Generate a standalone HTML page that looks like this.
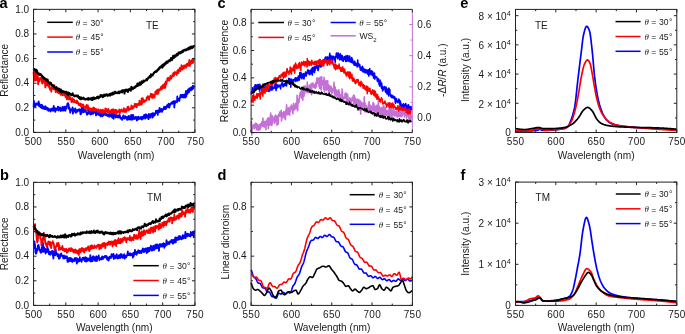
<!DOCTYPE html>
<html><head><meta charset="utf-8"><style>
html,body{margin:0;padding:0;background:#fff;width:685px;height:334px;overflow:hidden}
svg{display:block;will-change:transform}
svg{font-family:"Liberation Sans",sans-serif;font-size:10px;fill:#1a1a1a}
</style></head><body>
<svg width="685" height="334" viewBox="0 0 685 334">
<rect width="685" height="334" fill="#fff"/>
<path d="M33.6,107.4L33.9,100.8L34.2,105.9L34.5,104.6L34.8,106.1L35.1,104.8L35.4,106.6L35.7,104.1L36.0,103.4L36.3,104.7L36.6,104.5L36.9,103.4L37.2,103.5L37.5,104.8L37.8,104.7L38.1,103.2L38.4,103.3L38.7,101.5L39.0,106.0L39.3,103.5L39.6,105.6L39.9,104.6L40.2,107.0L40.5,106.8L40.8,105.7L41.1,107.6L41.4,104.9L41.7,108.1L42.0,104.8L42.3,107.3L42.6,108.4L42.9,107.5L43.2,106.9L43.5,106.4L43.8,107.2L44.1,109.1L44.4,109.0L44.7,107.6L45.0,106.4L45.3,109.0L45.6,106.4L45.9,107.6L46.2,107.5L46.5,109.5L46.8,108.9L47.1,109.3L47.4,109.1L47.7,107.9L48.0,109.6L48.3,110.8L48.6,109.0L48.9,110.0L49.2,109.0L49.5,110.6L49.8,110.2L50.1,110.5L50.4,109.8L50.7,111.5L51.0,108.9L51.3,109.0L51.6,108.6L51.9,110.2L52.2,108.6L52.5,108.6L52.8,110.3L53.1,110.9L53.4,110.1L53.7,105.9L54.0,108.2L54.3,108.0L54.6,107.8L54.9,108.9L55.2,111.8L55.5,109.0L55.8,108.4L56.1,110.3L56.4,109.4L56.7,109.5L57.0,108.4L57.3,109.3L57.6,109.8L57.9,106.7L58.2,107.0L58.5,110.5L58.8,110.1L59.1,108.3L59.4,107.6L59.7,108.7L60.0,107.3L60.3,108.4L60.6,111.0L60.9,109.0L61.2,110.3L61.5,108.5L61.8,109.2L62.1,110.5L62.4,107.0L62.7,108.2L63.0,108.5L63.3,109.0L63.6,110.6L63.9,109.5L64.2,106.6L64.5,108.1L64.8,107.3L65.1,107.1L65.4,110.9L65.7,106.7L66.0,108.2L66.3,106.7L66.6,108.5L66.9,106.6L67.2,104.8L67.5,103.5L67.8,105.2L68.1,103.2L68.4,104.5L68.7,104.8L69.0,109.0L69.3,108.0L69.6,107.8L69.9,108.9L70.2,112.8L70.5,109.6L70.8,111.0L71.1,110.6L71.4,110.0L71.7,109.2L72.0,109.7L72.3,109.8L72.6,107.4L72.9,113.7L73.2,111.5L73.5,110.5L73.8,110.0L74.1,109.3L74.4,111.5L74.7,110.1L75.0,110.9L75.3,108.5L75.6,110.8L75.9,112.9L76.2,109.9L76.5,111.3L76.8,110.3L77.1,111.7L77.4,111.7L77.7,110.4L78.0,109.6L78.3,110.7L78.6,110.4L78.9,109.5L79.2,110.9L79.5,110.9L79.8,109.2L80.1,110.3L80.4,114.3L80.7,111.6L81.0,110.7L81.3,113.8L81.6,110.0L81.9,107.4L82.2,108.2L82.5,108.7L82.8,111.1L83.1,112.1L83.4,108.0L83.7,112.3L84.0,109.3L84.3,111.3L84.6,111.7L84.9,111.7L85.2,111.2L85.5,111.4L85.8,109.8L86.1,111.7L86.4,112.6L86.7,112.6L87.0,114.9L87.3,112.9L87.6,112.5L87.9,113.8L88.2,112.0L88.5,110.0L88.8,108.8L89.1,113.5L89.4,112.6L89.7,113.0L90.0,111.5L90.3,112.5L90.6,114.5L90.9,112.5L91.2,110.7L91.5,111.6L91.8,114.1L92.1,110.9L92.4,109.0L92.7,109.5L93.0,110.8L93.3,113.6L93.6,112.7L93.9,111.7L94.2,111.1L94.5,112.7L94.8,112.7L95.1,112.2L95.4,112.7L95.7,112.1L96.0,115.5L96.3,110.1L96.6,113.4L96.9,112.0L97.2,114.3L97.5,113.1L97.8,113.9L98.1,114.2L98.4,113.8L98.7,114.9L99.0,111.8L99.3,114.9L99.6,113.4L99.9,114.3L100.2,115.8L100.5,115.3L100.8,116.5L101.1,111.0L101.4,112.7L101.7,115.2L102.0,112.6L102.3,113.8L102.6,116.3L102.9,115.3L103.2,112.9L103.5,114.8L103.8,115.1L104.1,114.4L104.4,114.2L104.7,114.6L105.0,112.5L105.3,114.7L105.6,113.3L105.9,115.2L106.2,115.3L106.5,113.6L106.8,115.6L107.1,115.4L107.4,114.9L107.7,116.0L108.0,114.7L108.3,114.8L108.6,115.3L108.9,115.2L109.2,116.8L109.5,112.3L109.8,115.1L110.1,112.9L110.4,114.9L110.7,115.9L111.0,115.6L111.3,116.9L111.6,116.1L111.9,112.2L112.2,114.3L112.5,117.8L112.8,117.9L113.1,116.0L113.4,113.9L113.7,118.8L114.0,113.3L114.3,116.4L114.6,116.0L114.9,116.4L115.2,114.6L115.5,115.7L115.8,117.7L116.1,115.7L116.4,114.6L116.7,116.4L117.0,116.6L117.3,116.4L117.6,115.7L117.9,117.5L118.2,116.7L118.5,115.4L118.8,117.3L119.1,117.1L119.4,117.4L119.7,115.0L120.0,116.3L120.3,117.9L120.6,118.6L120.9,117.9L121.2,117.7L121.5,118.5L121.8,118.9L122.1,119.9L122.4,118.3L122.7,117.0L123.0,118.4L123.3,115.3L123.6,118.0L123.9,117.3L124.2,117.9L124.5,118.6L124.8,118.1L125.1,116.2L125.4,117.6L125.7,117.1L126.0,118.1L126.3,118.6L126.6,116.9L126.9,119.1L127.2,119.9L127.5,117.8L127.8,119.1L128.1,116.3L128.4,117.5L128.7,119.4L129.0,115.9L129.3,117.5L129.6,117.0L129.9,119.7L130.2,119.7L130.5,117.4L130.8,118.4L131.1,114.8L131.4,119.3L131.7,118.6L132.0,119.9L132.3,115.1L132.6,118.6L132.9,117.7L133.2,114.8L133.5,117.3L133.8,118.1L134.1,119.2L134.4,118.4L134.7,117.5L135.0,118.8L135.3,118.0L135.6,117.3L135.9,116.8L136.2,118.3L136.5,118.3L136.8,120.5L137.1,117.5L137.4,120.1L137.7,118.5L138.0,119.5L138.3,116.7L138.6,116.7L138.9,117.4L139.2,118.9L139.5,118.0L139.8,118.6L140.1,118.0L140.4,118.9L140.7,117.8L141.0,116.8L141.3,118.1L141.6,117.5L141.9,119.6L142.2,117.0L142.5,117.3L142.8,116.8L143.1,118.6L143.4,118.2L143.7,117.9L144.0,115.3L144.3,114.9L144.6,117.2L144.9,117.7L145.2,118.7L145.5,114.4L145.8,116.4L146.1,114.4L146.4,115.3L146.7,116.2L147.0,117.7L147.3,115.7L147.6,115.4L147.9,115.8L148.2,117.8L148.5,119.2L148.8,114.0L149.1,115.6L149.4,115.3L149.7,117.3L150.0,116.3L150.3,117.6L150.6,114.2L150.9,115.4L151.2,114.7L151.5,113.8L151.8,114.9L152.1,113.4L152.4,117.6L152.7,115.2L153.0,113.2L153.3,113.6L153.6,116.5L153.9,113.5L154.2,114.9L154.5,114.6L154.8,115.1L155.1,114.3L155.4,113.1L155.7,112.4L156.0,110.7L156.3,112.8L156.6,112.9L156.9,112.1L157.2,112.2L157.5,110.7L157.8,114.9L158.1,111.2L158.4,110.4L158.7,110.8L159.0,111.1L159.3,112.1L159.6,107.8L159.9,111.5L160.2,109.8L160.5,110.2L160.8,111.5L161.1,111.0L161.4,108.9L161.7,109.5L162.0,111.9L162.3,111.0L162.6,110.2L162.9,108.9L163.2,109.9L163.5,109.0L163.8,107.6L164.1,106.8L164.4,108.6L164.7,108.2L165.0,109.1L165.3,106.8L165.6,109.0L165.9,106.6L166.2,108.5L166.5,107.4L166.8,105.8L167.1,105.1L167.4,106.1L167.7,105.7L168.0,107.1L168.3,104.8L168.6,103.6L168.9,105.4L169.2,107.7L169.5,107.2L169.8,104.1L170.1,104.4L170.4,105.0L170.7,103.5L171.0,103.9L171.3,103.7L171.6,102.5L171.9,102.9L172.2,102.9L172.5,103.7L172.8,101.6L173.1,103.1L173.4,101.5L173.7,101.6L174.0,101.0L174.3,107.5L174.6,103.7L174.9,103.6L175.2,102.7L175.5,101.1L175.8,101.3L176.1,101.4L176.4,101.4L176.7,101.3L177.0,102.3L177.3,96.3L177.6,99.2L177.9,100.5L178.2,99.0L178.5,99.0L178.8,100.9L179.1,99.0L179.4,100.8L179.7,98.2L180.0,98.3L180.3,96.4L180.6,95.0L180.9,96.8L181.2,97.2L181.5,96.4L181.8,94.8L182.1,97.2L182.4,96.2L182.7,95.9L183.0,94.6L183.3,97.6L183.6,97.1L183.9,95.3L184.2,94.6L184.5,94.8L184.8,96.5L185.1,97.7L185.4,93.8L185.7,93.0L186.0,90.9L186.3,96.7L186.6,91.4L186.9,93.7L187.2,93.0L187.5,93.9L187.8,90.8L188.1,89.5L188.4,91.6L188.7,91.7L189.0,92.4L189.3,88.5L189.6,89.9L189.9,89.9L190.2,88.2L190.5,89.5L190.8,90.5L191.1,89.2L191.4,87.1L191.7,89.2L192.0,89.6L192.3,89.0L192.6,89.1L192.9,85.7L193.2,88.2L193.5,88.1L193.8,86.6L194.1,86.8L194.4,85.6" stroke="#0000ff" stroke-width="1.8" fill="none" stroke-linejoin="round"/>
<path d="M33.6,72.0L33.9,77.0L34.2,76.4L34.5,76.8L34.8,80.7L35.1,70.3L35.4,72.9L35.7,70.7L36.0,75.6L36.3,80.1L36.6,76.6L36.9,78.8L37.2,70.4L37.5,78.1L37.8,74.6L38.1,84.3L38.4,81.4L38.7,81.8L39.0,78.6L39.3,81.1L39.6,81.4L39.9,78.3L40.2,78.0L40.5,79.5L40.8,78.1L41.1,78.3L41.4,79.5L41.7,78.3L42.0,83.1L42.3,76.0L42.6,83.5L42.9,79.3L43.2,79.7L43.5,77.6L43.8,81.3L44.1,81.2L44.4,82.6L44.7,80.7L45.0,82.7L45.3,87.5L45.6,83.9L45.9,81.5L46.2,85.7L46.5,83.1L46.8,85.1L47.1,85.4L47.4,83.1L47.7,79.5L48.0,83.6L48.3,86.0L48.6,84.0L48.9,86.2L49.2,87.6L49.5,84.3L49.8,88.6L50.1,89.7L50.4,88.6L50.7,89.0L51.0,89.0L51.3,91.8L51.6,87.4L51.9,87.2L52.2,88.7L52.5,85.7L52.8,84.6L53.1,86.2L53.4,89.0L53.7,89.4L54.0,85.6L54.3,85.2L54.6,88.5L54.9,88.9L55.2,89.4L55.5,91.0L55.8,92.2L56.1,90.5L56.4,91.4L56.7,88.5L57.0,88.6L57.3,91.3L57.6,92.3L57.9,92.5L58.2,92.5L58.5,93.0L58.8,93.2L59.1,89.0L59.4,90.9L59.7,93.1L60.0,93.5L60.3,90.3L60.6,94.8L60.9,92.4L61.2,92.9L61.5,93.8L61.8,94.7L62.1,91.6L62.4,95.4L62.7,94.2L63.0,93.2L63.3,94.1L63.6,91.5L63.9,93.9L64.2,95.3L64.5,94.2L64.8,94.9L65.1,95.4L65.4,95.8L65.7,97.3L66.0,96.1L66.3,95.9L66.6,97.2L66.9,99.3L67.2,96.4L67.5,97.6L67.8,95.3L68.1,99.0L68.4,98.3L68.7,99.3L69.0,97.8L69.3,96.9L69.6,99.3L69.9,99.3L70.2,97.7L70.5,97.2L70.8,99.5L71.1,99.0L71.4,102.2L71.7,98.8L72.0,99.1L72.3,99.8L72.6,98.2L72.9,99.3L73.2,102.2L73.5,100.5L73.8,100.1L74.1,99.6L74.4,101.8L74.7,102.1L75.0,101.8L75.3,101.3L75.6,102.2L75.9,102.5L76.2,101.5L76.5,103.2L76.8,100.3L77.1,101.4L77.4,102.7L77.7,103.1L78.0,102.1L78.3,103.9L78.6,104.9L78.9,104.4L79.2,104.3L79.5,105.1L79.8,104.8L80.1,103.3L80.4,104.5L80.7,106.3L81.0,103.8L81.3,105.2L81.6,104.9L81.9,104.5L82.2,104.5L82.5,105.8L82.8,106.2L83.1,106.3L83.4,104.6L83.7,106.0L84.0,106.8L84.3,107.6L84.6,107.4L84.9,107.7L85.2,108.1L85.5,107.9L85.8,106.2L86.1,107.3L86.4,106.6L86.7,104.8L87.0,105.7L87.3,110.0L87.6,106.5L87.9,105.4L88.2,107.3L88.5,109.7L88.8,108.1L89.1,108.7L89.4,108.0L89.7,108.3L90.0,109.9L90.3,109.4L90.6,108.6L90.9,109.7L91.2,110.0L91.5,108.6L91.8,109.3L92.1,109.3L92.4,108.4L92.7,110.4L93.0,109.0L93.3,108.6L93.6,107.5L93.9,108.0L94.2,111.1L94.5,108.2L94.8,110.0L95.1,109.2L95.4,110.2L95.7,110.4L96.0,108.9L96.3,109.5L96.6,110.0L96.9,110.0L97.2,109.9L97.5,109.7L97.8,110.8L98.1,111.6L98.4,110.8L98.7,109.4L99.0,110.7L99.3,110.4L99.6,110.9L99.9,112.5L100.2,110.3L100.5,110.6L100.8,109.7L101.1,110.4L101.4,110.2L101.7,112.6L102.0,111.3L102.3,110.3L102.6,113.1L102.9,109.6L103.2,112.0L103.5,112.2L103.8,111.7L104.1,110.8L104.4,111.0L104.7,110.7L105.0,112.0L105.3,108.5L105.6,110.5L105.9,111.3L106.2,110.5L106.5,109.1L106.8,110.8L107.1,110.3L107.4,112.0L107.7,112.6L108.0,111.2L108.3,109.0L108.6,110.9L108.9,110.1L109.2,111.9L109.5,113.0L109.8,111.4L110.1,113.3L110.4,112.8L110.7,111.9L111.0,110.2L111.3,111.3L111.6,109.6L111.9,112.4L112.2,111.4L112.5,112.7L112.8,111.6L113.1,109.1L113.4,112.0L113.7,112.3L114.0,113.1L114.3,110.2L114.6,110.2L114.9,111.3L115.2,110.1L115.5,109.7L115.8,110.1L116.1,114.1L116.4,110.5L116.7,110.1L117.0,110.7L117.3,111.2L117.6,112.6L117.9,112.2L118.2,112.0L118.5,111.2L118.8,111.3L119.1,110.4L119.4,109.4L119.7,113.3L120.0,110.5L120.3,112.1L120.6,110.6L120.9,110.8L121.2,110.7L121.5,109.3L121.8,110.7L122.1,111.2L122.4,111.6L122.7,111.2L123.0,111.7L123.3,110.8L123.6,110.4L123.9,108.2L124.2,109.7L124.5,111.9L124.8,110.3L125.1,110.9L125.4,109.7L125.7,109.1L126.0,112.1L126.3,110.1L126.6,111.3L126.9,110.1L127.2,109.2L127.5,106.9L127.8,109.4L128.1,107.5L128.4,106.7L128.7,110.4L129.0,109.7L129.3,109.5L129.6,108.8L129.9,108.6L130.2,109.0L130.5,108.6L130.8,108.3L131.1,109.0L131.4,105.3L131.7,108.9L132.0,107.0L132.3,108.6L132.6,108.8L132.9,106.4L133.2,108.1L133.5,108.0L133.8,106.1L134.1,106.2L134.4,106.8L134.7,103.8L135.0,105.8L135.3,106.4L135.6,105.5L135.9,103.9L136.2,105.2L136.5,107.4L136.8,107.0L137.1,105.0L137.4,104.0L137.7,104.8L138.0,104.7L138.3,103.6L138.6,103.9L138.9,104.9L139.2,105.1L139.5,100.6L139.8,104.8L140.1,103.5L140.4,104.6L140.7,102.9L141.0,103.3L141.3,104.7L141.6,98.5L141.9,104.2L142.2,102.2L142.5,99.4L142.8,98.1L143.1,101.8L143.4,99.9L143.7,102.4L144.0,101.2L144.3,100.5L144.6,101.8L144.9,100.6L145.2,101.1L145.5,101.0L145.8,100.2L146.1,100.6L146.4,100.4L146.7,97.3L147.0,98.6L147.3,98.6L147.6,98.0L147.9,96.1L148.2,97.4L148.5,98.5L148.8,98.1L149.1,99.8L149.4,96.5L149.7,96.6L150.0,96.2L150.3,96.4L150.6,95.7L150.9,93.7L151.2,96.7L151.5,97.5L151.8,97.5L152.1,94.1L152.4,95.2L152.7,98.0L153.0,94.9L153.3,95.4L153.6,94.5L153.9,96.0L154.2,95.8L154.5,97.6L154.8,94.6L155.1,94.4L155.4,91.6L155.7,92.6L156.0,91.9L156.3,92.3L156.6,90.5L156.9,94.2L157.2,90.4L157.5,92.2L157.8,89.6L158.1,91.8L158.4,93.6L158.7,89.5L159.0,91.1L159.3,90.1L159.6,90.4L159.9,90.4L160.2,88.4L160.5,88.8L160.8,87.9L161.1,87.2L161.4,86.3L161.7,89.5L162.0,86.5L162.3,88.4L162.6,88.0L162.9,85.2L163.2,88.1L163.5,84.8L163.8,86.8L164.1,87.9L164.4,84.1L164.7,83.4L165.0,83.1L165.3,87.9L165.6,83.3L165.9,81.5L166.2,84.4L166.5,82.5L166.8,82.3L167.1,80.4L167.4,78.1L167.7,80.1L168.0,79.2L168.3,77.9L168.6,78.4L168.9,78.2L169.2,80.7L169.5,80.2L169.8,79.5L170.1,77.5L170.4,76.0L170.7,78.2L171.0,78.2L171.3,78.7L171.6,76.7L171.9,76.3L172.2,76.7L172.5,74.4L172.8,74.3L173.1,76.3L173.4,73.0L173.7,74.6L174.0,75.7L174.3,74.5L174.6,74.5L174.9,71.8L175.2,73.1L175.5,72.6L175.8,73.7L176.1,73.2L176.4,72.3L176.7,75.0L177.0,72.6L177.3,71.0L177.6,70.2L177.9,70.9L178.2,69.8L178.5,73.1L178.8,71.1L179.1,69.5L179.4,68.7L179.7,67.8L180.0,68.8L180.3,71.1L180.6,70.2L180.9,68.5L181.2,68.6L181.5,65.2L181.8,69.1L182.1,67.3L182.4,69.7L182.7,67.0L183.0,66.3L183.3,67.2L183.6,65.6L183.9,68.6L184.2,66.7L184.5,66.6L184.8,66.3L185.1,65.1L185.4,66.2L185.7,65.5L186.0,67.9L186.3,65.0L186.6,65.3L186.9,63.8L187.2,63.7L187.5,63.6L187.8,66.0L188.1,63.9L188.4,65.1L188.7,63.0L189.0,62.6L189.3,60.0L189.6,64.2L189.9,66.0L190.2,62.1L190.5,64.6L190.8,63.4L191.1,60.8L191.4,62.9L191.7,60.1L192.0,60.8L192.3,63.1L192.6,61.2L192.9,58.8L193.2,62.8L193.5,58.6L193.8,59.9L194.1,59.4L194.4,59.5" stroke="#ff0000" stroke-width="1.8" fill="none" stroke-linejoin="round"/>
<path d="M33.6,69.0L33.9,70.0L34.2,70.1L34.5,69.0L34.8,69.3L35.1,69.4L35.4,70.4L35.7,70.3L36.0,71.2L36.3,69.7L36.6,72.4L36.9,71.6L37.2,72.5L37.5,72.3L37.8,72.5L38.1,73.4L38.4,74.0L38.7,73.6L39.0,73.9L39.3,74.7L39.6,73.9L39.9,73.7L40.2,75.3L40.5,74.8L40.8,74.2L41.1,75.2L41.4,75.6L41.7,75.4L42.0,75.4L42.3,76.7L42.6,77.5L42.9,77.0L43.2,76.8L43.5,77.9L43.8,78.3L44.1,77.9L44.4,78.7L44.7,79.3L45.0,78.7L45.3,78.5L45.6,79.6L45.9,79.8L46.2,80.6L46.5,79.2L46.8,79.9L47.1,80.1L47.4,79.8L47.7,81.3L48.0,81.9L48.3,81.3L48.6,83.1L48.9,82.9L49.2,83.1L49.5,83.2L49.8,83.8L50.1,82.5L50.4,84.1L50.7,84.4L51.0,83.0L51.3,84.7L51.6,84.5L51.9,85.5L52.2,84.9L52.5,85.4L52.8,85.9L53.1,85.3L53.4,86.5L53.7,86.3L54.0,86.9L54.3,86.4L54.6,87.8L54.9,87.6L55.2,87.3L55.5,88.1L55.8,88.7L56.1,89.3L56.4,87.1L56.7,89.0L57.0,88.9L57.3,88.7L57.6,88.3L57.9,90.0L58.2,88.4L58.5,89.9L58.8,90.6L59.1,88.7L59.4,89.8L59.7,89.2L60.0,90.5L60.3,91.5L60.6,92.0L60.9,89.5L61.2,90.5L61.5,91.5L61.8,92.3L62.1,91.6L62.4,90.9L62.7,91.8L63.0,91.7L63.3,91.7L63.6,91.4L63.9,92.3L64.2,92.4L64.5,92.2L64.8,92.2L65.1,91.6L65.4,92.2L65.7,93.5L66.0,92.6L66.3,91.9L66.6,93.9L66.9,93.4L67.2,94.6L67.5,93.3L67.8,93.0L68.1,92.4L68.4,94.4L68.7,95.4L69.0,93.1L69.3,93.3L69.6,94.3L69.9,93.4L70.2,93.9L70.5,93.9L70.8,94.4L71.1,95.1L71.4,94.4L71.7,95.1L72.0,94.3L72.3,94.9L72.6,93.3L72.9,93.9L73.2,95.5L73.5,94.7L73.8,95.6L74.1,95.7L74.4,96.3L74.7,96.1L75.0,96.4L75.3,95.7L75.6,95.4L75.9,95.5L76.2,95.8L76.5,95.5L76.8,96.0L77.1,96.5L77.4,96.8L77.7,96.5L78.0,95.5L78.3,97.0L78.6,97.3L78.9,98.0L79.2,97.7L79.5,97.0L79.8,97.0L80.1,99.0L80.4,98.3L80.7,99.1L81.0,99.4L81.3,97.4L81.6,98.4L81.9,98.5L82.2,98.7L82.5,98.8L82.8,98.7L83.1,98.7L83.4,97.6L83.7,98.7L84.0,98.3L84.3,99.0L84.6,98.6L84.9,99.4L85.2,99.6L85.5,99.3L85.8,99.3L86.1,99.2L86.4,98.8L86.7,99.0L87.0,98.7L87.3,99.4L87.6,99.1L87.9,99.5L88.2,98.1L88.5,99.7L88.8,98.5L89.1,98.5L89.4,98.9L89.7,98.6L90.0,99.2L90.3,98.5L90.6,98.2L90.9,98.3L91.2,99.8L91.5,98.9L91.8,98.0L92.1,98.8L92.4,97.7L92.7,100.0L93.0,97.6L93.3,98.9L93.6,98.9L93.9,97.5L94.2,98.6L94.5,99.0L94.8,98.6L95.1,98.3L95.4,98.7L95.7,98.1L96.0,98.1L96.3,97.7L96.6,98.1L96.9,96.9L97.2,98.1L97.5,97.1L97.8,96.6L98.1,97.5L98.4,98.4L98.7,97.8L99.0,96.7L99.3,97.5L99.6,96.6L99.9,96.7L100.2,96.8L100.5,95.1L100.8,96.7L101.1,95.8L101.4,96.0L101.7,95.3L102.0,95.2L102.3,95.6L102.6,96.7L102.9,97.2L103.2,96.0L103.5,96.7L103.8,95.7L104.1,94.4L104.4,95.8L104.7,95.9L105.0,95.2L105.3,95.7L105.6,95.8L105.9,94.7L106.2,94.2L106.5,95.0L106.8,94.9L107.1,94.7L107.4,95.6L107.7,96.0L108.0,94.4L108.3,95.1L108.6,95.2L108.9,95.0L109.2,95.1L109.5,94.1L109.8,94.8L110.1,95.6L110.4,94.7L110.7,93.6L111.0,94.4L111.3,94.8L111.6,94.1L111.9,93.3L112.2,94.7L112.5,92.7L112.8,93.9L113.1,93.4L113.4,92.5L113.7,94.2L114.0,93.5L114.3,92.4L114.6,93.5L114.9,92.7L115.2,91.6L115.5,92.4L115.8,93.0L116.1,93.2L116.4,92.8L116.7,92.7L117.0,92.9L117.3,92.4L117.6,93.3L117.9,92.5L118.2,92.6L118.5,92.7L118.8,91.5L119.1,91.7L119.4,93.2L119.7,92.3L120.0,91.8L120.3,92.2L120.6,91.5L120.9,92.0L121.2,91.3L121.5,91.9L121.8,90.5L122.1,92.5L122.4,91.1L122.7,90.3L123.0,91.2L123.3,91.0L123.6,91.3L123.9,90.4L124.2,91.4L124.5,93.6L124.8,90.0L125.1,91.1L125.4,90.6L125.7,90.9L126.0,89.4L126.3,89.7L126.6,90.8L126.9,90.4L127.2,91.4L127.5,89.7L127.8,90.2L128.1,92.0L128.4,89.4L128.7,89.2L129.0,89.6L129.3,89.5L129.6,90.0L129.9,89.4L130.2,88.6L130.5,89.2L130.8,90.7L131.1,89.7L131.4,86.7L131.7,88.4L132.0,87.7L132.3,88.6L132.6,87.9L132.9,89.2L133.2,88.4L133.5,88.2L133.8,87.6L134.1,87.2L134.4,87.3L134.7,87.9L135.0,87.2L135.3,86.4L135.6,87.4L135.9,86.5L136.2,86.1L136.5,85.4L136.8,85.4L137.1,85.2L137.4,83.5L137.7,86.0L138.0,85.5L138.3,84.8L138.6,85.5L138.9,84.9L139.2,84.7L139.5,82.5L139.8,83.9L140.1,84.2L140.4,84.8L140.7,84.8L141.0,84.3L141.3,82.3L141.6,81.4L141.9,83.1L142.2,82.5L142.5,83.0L142.8,82.0L143.1,82.1L143.4,80.6L143.7,81.8L144.0,81.0L144.3,81.3L144.6,81.2L144.9,80.6L145.2,80.6L145.5,80.2L145.8,80.5L146.1,80.1L146.4,79.2L146.7,78.9L147.0,80.3L147.3,78.8L147.6,79.3L147.9,78.7L148.2,77.8L148.5,77.4L148.8,77.8L149.1,77.6L149.4,77.6L149.7,76.1L150.0,76.3L150.3,76.4L150.6,77.3L150.9,74.3L151.2,76.0L151.5,75.0L151.8,75.4L152.1,74.5L152.4,74.8L152.7,75.4L153.0,74.2L153.3,74.0L153.6,73.7L153.9,72.6L154.2,73.2L154.5,72.4L154.8,71.7L155.1,72.0L155.4,71.6L155.7,72.0L156.0,71.2L156.3,70.6L156.6,71.7L156.9,71.1L157.2,71.1L157.5,70.4L157.8,69.6L158.1,69.1L158.4,69.0L158.7,69.6L159.0,68.8L159.3,67.4L159.6,68.2L159.9,67.0L160.2,67.9L160.5,66.7L160.8,66.4L161.1,67.1L161.4,66.8L161.7,65.4L162.0,66.9L162.3,67.6L162.6,64.8L162.9,66.9L163.2,64.9L163.5,64.8L163.8,64.8L164.1,63.7L164.4,65.4L164.7,64.6L165.0,63.5L165.3,63.5L165.6,62.4L165.9,63.0L166.2,63.7L166.5,61.6L166.8,62.2L167.1,62.4L167.4,62.8L167.7,62.8L168.0,61.2L168.3,60.8L168.6,61.4L168.9,60.6L169.2,60.4L169.5,61.1L169.8,61.3L170.1,60.1L170.4,59.5L170.7,59.8L171.0,57.9L171.3,58.9L171.6,58.0L171.9,60.2L172.2,58.8L172.5,58.1L172.8,57.7L173.1,55.8L173.4,57.9L173.7,58.3L174.0,56.4L174.3,57.2L174.6,57.0L174.9,55.2L175.2,56.8L175.5,56.8L175.8,55.8L176.1,55.4L176.4,55.8L176.7,54.0L177.0,54.9L177.3,55.4L177.6,53.6L177.9,54.9L178.2,53.8L178.5,52.4L178.8,53.6L179.1,52.8L179.4,53.5L179.7,52.3L180.0,53.6L180.3,52.2L180.6,52.8L180.9,51.9L181.2,51.9L181.5,52.8L181.8,52.0L182.1,51.4L182.4,50.6L182.7,52.1L183.0,51.7L183.3,50.8L183.6,51.0L183.9,50.0L184.2,49.8L184.5,49.8L184.8,50.5L185.1,50.3L185.4,49.5L185.7,50.4L186.0,50.3L186.3,49.7L186.6,50.2L186.9,49.1L187.2,49.1L187.5,49.4L187.8,48.9L188.1,49.3L188.4,47.8L188.7,49.5L189.0,47.9L189.3,48.2L189.6,47.2L189.9,48.5L190.2,48.8L190.5,48.6L190.8,48.3L191.1,46.5L191.4,46.9L191.7,47.1L192.0,46.6L192.3,48.0L192.6,47.2L192.9,47.0L193.2,47.2L193.5,46.1L193.8,46.1L194.1,46.0L194.4,46.9" stroke="#000000" stroke-width="2.0" fill="none" stroke-linejoin="round"/>
<rect x="33.55" y="9.35" width="161.35" height="123.05" fill="none" stroke="#222" stroke-width="1"/>
<path d="M33.55,132.4v-3.0M33.55,9.35v3.0M65.82,132.4v-3.0M65.82,9.35v3.0M98.09,132.4v-3.0M98.09,9.35v3.0M130.36,132.4v-3.0M130.36,9.35v3.0M162.63,132.4v-3.0M162.63,9.35v3.0M194.9,132.4v-3.0M194.9,9.35v3.0M49.69,132.4v-1.8M49.69,9.35v1.8M81.96,132.4v-1.8M81.96,9.35v1.8M114.23,132.4v-1.8M114.23,9.35v1.8M146.5,132.4v-1.8M146.5,9.35v1.8M178.77,132.4v-1.8M178.77,9.35v1.8" stroke="#222" stroke-width="1" fill="none"/>
<text x="33.45" y="144.8" text-anchor="middle" letter-spacing="0.3">500</text>
<text x="66.25" y="144.8" text-anchor="middle" letter-spacing="0.3">550</text>
<text x="99.95" y="144.8" text-anchor="middle" letter-spacing="0.3">600</text>
<text x="133.05" y="144.8" text-anchor="middle" letter-spacing="0.3">650</text>
<text x="166.15" y="144.8" text-anchor="middle" letter-spacing="0.3">700</text>
<text x="195.55" y="144.8" text-anchor="middle" letter-spacing="0.3">750</text>
<path d="M33.55,132.4h3.0M194.9,132.4h-3.0M33.55,107.79h3.0M194.9,107.79h-3.0M33.55,83.18h3.0M194.9,83.18h-3.0M33.55,58.57h3.0M194.9,58.57h-3.0M33.55,33.96h3.0M194.9,33.96h-3.0M33.55,9.35h3.0M194.9,9.35h-3.0M33.55,120.09h1.8M194.9,120.09h-1.8M33.55,95.49h1.8M194.9,95.49h-1.8M33.55,70.88h1.8M194.9,70.88h-1.8M33.55,46.27h1.8M194.9,46.27h-1.8M33.55,21.65h1.8M194.9,21.65h-1.8" stroke="#222" stroke-width="1" fill="none"/>
<text x="29.05" y="135.6" text-anchor="end">0.0</text>
<text x="29.05" y="110.99" text-anchor="end">0.2</text>
<text x="29.05" y="86.38" text-anchor="end">0.4</text>
<text x="29.05" y="61.77" text-anchor="end">0.6</text>
<text x="29.05" y="37.16" text-anchor="end">0.8</text>
<text x="29.05" y="12.55" text-anchor="end">1.0</text>
<text transform="translate(8.3,70.3) rotate(-90)" text-anchor="middle" font-size="10">Reflectance</text>
<text x="116.1" y="159.2" text-anchor="middle" font-size="10.15">Wavelength (nm)</text>
<text x="-0.6" y="7.6" font-weight="bold" font-size="14.6" fill="#000">a</text>
<text x="146" y="29.0">TE</text>
<path d="M47.2,22.3H72.8" stroke="#000000" stroke-width="1.5"/>
<text x="75.8" y="25.6" font-family="Liberation Serif" font-style="italic" font-size="8.9">θ</text>
<text x="82.6" y="26.1" font-size="8.6">=</text>
<text x="90.4" y="25.6" font-size="8.6">30</text>
<text x="100.2" y="25.6" font-size="8.6">°</text>
<path d="M47.2,37.1H72.8" stroke="#ff0000" stroke-width="1.5"/>
<text x="75.8" y="40.4" font-family="Liberation Serif" font-style="italic" font-size="8.9">θ</text>
<text x="82.6" y="40.9" font-size="8.6">=</text>
<text x="90.4" y="40.4" font-size="8.6">45</text>
<text x="100.2" y="40.4" font-size="8.6">°</text>
<path d="M47.2,52H72.8" stroke="#0000ff" stroke-width="1.5"/>
<text x="75.8" y="55.3" font-family="Liberation Serif" font-style="italic" font-size="8.9">θ</text>
<text x="82.6" y="55.8" font-size="8.6">=</text>
<text x="90.4" y="55.3" font-size="8.6">55</text>
<text x="100.2" y="55.3" font-size="8.6">°</text>
<path d="M33.6,244.7L33.9,244.3L34.2,244.6L34.5,241.4L34.8,248.3L35.1,244.9L35.4,252.2L35.7,252.7L36.0,253.6L36.3,253.5L36.6,251.9L36.9,249.2L37.2,248.4L37.5,250.7L37.8,245.7L38.1,245.8L38.4,244.8L38.7,245.7L39.0,247.1L39.3,249.3L39.6,249.6L39.9,250.6L40.2,250.9L40.5,252.5L40.8,249.6L41.1,251.4L41.4,252.5L41.7,247.5L42.0,247.5L42.3,251.6L42.6,244.2L42.9,242.9L43.2,245.5L43.5,250.3L43.8,251.8L44.1,247.4L44.4,251.7L44.7,251.6L45.0,251.1L45.3,248.8L45.6,253.5L45.9,249.6L46.2,250.7L46.5,249.6L46.8,252.0L47.1,250.6L47.4,246.9L47.7,249.0L48.0,252.0L48.3,249.2L48.6,251.9L48.9,254.0L49.2,251.7L49.5,252.7L49.8,251.9L50.1,254.8L50.4,252.7L50.7,254.4L51.0,252.3L51.3,252.5L51.6,251.2L51.9,252.6L52.2,251.6L52.5,251.0L52.8,255.3L53.1,255.9L53.4,258.7L53.7,255.5L54.0,255.1L54.3,253.8L54.6,249.8L54.9,253.2L55.2,255.3L55.5,252.6L55.8,249.7L56.1,254.3L56.4,252.5L56.7,253.2L57.0,253.7L57.3,254.8L57.6,256.4L57.9,253.8L58.2,256.4L58.5,256.2L58.8,258.6L59.1,255.3L59.4,258.7L59.7,256.8L60.0,257.8L60.3,254.2L60.6,256.2L60.9,255.7L61.2,253.3L61.5,255.5L61.8,255.7L62.1,255.5L62.4,256.3L62.7,255.7L63.0,257.3L63.3,258.4L63.6,256.7L63.9,255.4L64.2,258.7L64.5,256.5L64.8,256.8L65.1,256.4L65.4,256.1L65.7,258.0L66.0,256.7L66.3,257.9L66.6,256.3L66.9,256.4L67.2,258.5L67.5,261.9L67.8,259.5L68.1,261.9L68.4,259.7L68.7,259.5L69.0,257.8L69.3,258.5L69.6,261.0L69.9,260.2L70.2,257.8L70.5,258.2L70.8,261.0L71.1,258.7L71.4,261.0L71.7,258.5L72.0,260.8L72.3,262.0L72.6,261.0L72.9,260.0L73.2,259.8L73.5,259.3L73.8,259.3L74.1,261.0L74.4,261.0L74.7,260.0L75.0,257.8L75.3,259.0L75.6,260.3L75.9,260.1L76.2,258.1L76.5,261.0L76.8,263.7L77.1,258.3L77.4,260.0L77.7,262.2L78.0,259.3L78.3,259.2L78.6,260.1L78.9,260.6L79.2,259.3L79.5,261.3L79.8,257.2L80.1,260.8L80.4,260.4L80.7,259.7L81.0,260.4L81.3,260.0L81.6,261.8L81.9,259.2L82.2,259.8L82.5,257.9L82.8,258.3L83.1,259.6L83.4,257.7L83.7,258.7L84.0,258.0L84.3,259.2L84.6,260.0L84.9,261.2L85.2,257.1L85.5,259.5L85.8,261.0L86.1,261.7L86.4,261.7L86.7,257.6L87.0,258.9L87.3,260.4L87.6,260.9L87.9,259.9L88.2,259.9L88.5,259.8L88.8,258.3L89.1,259.6L89.4,260.5L89.7,258.8L90.0,260.9L90.3,255.2L90.6,258.7L90.9,261.6L91.2,260.4L91.5,261.1L91.8,259.3L92.1,257.3L92.4,258.2L92.7,261.1L93.0,256.3L93.3,257.5L93.6,256.4L93.9,258.0L94.2,258.1L94.5,259.5L94.8,257.5L95.1,261.0L95.4,259.5L95.7,257.8L96.0,257.0L96.3,256.3L96.6,258.6L96.9,261.2L97.2,258.1L97.5,256.8L97.8,258.1L98.1,257.5L98.4,256.9L98.7,255.4L99.0,258.0L99.3,260.2L99.6,259.8L99.9,259.4L100.2,258.3L100.5,258.6L100.8,259.3L101.1,257.8L101.4,258.2L101.7,257.2L102.0,259.4L102.3,256.4L102.6,258.7L102.9,258.9L103.2,258.8L103.5,258.6L103.8,256.9L104.1,256.7L104.4,256.9L104.7,257.0L105.0,255.8L105.3,256.8L105.6,256.5L105.9,256.0L106.2,257.9L106.5,256.2L106.8,257.7L107.1,259.4L107.4,259.7L107.7,257.3L108.0,258.7L108.3,257.6L108.6,260.6L108.9,259.5L109.2,258.7L109.5,256.9L109.8,256.7L110.1,257.9L110.4,257.0L110.7,256.7L111.0,258.0L111.3,255.2L111.6,254.1L111.9,255.5L112.2,255.2L112.5,256.7L112.8,255.6L113.1,256.5L113.4,253.9L113.7,258.9L114.0,257.3L114.3,255.4L114.6,257.1L114.9,258.4L115.2,257.8L115.5,256.4L115.8,257.4L116.1,257.8L116.4,254.7L116.7,254.3L117.0,255.5L117.3,257.8L117.6,258.5L117.9,256.5L118.2,258.4L118.5,257.7L118.8,256.1L119.1,255.1L119.4,255.2L119.7,256.2L120.0,258.1L120.3,257.2L120.6,254.1L120.9,254.2L121.2,257.1L121.5,256.2L121.8,254.5L122.1,256.8L122.4,257.8L122.7,257.0L123.0,255.9L123.3,257.7L123.6,255.2L123.9,254.8L124.2,254.3L124.5,258.4L124.8,258.7L125.1,255.5L125.4,256.4L125.7,256.2L126.0,256.8L126.3,257.2L126.6,256.4L126.9,255.2L127.2,254.6L127.5,253.8L127.8,251.4L128.1,255.1L128.4,253.9L128.7,255.1L129.0,254.9L129.3,253.5L129.6,254.2L129.9,255.4L130.2,255.0L130.5,253.4L130.8,253.5L131.1,255.3L131.4,254.7L131.7,254.8L132.0,254.0L132.3,255.2L132.6,254.2L132.9,257.6L133.2,253.2L133.5,252.7L133.8,256.1L134.1,253.5L134.4,252.4L134.7,254.0L135.0,249.9L135.3,253.9L135.6,253.2L135.9,253.5L136.2,251.8L136.5,254.8L136.8,253.3L137.1,252.7L137.4,253.2L137.7,251.4L138.0,252.3L138.3,250.2L138.6,250.7L138.9,252.7L139.2,252.3L139.5,253.2L139.8,251.0L140.1,251.7L140.4,250.8L140.7,252.1L141.0,252.8L141.3,253.1L141.6,252.3L141.9,250.3L142.2,251.6L142.5,249.7L142.8,248.4L143.1,251.4L143.4,251.1L143.7,252.0L144.0,252.1L144.3,249.0L144.6,249.4L144.9,250.6L145.2,250.7L145.5,251.1L145.8,248.5L146.1,250.0L146.4,251.2L146.7,253.0L147.0,248.3L147.3,252.5L147.6,249.6L147.9,247.8L148.2,251.8L148.5,248.2L148.8,248.0L149.1,250.7L149.4,251.1L149.7,249.6L150.0,248.3L150.3,247.1L150.6,249.3L150.9,245.7L151.2,246.9L151.5,250.5L151.8,249.7L152.1,250.5L152.4,249.2L152.7,246.8L153.0,249.1L153.3,245.6L153.6,249.2L153.9,250.1L154.2,246.5L154.5,249.3L154.8,247.8L155.1,247.4L155.4,244.6L155.7,247.1L156.0,248.5L156.3,244.6L156.6,246.3L156.9,245.9L157.2,244.4L157.5,248.2L157.8,246.6L158.1,246.5L158.4,247.8L158.7,245.1L159.0,250.9L159.3,245.3L159.6,244.2L159.9,246.7L160.2,246.2L160.5,244.1L160.8,244.1L161.1,246.6L161.4,245.7L161.7,245.7L162.0,246.3L162.3,244.0L162.6,246.7L162.9,244.7L163.2,245.7L163.5,243.1L163.8,245.5L164.1,244.7L164.4,247.8L164.7,243.8L165.0,246.2L165.3,244.8L165.6,246.0L165.9,244.0L166.2,244.2L166.5,240.1L166.8,241.4L167.1,244.7L167.4,243.7L167.7,244.1L168.0,242.4L168.3,243.9L168.6,242.1L168.9,242.4L169.2,244.2L169.5,243.8L169.8,241.5L170.1,242.1L170.4,242.3L170.7,241.6L171.0,241.5L171.3,240.2L171.6,242.3L171.9,239.8L172.2,239.8L172.5,243.0L172.8,243.7L173.1,243.6L173.4,241.3L173.7,239.9L174.0,241.7L174.3,242.7L174.6,240.5L174.9,239.6L175.2,237.6L175.5,237.5L175.8,242.4L176.1,237.6L176.4,238.7L176.7,239.1L177.0,239.8L177.3,237.4L177.6,240.0L177.9,239.9L178.2,239.1L178.5,237.9L178.8,238.2L179.1,235.8L179.4,239.4L179.7,237.6L180.0,236.2L180.3,238.1L180.6,238.8L180.9,238.5L181.2,238.7L181.5,239.4L181.8,236.8L182.1,237.8L182.4,237.7L182.7,235.1L183.0,238.7L183.3,236.5L183.6,237.3L183.9,237.2L184.2,235.4L184.5,237.8L184.8,237.9L185.1,236.6L185.4,231.9L185.7,238.1L186.0,235.8L186.3,234.9L186.6,234.9L186.9,234.0L187.2,235.0L187.5,236.3L187.8,233.6L188.1,235.5L188.4,234.2L188.7,234.6L189.0,234.3L189.3,235.2L189.6,236.1L189.9,234.5L190.2,235.7L190.5,236.5L190.8,232.0L191.1,235.2L191.4,233.5L191.7,233.5L192.0,235.2L192.3,233.3L192.6,232.5L192.9,235.3L193.2,234.8L193.5,233.8L193.8,237.3L194.1,231.5L194.4,230.4" stroke="#0000ff" stroke-width="1.8" fill="none" stroke-linejoin="round"/>
<path d="M33.6,227.0L33.9,226.1L34.2,224.7L34.5,225.4L34.8,229.4L35.1,224.1L35.4,230.4L35.7,232.9L36.0,231.8L36.3,233.3L36.6,237.4L36.9,240.2L37.2,242.7L37.5,240.4L37.8,241.2L38.1,236.4L38.4,234.5L38.7,231.9L39.0,232.3L39.3,233.5L39.6,235.0L39.9,233.1L40.2,238.4L40.5,238.2L40.8,238.7L41.1,239.7L41.4,245.7L41.7,242.5L42.0,240.2L42.3,239.3L42.6,243.3L42.9,237.7L43.2,239.8L43.5,239.6L43.8,232.6L44.1,239.6L44.4,237.6L44.7,237.3L45.0,239.7L45.3,243.1L45.6,244.0L45.9,244.8L46.2,243.1L46.5,246.5L46.8,246.2L47.1,245.9L47.4,243.5L47.7,244.2L48.0,244.0L48.3,241.5L48.6,242.1L48.9,242.3L49.2,243.2L49.5,244.9L49.8,241.6L50.1,244.9L50.4,246.8L50.7,242.7L51.0,243.6L51.3,248.1L51.6,242.9L51.9,243.1L52.2,243.8L52.5,242.0L52.8,241.2L53.1,242.0L53.4,242.7L53.7,243.3L54.0,245.4L54.3,248.6L54.6,247.3L54.9,249.8L55.2,248.5L55.5,248.5L55.8,247.7L56.1,245.8L56.4,246.4L56.7,245.7L57.0,243.2L57.3,246.1L57.6,246.1L57.9,246.2L58.2,245.4L58.5,242.9L58.8,249.9L59.1,248.1L59.4,245.3L59.7,249.7L60.0,247.6L60.3,249.4L60.6,247.9L60.9,249.4L61.2,247.8L61.5,247.6L61.8,247.4L62.1,249.2L62.4,245.8L62.7,250.0L63.0,249.7L63.3,248.4L63.6,249.6L63.9,249.2L64.2,250.1L64.5,251.4L64.8,248.8L65.1,250.7L65.4,250.7L65.7,250.0L66.0,251.3L66.3,248.8L66.6,250.1L66.9,253.0L67.2,249.7L67.5,249.8L67.8,250.4L68.1,251.6L68.4,250.0L68.7,250.6L69.0,248.3L69.3,249.2L69.6,249.1L69.9,248.6L70.2,249.6L70.5,251.2L70.8,249.5L71.1,248.2L71.4,250.7L71.7,250.8L72.0,248.7L72.3,251.2L72.6,249.6L72.9,250.3L73.2,250.2L73.5,252.5L73.8,249.9L74.1,250.6L74.4,251.2L74.7,252.4L75.0,252.6L75.3,249.3L75.6,252.7L75.9,251.4L76.2,252.9L76.5,252.8L76.8,250.4L77.1,251.4L77.4,250.9L77.7,251.9L78.0,253.8L78.3,251.3L78.6,250.2L78.9,255.0L79.2,249.5L79.5,251.0L79.8,251.0L80.1,249.0L80.4,252.1L80.7,252.4L81.0,250.6L81.3,250.7L81.6,250.3L81.9,247.8L82.2,250.8L82.5,248.4L82.8,248.8L83.1,250.8L83.4,251.5L83.7,248.7L84.0,251.7L84.3,252.6L84.6,250.1L84.9,249.6L85.2,249.9L85.5,248.9L85.8,248.1L86.1,250.3L86.4,250.4L86.7,248.4L87.0,248.4L87.3,248.0L87.6,247.8L87.9,247.3L88.2,246.4L88.5,250.0L88.8,248.0L89.1,248.5L89.4,251.1L89.7,247.5L90.0,249.0L90.3,246.0L90.6,247.0L90.9,249.0L91.2,247.4L91.5,245.5L91.8,245.3L92.1,248.1L92.4,246.0L92.7,248.4L93.0,247.7L93.3,246.7L93.6,247.0L93.9,248.2L94.2,247.0L94.5,245.4L94.8,247.3L95.1,246.2L95.4,246.3L95.7,247.4L96.0,247.0L96.3,248.0L96.6,246.1L96.9,245.6L97.2,245.7L97.5,246.7L97.8,244.8L98.1,245.4L98.4,244.6L98.7,244.6L99.0,245.5L99.3,249.4L99.6,245.0L99.9,245.9L100.2,245.6L100.5,245.1L100.8,245.4L101.1,248.3L101.4,244.8L101.7,247.6L102.0,246.0L102.3,243.7L102.6,243.9L102.9,244.2L103.2,243.1L103.5,246.5L103.8,245.3L104.1,245.4L104.4,243.0L104.7,245.2L105.0,243.6L105.3,248.1L105.6,244.1L105.9,244.6L106.2,244.8L106.5,243.4L106.8,243.4L107.1,243.4L107.4,245.2L107.7,242.7L108.0,243.5L108.3,244.2L108.6,243.0L108.9,241.5L109.2,241.7L109.5,242.8L109.8,241.9L110.1,244.8L110.4,243.3L110.7,243.2L111.0,241.6L111.3,243.9L111.6,242.5L111.9,241.5L112.2,242.0L112.5,246.5L112.8,241.9L113.1,241.4L113.4,244.5L113.7,243.8L114.0,242.2L114.3,244.7L114.6,240.3L114.9,241.7L115.2,239.9L115.5,244.5L115.8,242.4L116.1,246.2L116.4,242.9L116.7,242.9L117.0,240.4L117.3,240.2L117.6,241.3L117.9,243.3L118.2,240.3L118.5,238.2L118.8,243.1L119.1,243.1L119.4,240.2L119.7,242.2L120.0,243.2L120.3,243.2L120.6,238.9L120.9,241.4L121.2,240.0L121.5,242.6L121.8,241.1L122.1,239.0L122.4,241.0L122.7,241.6L123.0,238.2L123.3,238.4L123.6,239.3L123.9,239.8L124.2,239.3L124.5,237.2L124.8,237.5L125.1,239.8L125.4,240.3L125.7,238.2L126.0,239.7L126.3,242.3L126.6,238.9L126.9,238.5L127.2,238.0L127.5,239.7L127.8,239.2L128.1,239.2L128.4,238.1L128.7,239.3L129.0,239.2L129.3,238.2L129.6,240.1L129.9,235.8L130.2,239.3L130.5,237.9L130.8,239.3L131.1,240.9L131.4,237.9L131.7,237.4L132.0,237.6L132.3,239.7L132.6,239.9L132.9,237.6L133.2,238.3L133.5,240.0L133.8,237.9L134.1,234.6L134.4,235.6L134.7,236.0L135.0,237.3L135.3,235.7L135.6,238.7L135.9,235.6L136.2,238.8L136.5,235.1L136.8,238.2L137.1,236.2L137.4,238.1L137.7,238.9L138.0,238.4L138.3,237.2L138.6,234.2L138.9,233.9L139.2,230.0L139.5,237.4L139.8,236.9L140.1,236.4L140.4,232.8L140.7,239.0L141.0,233.3L141.3,235.7L141.6,231.5L141.9,233.1L142.2,235.9L142.5,235.5L142.8,231.9L143.1,233.4L143.4,235.3L143.7,230.3L144.0,234.5L144.3,230.5L144.6,234.0L144.9,232.4L145.2,234.3L145.5,231.7L145.8,231.9L146.1,231.7L146.4,230.6L146.7,231.6L147.0,230.2L147.3,230.9L147.6,232.8L147.9,231.0L148.2,233.2L148.5,232.5L148.8,232.5L149.1,229.1L149.4,231.6L149.7,233.2L150.0,232.1L150.3,232.5L150.6,232.9L150.9,227.6L151.2,231.0L151.5,230.8L151.8,229.4L152.1,227.4L152.4,229.7L152.7,229.1L153.0,232.5L153.3,231.3L153.6,228.2L153.9,226.9L154.2,227.1L154.5,228.3L154.8,227.0L155.1,231.5L155.4,225.9L155.7,227.7L156.0,227.9L156.3,228.2L156.6,225.8L156.9,226.8L157.2,227.4L157.5,227.5L157.8,225.8L158.1,226.1L158.4,226.8L158.7,229.6L159.0,224.1L159.3,227.2L159.6,228.6L159.9,223.3L160.2,228.1L160.5,227.9L160.8,225.4L161.1,226.8L161.4,227.6L161.7,224.6L162.0,225.1L162.3,222.7L162.6,223.2L162.9,224.4L163.2,224.0L163.5,226.8L163.8,223.5L164.1,221.6L164.4,225.1L164.7,225.0L165.0,223.9L165.3,222.9L165.6,221.6L165.9,221.7L166.2,225.3L166.5,223.9L166.8,222.5L167.1,222.9L167.4,221.4L167.7,220.3L168.0,220.9L168.3,221.5L168.6,218.5L168.9,218.7L169.2,218.0L169.5,220.1L169.8,221.8L170.1,218.2L170.4,218.4L170.7,217.4L171.0,219.3L171.3,217.8L171.6,217.9L171.9,217.6L172.2,223.4L172.5,219.1L172.8,217.9L173.1,218.1L173.4,220.3L173.7,220.3L174.0,218.9L174.3,214.7L174.6,219.8L174.9,219.8L175.2,219.1L175.5,218.4L175.8,217.6L176.1,219.4L176.4,216.6L176.7,218.8L177.0,215.9L177.3,215.9L177.6,215.7L177.9,215.3L178.2,215.3L178.5,217.4L178.8,218.7L179.1,214.4L179.4,213.6L179.7,217.6L180.0,214.6L180.3,215.6L180.6,215.2L180.9,216.4L181.2,213.0L181.5,216.5L181.8,215.8L182.1,210.2L182.4,213.7L182.7,213.2L183.0,214.4L183.3,213.5L183.6,212.1L183.9,212.6L184.2,213.8L184.5,213.1L184.8,212.6L185.1,216.8L185.4,213.5L185.7,210.4L186.0,212.5L186.3,212.7L186.6,210.2L186.9,212.1L187.2,210.2L187.5,207.5L187.8,212.1L188.1,212.4L188.4,212.3L188.7,210.7L189.0,209.8L189.3,211.2L189.6,211.4L189.9,212.1L190.2,212.8L190.5,211.7L190.8,208.9L191.1,209.8L191.4,207.1L191.7,210.9L192.0,210.6L192.3,211.6L192.6,210.1L192.9,212.0L193.2,207.6L193.5,209.4L193.8,208.2L194.1,208.1L194.4,205.1" stroke="#ff0000" stroke-width="1.8" fill="none" stroke-linejoin="round"/>
<path d="M33.6,226.3L33.9,227.8L34.2,225.7L34.5,229.0L34.8,228.2L35.1,228.1L35.4,228.6L35.7,228.9L36.0,230.1L36.3,231.4L36.6,231.7L36.9,232.1L37.2,230.6L37.5,230.9L37.8,233.7L38.1,233.4L38.4,234.6L38.7,234.0L39.0,232.4L39.3,234.4L39.6,234.0L39.9,233.8L40.2,233.2L40.5,233.9L40.8,233.9L41.1,234.9L41.4,234.4L41.7,235.7L42.0,233.9L42.3,235.0L42.6,235.1L42.9,234.1L43.2,233.9L43.5,235.8L43.8,235.5L44.1,235.0L44.4,235.6L44.7,234.8L45.0,235.6L45.3,235.0L45.6,235.7L45.9,236.4L46.2,235.4L46.5,236.4L46.8,235.0L47.1,235.6L47.4,234.8L47.7,235.9L48.0,236.1L48.3,235.9L48.6,235.9L48.9,237.2L49.2,237.3L49.5,235.2L49.8,237.2L50.1,234.9L50.4,235.7L50.7,236.2L51.0,236.5L51.3,235.6L51.6,235.9L51.9,236.6L52.2,236.0L52.5,236.0L52.8,237.1L53.1,237.3L53.4,236.6L53.7,236.7L54.0,236.6L54.3,236.3L54.6,236.3L54.9,235.9L55.2,237.2L55.5,236.6L55.8,236.6L56.1,236.9L56.4,237.1L56.7,237.8L57.0,236.5L57.3,236.4L57.6,236.9L57.9,236.0L58.2,237.7L58.5,237.4L58.8,237.2L59.1,236.6L59.4,237.3L59.7,237.5L60.0,237.1L60.3,236.4L60.6,235.3L60.9,237.4L61.2,236.4L61.5,236.0L61.8,237.3L62.1,236.9L62.4,235.5L62.7,236.5L63.0,236.4L63.3,237.4L63.6,235.1L63.9,236.2L64.2,236.4L64.5,237.6L64.8,235.6L65.1,234.1L65.4,235.3L65.7,236.6L66.0,237.0L66.3,237.7L66.6,236.6L66.9,235.5L67.2,236.8L67.5,236.1L67.8,235.9L68.1,236.0L68.4,237.0L68.7,235.2L69.0,235.0L69.3,235.7L69.6,235.7L69.9,235.0L70.2,234.9L70.5,235.9L70.8,236.6L71.1,236.1L71.4,236.0L71.7,236.4L72.0,233.7L72.3,234.1L72.6,234.7L72.9,234.2L73.2,234.3L73.5,235.1L73.8,234.0L74.1,234.6L74.4,233.3L74.7,234.1L75.0,235.9L75.3,234.3L75.6,234.9L75.9,235.2L76.2,234.2L76.5,235.0L76.8,234.6L77.1,234.9L77.4,233.8L77.7,233.1L78.0,233.4L78.3,233.7L78.6,234.5L78.9,233.8L79.2,233.5L79.5,233.6L79.8,234.5L80.1,233.1L80.4,234.7L80.7,232.4L81.0,232.8L81.3,233.9L81.6,233.5L81.9,232.3L82.2,232.9L82.5,232.3L82.8,233.5L83.1,233.2L83.4,232.2L83.7,233.0L84.0,232.4L84.3,232.6L84.6,232.7L84.9,232.1L85.2,232.9L85.5,232.9L85.8,232.8L86.1,233.3L86.4,232.2L86.7,231.2L87.0,232.0L87.3,232.5L87.6,232.3L87.9,232.8L88.2,232.9L88.5,232.2L88.8,232.2L89.1,231.4L89.4,233.0L89.7,232.0L90.0,231.3L90.3,231.3L90.6,231.9L90.9,233.4L91.2,232.8L91.5,230.9L91.8,232.1L92.1,232.4L92.4,232.7L92.7,232.5L93.0,231.7L93.3,232.6L93.6,231.8L93.9,230.5L94.2,231.7L94.5,231.8L94.8,233.1L95.1,233.2L95.4,231.5L95.7,232.5L96.0,232.5L96.3,231.3L96.6,230.8L96.9,232.4L97.2,232.6L97.5,232.0L97.8,230.3L98.1,232.5L98.4,232.1L98.7,231.8L99.0,232.3L99.3,231.7L99.6,233.0L99.9,232.6L100.2,232.2L100.5,232.9L100.8,232.6L101.1,231.5L101.4,232.6L101.7,232.4L102.0,231.4L102.3,232.3L102.6,233.1L102.9,232.3L103.2,234.0L103.5,234.2L103.8,232.6L104.1,233.3L104.4,234.5L104.7,232.7L105.0,232.2L105.3,232.6L105.6,231.9L105.9,231.9L106.2,233.2L106.5,232.7L106.8,233.3L107.1,233.5L107.4,232.5L107.7,233.0L108.0,233.0L108.3,232.7L108.6,232.6L108.9,233.5L109.2,233.2L109.5,233.6L109.8,234.2L110.1,234.2L110.4,232.5L110.7,232.7L111.0,233.2L111.3,233.6L111.6,234.2L111.9,232.7L112.2,233.1L112.5,233.7L112.8,234.5L113.1,234.6L113.4,232.7L113.7,233.3L114.0,232.8L114.3,234.1L114.6,233.8L114.9,233.1L115.2,232.9L115.5,233.6L115.8,234.1L116.1,232.7L116.4,233.0L116.7,233.3L117.0,233.2L117.3,233.4L117.6,232.2L117.9,232.5L118.2,231.3L118.5,232.9L118.8,233.7L119.1,231.2L119.4,232.2L119.7,233.4L120.0,232.5L120.3,231.1L120.6,233.5L120.9,231.4L121.2,233.6L121.5,232.0L121.8,231.8L122.1,232.4L122.4,232.3L122.7,232.7L123.0,232.6L123.3,232.0L123.6,233.1L123.9,232.6L124.2,232.2L124.5,232.0L124.8,231.8L125.1,231.7L125.4,232.3L125.7,232.1L126.0,231.6L126.3,232.4L126.6,231.3L126.9,231.8L127.2,232.0L127.5,230.4L127.8,231.0L128.1,232.5L128.4,230.3L128.7,231.9L129.0,230.1L129.3,231.2L129.6,229.9L129.9,230.2L130.2,230.3L130.5,230.1L130.8,231.3L131.1,231.1L131.4,231.0L131.7,230.4L132.0,231.4L132.3,230.9L132.6,230.2L132.9,229.0L133.2,230.3L133.5,230.2L133.8,229.7L134.1,230.1L134.4,230.0L134.7,229.1L135.0,229.7L135.3,229.4L135.6,229.3L135.9,228.6L136.2,228.4L136.5,228.8L136.8,229.7L137.1,230.3L137.4,228.1L137.7,227.4L138.0,227.9L138.3,227.4L138.6,227.6L138.9,228.1L139.2,227.0L139.5,228.1L139.8,228.1L140.1,228.6L140.4,228.7L140.7,227.9L141.0,228.8L141.3,226.5L141.6,227.0L141.9,226.8L142.2,226.9L142.5,227.2L142.8,226.1L143.1,227.6L143.4,227.1L143.7,226.3L144.0,226.2L144.3,225.0L144.6,223.6L144.9,225.4L145.2,225.7L145.5,225.5L145.8,224.3L146.1,224.7L146.4,226.3L146.7,225.4L147.0,225.2L147.3,224.3L147.6,225.1L147.9,225.4L148.2,224.8L148.5,223.8L148.8,224.2L149.1,223.2L149.4,223.5L149.7,224.1L150.0,223.1L150.3,223.2L150.6,224.4L150.9,223.0L151.2,223.6L151.5,222.7L151.8,221.9L152.1,222.7L152.4,222.2L152.7,220.8L153.0,221.3L153.3,221.8L153.6,223.2L153.9,221.5L154.2,221.8L154.5,222.2L154.8,221.8L155.1,221.1L155.4,222.6L155.7,222.2L156.0,219.1L156.3,221.7L156.6,221.2L156.9,221.4L157.2,220.6L157.5,221.0L157.8,221.8L158.1,221.4L158.4,221.4L158.7,220.7L159.0,220.4L159.3,220.3L159.6,218.5L159.9,221.1L160.2,219.3L160.5,219.2L160.8,218.9L161.1,219.0L161.4,216.8L161.7,218.5L162.0,217.2L162.3,217.2L162.6,216.4L162.9,216.3L163.2,218.0L163.5,217.0L163.8,217.1L164.1,216.9L164.4,215.9L164.7,216.1L165.0,215.5L165.3,216.0L165.6,214.3L165.9,215.6L166.2,216.5L166.5,216.5L166.8,216.3L167.1,215.6L167.4,214.2L167.7,215.6L168.0,215.1L168.3,214.7L168.6,213.4L168.9,214.5L169.2,215.1L169.5,214.4L169.8,213.5L170.1,213.9L170.4,213.3L170.7,213.3L171.0,213.7L171.3,213.2L171.6,212.8L171.9,212.9L172.2,211.8L172.5,211.5L172.8,212.5L173.1,211.5L173.4,212.2L173.7,210.2L174.0,212.5L174.3,211.3L174.6,212.5L174.9,209.1L175.2,209.6L175.5,211.9L175.8,210.8L176.1,210.7L176.4,210.4L176.7,210.3L177.0,210.5L177.3,209.1L177.6,209.7L177.9,210.7L178.2,209.7L178.5,208.9L178.8,209.3L179.1,210.0L179.4,208.8L179.7,208.7L180.0,209.1L180.3,209.3L180.6,209.7L180.9,208.3L181.2,208.5L181.5,209.0L181.8,206.5L182.1,208.0L182.4,208.1L182.7,207.6L183.0,206.9L183.3,207.9L183.6,208.3L183.9,207.1L184.2,206.7L184.5,206.8L184.8,208.1L185.1,207.8L185.4,206.7L185.7,205.7L186.0,205.4L186.3,206.1L186.6,206.0L186.9,206.3L187.2,205.1L187.5,205.8L187.8,206.2L188.1,204.4L188.4,207.4L188.7,206.0L189.0,205.8L189.3,204.3L189.6,204.4L189.9,206.0L190.2,205.8L190.5,203.0L190.8,205.8L191.1,205.4L191.4,205.2L191.7,203.7L192.0,204.7L192.3,203.9L192.6,204.8L192.9,205.7L193.2,204.7L193.5,204.9L193.8,203.8L194.1,203.1L194.4,203.9" stroke="#000000" stroke-width="1.8" fill="none" stroke-linejoin="round"/>
<rect x="33.55" y="182.35" width="161.4" height="123.05" fill="none" stroke="#222" stroke-width="1"/>
<path d="M33.55,305.4v-3.0M33.55,182.35v3.0M65.83,305.4v-3.0M65.83,182.35v3.0M98.11,305.4v-3.0M98.11,182.35v3.0M130.39,305.4v-3.0M130.39,182.35v3.0M162.67,305.4v-3.0M162.67,182.35v3.0M194.95,305.4v-3.0M194.95,182.35v3.0M49.69,305.4v-1.8M49.69,182.35v1.8M81.97,305.4v-1.8M81.97,182.35v1.8M114.25,305.4v-1.8M114.25,182.35v1.8M146.53,305.4v-1.8M146.53,182.35v1.8M178.81,305.4v-1.8M178.81,182.35v1.8" stroke="#222" stroke-width="1" fill="none"/>
<text x="33.7" y="317.8" text-anchor="middle" letter-spacing="0.3">500</text>
<text x="65.98" y="317.8" text-anchor="middle" letter-spacing="0.3">550</text>
<text x="98.26" y="317.8" text-anchor="middle" letter-spacing="0.3">600</text>
<text x="130.54" y="317.8" text-anchor="middle" letter-spacing="0.3">650</text>
<text x="162.82" y="317.8" text-anchor="middle" letter-spacing="0.3">700</text>
<text x="195.1" y="317.8" text-anchor="middle" letter-spacing="0.3">750</text>
<path d="M33.55,305.4h3.0M194.95,305.4h-3.0M33.55,280.79h3.0M194.95,280.79h-3.0M33.55,256.18h3.0M194.95,256.18h-3.0M33.55,231.57h3.0M194.95,231.57h-3.0M33.55,206.96h3.0M194.95,206.96h-3.0M33.55,182.35h3.0M194.95,182.35h-3.0M33.55,293.09h1.8M194.95,293.09h-1.8M33.55,268.49h1.8M194.95,268.49h-1.8M33.55,243.88h1.8M194.95,243.88h-1.8M33.55,219.26h1.8M194.95,219.26h-1.8M33.55,194.65h1.8M194.95,194.65h-1.8" stroke="#222" stroke-width="1" fill="none"/>
<text x="29.05" y="308.6" text-anchor="end">0.0</text>
<text x="29.05" y="283.99" text-anchor="end">0.2</text>
<text x="29.05" y="259.38" text-anchor="end">0.4</text>
<text x="29.05" y="234.77" text-anchor="end">0.6</text>
<text x="29.05" y="210.16" text-anchor="end">0.8</text>
<text x="29.05" y="185.55" text-anchor="end">1.0</text>
<text transform="translate(8.3,243.8) rotate(-90)" text-anchor="middle" font-size="10">Reflectance</text>
<text x="114.3" y="331.4" text-anchor="middle" font-size="10.15">Wavelength (nm)</text>
<text x="0" y="179.5" font-weight="bold" font-size="14.6" fill="#000">b</text>
<text x="147.1" y="201.4">TM</text>
<path d="M133.3,265.7H158.8" stroke="#000000" stroke-width="1.5"/>
<text x="162.6" y="269" font-family="Liberation Serif" font-style="italic" font-size="8.9">θ</text>
<text x="169.4" y="269.5" font-size="8.6">=</text>
<text x="177.2" y="269" font-size="8.6">30</text>
<text x="187" y="269" font-size="8.6">°</text>
<path d="M133.3,280.5H158.8" stroke="#ff0000" stroke-width="1.5"/>
<text x="162.6" y="283.8" font-family="Liberation Serif" font-style="italic" font-size="8.9">θ</text>
<text x="169.4" y="284.3" font-size="8.6">=</text>
<text x="177.2" y="283.8" font-size="8.6">45</text>
<text x="187" y="283.8" font-size="8.6">°</text>
<path d="M133.3,295.4H158.8" stroke="#0000ff" stroke-width="1.5"/>
<text x="162.6" y="298.7" font-family="Liberation Serif" font-style="italic" font-size="8.9">θ</text>
<text x="169.4" y="299.2" font-size="8.6">=</text>
<text x="177.2" y="298.7" font-size="8.6">55</text>
<text x="187" y="298.7" font-size="8.6">°</text>
<path d="M251.2,125.9L251.5,121.8L251.8,134.9L252.1,127.9L252.4,128.5L252.7,125.7L253.0,126.6L253.3,127.6L253.6,127.2L253.9,124.5L254.2,128.7L254.5,128.3L254.8,126.2L255.1,124.2L255.4,123.7L255.7,123.2L256.0,127.6L256.3,125.5L256.6,129.7L256.9,123.7L257.2,129.2L257.5,126.8L257.8,124.7L258.1,130.2L258.4,127.1L258.7,129.2L259.0,130.2L259.3,128.1L259.6,124.6L259.9,126.8L260.2,129.5L260.5,123.8L260.8,127.7L261.1,125.0L261.4,123.9L261.7,123.5L262.0,121.6L262.3,124.2L262.6,126.3L262.9,118.1L263.2,123.4L263.5,125.4L263.8,123.2L264.1,127.0L264.4,121.5L264.7,126.6L265.0,126.8L265.3,125.3L265.6,121.3L265.9,129.8L266.2,122.8L266.5,125.3L266.8,120.1L267.1,120.9L267.4,124.5L267.7,118.4L268.0,124.5L268.3,128.8L268.6,117.9L268.9,121.7L269.2,125.4L269.5,121.2L269.8,125.1L270.1,122.8L270.4,116.3L270.7,113.1L271.0,120.9L271.3,124.8L271.6,118.6L271.9,125.6L272.2,115.8L272.5,123.4L272.8,120.4L273.1,120.5L273.4,119.6L273.7,118.4L274.0,120.2L274.3,116.6L274.6,123.4L274.9,116.1L275.2,122.0L275.5,116.2L275.8,115.1L276.1,121.7L276.4,120.6L276.7,119.5L277.0,125.2L277.3,116.3L277.6,122.0L277.9,119.7L278.2,124.3L278.5,114.5L278.8,116.7L279.1,116.0L279.4,114.5L279.7,112.1L280.0,116.3L280.3,115.9L280.6,113.5L280.9,115.6L281.2,110.3L281.5,120.9L281.8,117.5L282.1,116.2L282.4,117.8L282.7,113.9L283.0,112.6L283.3,112.7L283.6,111.8L283.9,112.7L284.2,117.7L284.5,112.1L284.8,118.4L285.1,114.8L285.4,119.8L285.7,111.1L286.0,110.3L286.3,110.4L286.6,104.8L286.9,114.7L287.2,113.5L287.5,112.1L287.8,111.8L288.1,114.5L288.4,107.9L288.7,112.0L289.0,111.8L289.3,113.0L289.6,115.2L289.9,111.5L290.2,106.9L290.5,111.2L290.8,108.2L291.1,109.1L291.4,105.0L291.7,107.3L292.0,107.9L292.3,106.8L292.6,109.3L292.9,113.7L293.2,106.9L293.5,103.6L293.8,105.4L294.1,110.1L294.4,106.1L294.7,109.0L295.0,105.9L295.3,108.4L295.6,103.2L295.9,108.9L296.2,104.8L296.5,105.7L296.8,108.2L297.1,95.3L297.4,107.4L297.7,110.6L298.0,101.0L298.3,99.4L298.6,100.2L298.9,102.8L299.2,99.6L299.5,95.3L299.8,95.5L300.1,92.7L300.4,95.6L300.7,94.3L301.0,91.4L301.3,98.0L301.6,95.9L301.9,97.8L302.2,88.1L302.5,98.3L302.8,100.1L303.1,92.7L303.4,88.9L303.7,86.4L304.0,96.4L304.3,92.3L304.6,93.7L304.9,91.3L305.2,85.7L305.5,89.3L305.8,90.6L306.1,87.4L306.4,91.1L306.7,87.2L307.0,92.7L307.3,82.1L307.6,90.4L307.9,88.6L308.2,91.5L308.5,92.8L308.8,89.9L309.1,88.5L309.4,85.1L309.7,90.8L310.0,87.1L310.3,88.0L310.6,86.0L310.9,86.7L311.2,83.5L311.5,94.7L311.8,86.1L312.1,83.8L312.4,83.4L312.7,86.0L313.0,83.0L313.3,87.0L313.6,84.4L313.9,85.0L314.2,87.8L314.5,84.9L314.8,85.0L315.1,85.3L315.4,88.1L315.7,82.7L316.0,87.3L316.3,85.5L316.6,84.5L316.9,78.4L317.2,83.4L317.5,77.8L317.8,80.6L318.1,81.8L318.4,81.1L318.7,78.2L319.0,86.4L319.3,82.4L319.6,88.1L319.9,83.4L320.2,77.0L320.5,88.7L320.8,87.2L321.1,89.9L321.4,82.9L321.7,76.8L322.0,84.8L322.3,80.6L322.6,81.5L322.9,80.9L323.2,80.7L323.5,88.9L323.8,81.4L324.1,77.4L324.4,92.1L324.7,83.1L325.0,82.0L325.3,89.4L325.6,87.4L325.9,80.7L326.2,90.3L326.5,90.0L326.8,88.5L327.1,80.7L327.4,87.3L327.7,80.8L328.0,88.4L328.3,90.0L328.6,91.1L328.9,85.0L329.2,93.3L329.5,87.8L329.8,87.5L330.1,86.0L330.4,90.5L330.7,91.1L331.0,89.0L331.3,86.7L331.6,94.3L331.9,90.7L332.2,93.0L332.5,92.2L332.8,90.8L333.1,88.2L333.4,88.7L333.7,89.7L334.0,82.2L334.3,89.1L334.6,94.9L334.9,92.2L335.2,87.0L335.5,93.8L335.8,91.0L336.1,96.4L336.4,92.0L336.7,90.0L337.0,93.7L337.3,92.3L337.6,95.7L337.9,91.5L338.2,98.2L338.5,93.0L338.8,89.7L339.1,92.1L339.4,93.0L339.7,97.7L340.0,96.2L340.3,94.7L340.6,98.0L340.9,96.5L341.2,98.6L341.5,94.2L341.8,100.8L342.1,89.1L342.4,91.4L342.7,96.3L343.0,99.1L343.3,101.5L343.6,97.5L343.9,97.2L344.2,98.4L344.5,98.1L344.8,97.4L345.1,93.4L345.4,95.0L345.7,97.9L346.0,93.1L346.3,98.1L346.6,101.9L346.9,97.5L347.2,95.3L347.5,94.1L347.8,96.5L348.1,99.7L348.4,102.4L348.7,99.3L349.0,101.3L349.3,101.8L349.6,99.3L349.9,97.8L350.2,105.1L350.5,102.6L350.8,105.3L351.1,99.2L351.4,99.7L351.7,101.8L352.0,99.8L352.3,97.3L352.6,99.0L352.9,97.3L353.2,100.7L353.5,95.0L353.8,103.5L354.1,104.2L354.4,95.6L354.7,100.6L355.0,102.3L355.3,98.3L355.6,102.4L355.9,104.0L356.2,100.8L356.5,105.6L356.8,103.4L357.1,99.1L357.4,100.2L357.7,107.5L358.0,108.1L358.3,104.5L358.6,108.2L358.9,99.6L359.2,109.6L359.5,109.9L359.8,103.4L360.1,104.1L360.4,101.1L360.7,114.1L361.0,104.9L361.3,104.0L361.6,102.5L361.9,103.3L362.2,103.4L362.5,108.6L362.8,107.5L363.1,103.0L363.4,106.3L363.7,103.2L364.0,106.4L364.3,96.9L364.6,111.8L364.9,107.2L365.2,103.4L365.5,109.5L365.8,106.7L366.1,105.5L366.4,112.3L366.7,107.7L367.0,109.2L367.3,111.2L367.6,108.4L367.9,107.0L368.2,106.7L368.5,103.8L368.8,109.9L369.1,101.6L369.4,109.9L369.7,111.0L370.0,109.9L370.3,107.8L370.6,105.3L370.9,109.4L371.2,112.3L371.5,110.3L371.8,111.2L372.1,106.4L372.4,106.8L372.7,110.5L373.0,102.5L373.3,106.8L373.6,104.3L373.9,103.9L374.2,111.2L374.5,112.3L374.8,110.1L375.1,108.7L375.4,106.3L375.7,109.7L376.0,107.6L376.3,112.6L376.6,105.4L376.9,108.2L377.2,114.7L377.5,106.9L377.8,112.1L378.1,109.0L378.4,100.5L378.7,110.8L379.0,110.7L379.3,106.5L379.6,111.6L379.9,114.4L380.2,110.3L380.5,112.2L380.8,108.1L381.1,115.4L381.4,110.8L381.7,111.5L382.0,107.4L382.3,109.5L382.6,114.8L382.9,112.5L383.2,108.7L383.5,105.9L383.8,105.2L384.1,113.5L384.4,108.6L384.7,110.9L385.0,116.9L385.3,107.8L385.6,109.6L385.9,115.2L386.2,112.5L386.5,115.4L386.8,115.4L387.1,110.3L387.4,110.9L387.7,114.9L388.0,113.0L388.3,111.8L388.6,115.4L388.9,113.9L389.2,106.6L389.5,118.8L389.8,116.7L390.1,110.2L390.4,115.8L390.7,111.1L391.0,105.6L391.3,113.6L391.6,115.6L391.9,117.3L392.2,109.9L392.5,115.7L392.8,112.6L393.1,114.4L393.4,112.9L393.7,113.7L394.0,109.1L394.3,116.0L394.6,112.1L394.9,115.0L395.2,111.9L395.5,115.6L395.8,116.0L396.1,113.6L396.4,111.2L396.7,112.1L397.0,114.5L397.3,117.1L397.6,114.5L397.9,114.2L398.2,116.2L398.5,108.4L398.8,112.9L399.1,116.1L399.4,114.9L399.7,114.9L400.0,116.6L400.3,109.7L400.6,115.5L400.9,114.7L401.2,106.1L401.5,116.6L401.8,110.9L402.1,114.0L402.4,115.7L402.7,113.1L403.0,113.5L403.3,113.8L403.6,111.8L403.9,113.5L404.2,109.6L404.5,116.9L404.8,111.8L405.1,111.8L405.4,115.3L405.7,114.0L406.0,111.3L406.3,112.1L406.6,118.2L406.9,114.4L407.2,112.0L407.5,113.9L407.8,115.4L408.1,114.0L408.4,116.5L408.7,114.1L409.0,120.1L409.3,121.0L409.6,114.7L409.9,109.9L410.2,109.8L410.5,112.5L410.8,120.0L411.1,115.6L411.4,117.8" stroke="#c470d6" stroke-width="1.6" fill="none" stroke-linejoin="round"/>
<path d="M251.2,94.5L251.5,91.8L251.8,93.4L252.1,91.7L252.4,87.8L252.7,92.4L253.0,89.8L253.3,90.8L253.6,92.9L253.9,89.4L254.2,86.4L254.5,86.8L254.8,89.9L255.1,84.7L255.4,87.9L255.7,87.9L256.0,84.8L256.3,87.3L256.6,88.1L256.9,85.5L257.2,86.1L257.5,88.1L257.8,84.5L258.1,85.3L258.4,89.0L258.7,87.3L259.0,84.4L259.3,87.3L259.6,91.1L259.9,84.3L260.2,89.0L260.5,88.9L260.8,87.1L261.1,88.7L261.4,86.2L261.7,90.6L262.0,91.0L262.3,85.9L262.6,87.3L262.9,88.0L263.2,86.6L263.5,88.6L263.8,85.9L264.1,89.1L264.4,87.4L264.7,88.0L265.0,89.0L265.3,90.0L265.6,86.3L265.9,89.8L266.2,90.0L266.5,88.1L266.8,91.3L267.1,86.8L267.4,87.2L267.7,89.0L268.0,86.9L268.3,91.0L268.6,88.6L268.9,91.6L269.2,86.1L269.5,86.3L269.8,90.7L270.1,86.0L270.4,90.1L270.7,86.4L271.0,88.4L271.3,90.1L271.6,87.7L271.9,85.5L272.2,86.7L272.5,89.8L272.8,87.9L273.1,88.9L273.4,87.6L273.7,88.0L274.0,87.0L274.3,85.3L274.6,88.2L274.9,87.5L275.2,83.2L275.5,87.0L275.8,88.8L276.1,90.6L276.4,84.1L276.7,86.9L277.0,87.7L277.3,88.0L277.6,85.1L277.9,87.3L278.2,85.4L278.5,86.1L278.8,85.1L279.1,86.6L279.4,85.2L279.7,86.5L280.0,85.7L280.3,87.5L280.6,88.9L280.9,85.5L281.2,84.1L281.5,85.0L281.8,84.3L282.1,82.1L282.4,85.2L282.7,84.2L283.0,86.8L283.3,84.7L283.6,86.6L283.9,86.2L284.2,83.6L284.5,83.8L284.8,83.2L285.1,83.2L285.4,85.5L285.7,82.7L286.0,82.8L286.3,81.9L286.6,85.9L286.9,82.4L287.2,82.6L287.5,81.1L287.8,83.0L288.1,80.9L288.4,81.0L288.7,78.3L289.0,78.9L289.3,82.3L289.6,83.3L289.9,78.5L290.2,81.9L290.5,81.9L290.8,87.2L291.1,79.4L291.4,79.9L291.7,79.1L292.0,82.6L292.3,82.9L292.6,80.3L292.9,83.7L293.2,84.7L293.5,79.7L293.8,81.6L294.1,80.1L294.4,79.1L294.7,79.4L295.0,79.8L295.3,77.7L295.6,79.9L295.9,81.5L296.2,78.1L296.5,78.8L296.8,77.9L297.1,80.2L297.4,79.1L297.7,80.9L298.0,78.3L298.3,75.9L298.6,79.6L298.9,77.7L299.2,80.2L299.5,79.2L299.8,72.6L300.1,73.6L300.4,77.2L300.7,75.5L301.0,72.4L301.3,75.4L301.6,78.7L301.9,77.3L302.2,74.1L302.5,76.2L302.8,77.5L303.1,75.0L303.4,78.6L303.7,73.6L304.0,78.9L304.3,77.6L304.6,75.4L304.9,74.7L305.2,74.1L305.5,72.1L305.8,75.7L306.1,76.1L306.4,75.0L306.7,73.8L307.0,73.3L307.3,71.0L307.6,71.4L307.9,69.6L308.2,73.3L308.5,70.4L308.8,73.7L309.1,70.5L309.4,74.6L309.7,74.7L310.0,74.5L310.3,73.6L310.6,70.4L310.9,70.3L311.2,69.2L311.5,71.3L311.8,73.9L312.1,68.0L312.4,75.1L312.7,68.7L313.0,67.3L313.3,70.3L313.6,71.7L313.9,68.5L314.2,66.9L314.5,72.6L314.8,66.4L315.1,70.6L315.4,68.7L315.7,67.4L316.0,68.1L316.3,65.6L316.6,65.3L316.9,68.2L317.2,65.1L317.5,65.5L317.8,70.1L318.1,70.6L318.4,69.0L318.7,68.3L319.0,65.7L319.3,66.2L319.6,64.2L319.9,59.5L320.2,65.8L320.5,65.6L320.8,67.0L321.1,61.9L321.4,66.8L321.7,62.8L322.0,60.9L322.3,62.8L322.6,65.1L322.9,62.7L323.2,63.4L323.5,60.1L323.8,62.8L324.1,63.7L324.4,59.2L324.7,61.9L325.0,57.7L325.3,60.9L325.6,56.9L325.9,60.9L326.2,59.8L326.5,57.2L326.8,60.3L327.1,57.1L327.4,59.4L327.7,57.0L328.0,60.1L328.3,57.5L328.6,61.9L328.9,59.5L329.2,59.6L329.5,55.2L329.8,53.3L330.1,56.2L330.4,62.1L330.7,55.6L331.0,60.5L331.3,60.5L331.6,56.2L331.9,57.0L332.2,60.5L332.5,56.8L332.8,56.4L333.1,56.0L333.4,57.4L333.7,57.0L334.0,60.0L334.3,57.7L334.6,59.8L334.9,56.8L335.2,62.7L335.5,56.7L335.8,56.6L336.1,55.1L336.4,53.0L336.7,54.9L337.0,57.3L337.3,54.6L337.6,58.7L337.9,53.1L338.2,52.9L338.5,57.4L338.8,57.6L339.1,54.2L339.4,59.2L339.7,59.9L340.0,57.5L340.3,53.8L340.6,59.6L340.9,56.1L341.2,56.4L341.5,58.0L341.8,55.3L342.1,60.4L342.4,55.7L342.7,59.6L343.0,59.0L343.3,61.3L343.6,58.6L343.9,59.5L344.2,56.7L344.5,57.2L344.8,56.5L345.1,59.7L345.4,56.6L345.7,61.6L346.0,58.0L346.3,55.7L346.6,57.0L346.9,61.2L347.2,57.6L347.5,60.1L347.8,55.4L348.1,60.1L348.4,60.9L348.7,60.4L349.0,61.2L349.3,57.4L349.6,56.0L349.9,56.9L350.2,61.9L350.5,61.1L350.8,62.1L351.1,59.2L351.4,62.4L351.7,57.4L352.0,61.9L352.3,58.8L352.6,60.4L352.9,63.0L353.2,63.6L353.5,61.5L353.8,61.3L354.1,65.3L354.4,64.8L354.7,61.2L355.0,63.6L355.3,62.7L355.6,65.6L355.9,64.7L356.2,64.9L356.5,64.3L356.8,63.2L357.1,67.0L357.4,65.7L357.7,59.9L358.0,64.4L358.3,66.1L358.6,64.1L358.9,63.9L359.2,64.7L359.5,67.1L359.8,64.5L360.1,67.6L360.4,70.1L360.7,69.4L361.0,69.7L361.3,67.3L361.6,70.6L361.9,68.3L362.2,70.4L362.5,66.2L362.8,71.7L363.1,67.8L363.4,69.4L363.7,71.9L364.0,69.7L364.3,68.9L364.6,69.8L364.9,72.7L365.2,72.9L365.5,72.1L365.8,69.5L366.1,70.1L366.4,72.6L366.7,73.0L367.0,70.0L367.3,70.2L367.6,73.4L367.9,74.4L368.2,72.4L368.5,69.8L368.8,76.1L369.1,72.9L369.4,74.0L369.7,68.5L370.0,71.8L370.3,73.1L370.6,74.4L370.9,72.0L371.2,70.8L371.5,70.8L371.8,73.7L372.1,75.4L372.4,75.5L372.7,71.5L373.0,73.9L373.3,75.4L373.6,78.1L373.9,77.3L374.2,76.9L374.5,73.0L374.8,79.2L375.1,77.0L375.4,77.9L375.7,76.2L376.0,77.5L376.3,77.5L376.6,77.7L376.9,77.0L377.2,80.7L377.5,81.5L377.8,78.8L378.1,78.5L378.4,78.9L378.7,80.4L379.0,84.5L379.3,81.5L379.6,86.1L379.9,79.9L380.2,80.6L380.5,81.7L380.8,81.9L381.1,84.8L381.4,88.2L381.7,83.3L382.0,85.9L382.3,88.4L382.6,91.0L382.9,86.7L383.2,88.7L383.5,89.7L383.8,87.5L384.1,88.8L384.4,87.2L384.7,86.4L385.0,87.3L385.3,91.4L385.6,92.1L385.9,90.1L386.2,87.3L386.5,92.9L386.8,90.6L387.1,94.1L387.4,91.4L387.7,89.1L388.0,91.2L388.3,90.7L388.6,95.9L388.9,88.0L389.2,91.9L389.5,92.8L389.8,89.4L390.1,95.0L390.4,95.7L390.7,96.5L391.0,96.7L391.3,95.1L391.6,97.6L391.9,94.9L392.2,96.2L392.5,96.9L392.8,96.9L393.1,98.1L393.4,95.9L393.7,97.3L394.0,96.6L394.3,98.3L394.6,99.1L394.9,97.1L395.2,102.0L395.5,103.3L395.8,100.6L396.1,99.9L396.4,98.6L396.7,99.8L397.0,100.0L397.3,102.1L397.6,100.9L397.9,102.7L398.2,102.6L398.5,100.6L398.8,99.1L399.1,99.6L399.4,100.1L399.7,102.5L400.0,105.3L400.3,101.1L400.6,104.6L400.9,103.1L401.2,106.4L401.5,108.7L401.8,106.4L402.1,105.1L402.4,105.7L402.7,107.6L403.0,104.5L403.3,103.7L403.6,105.9L403.9,109.1L404.2,104.5L404.5,108.5L404.8,108.2L405.1,106.0L405.4,105.0L405.7,103.4L406.0,104.5L406.3,107.4L406.6,108.7L406.9,106.0L407.2,106.2L407.5,105.9L407.8,112.7L408.1,104.9L408.4,104.7L408.7,110.1L409.0,105.7L409.3,110.2L409.6,106.4L409.9,110.4L410.2,111.2L410.5,107.4L410.8,108.4L411.1,106.4L411.4,110.4" stroke="#0000ff" stroke-width="1.5" fill="none" stroke-linejoin="round"/>
<path d="M251.2,102.2L251.5,101.7L251.8,99.9L252.1,101.0L252.4,98.2L252.7,95.6L253.0,102.4L253.3,99.7L253.6,94.4L253.9,96.2L254.2,96.8L254.5,98.5L254.8,100.3L255.1,98.0L255.4,96.3L255.7,97.9L256.0,96.3L256.3,96.8L256.6,94.9L256.9,93.6L257.2,98.4L257.5,94.9L257.8,95.6L258.1,93.9L258.4,93.8L258.7,94.0L259.0,95.8L259.3,96.7L259.6,95.1L259.9,92.7L260.2,99.1L260.5,95.0L260.8,95.0L261.1,91.8L261.4,92.1L261.7,93.6L262.0,88.7L262.3,90.3L262.6,92.4L262.9,96.2L263.2,92.0L263.5,88.8L263.8,88.1L264.1,92.3L264.4,88.4L264.7,89.1L265.0,93.4L265.3,89.3L265.6,88.2L265.9,87.1L266.2,91.1L266.5,90.8L266.8,86.6L267.1,84.8L267.4,87.2L267.7,90.0L268.0,87.9L268.3,84.3L268.6,87.2L268.9,87.9L269.2,86.0L269.5,86.2L269.8,85.7L270.1,84.4L270.4,83.9L270.7,82.3L271.0,82.4L271.3,81.1L271.6,85.2L271.9,85.1L272.2,84.0L272.5,84.5L272.8,83.5L273.1,81.6L273.4,83.3L273.7,82.0L274.0,82.0L274.3,77.9L274.6,80.8L274.9,82.4L275.2,80.6L275.5,79.3L275.8,77.5L276.1,79.1L276.4,83.0L276.7,78.7L277.0,81.8L277.3,78.4L277.6,81.3L277.9,77.8L278.2,79.4L278.5,79.7L278.8,79.4L279.1,76.1L279.4,77.0L279.7,75.7L280.0,77.0L280.3,76.4L280.6,76.3L280.9,77.8L281.2,74.2L281.5,74.5L281.8,74.7L282.1,75.1L282.4,73.8L282.7,76.2L283.0,72.8L283.3,78.3L283.6,74.7L283.9,76.8L284.2,72.1L284.5,73.4L284.8,74.1L285.1,77.2L285.4,73.7L285.7,76.3L286.0,71.8L286.3,76.0L286.6,71.5L286.9,69.1L287.2,68.6L287.5,72.7L287.8,71.7L288.1,72.4L288.4,71.6L288.7,72.5L289.0,74.6L289.3,70.7L289.6,71.5L289.9,69.9L290.2,67.0L290.5,69.6L290.8,72.9L291.1,68.1L291.4,74.1L291.7,70.3L292.0,69.9L292.3,70.6L292.6,68.5L292.9,68.4L293.2,70.7L293.5,66.4L293.8,67.4L294.1,65.1L294.4,67.5L294.7,73.1L295.0,69.3L295.3,64.9L295.6,63.1L295.9,67.5L296.2,67.6L296.5,64.9L296.8,68.6L297.1,66.6L297.4,67.1L297.7,67.1L298.0,67.7L298.3,64.5L298.6,63.9L298.9,67.9L299.2,64.8L299.5,62.6L299.8,65.6L300.1,63.9L300.4,65.4L300.7,70.8L301.0,68.1L301.3,63.6L301.6,62.0L301.9,64.3L302.2,62.4L302.5,64.7L302.8,64.7L303.1,65.3L303.4,64.0L303.7,61.3L304.0,63.6L304.3,64.0L304.6,64.2L304.9,66.1L305.2,61.7L305.5,63.3L305.8,62.4L306.1,61.9L306.4,64.7L306.7,62.2L307.0,67.1L307.3,58.5L307.6,66.1L307.9,62.8L308.2,60.8L308.5,63.5L308.8,63.4L309.1,64.9L309.4,65.4L309.7,61.6L310.0,63.0L310.3,63.6L310.6,63.3L310.9,62.2L311.2,65.4L311.5,63.4L311.8,60.3L312.1,63.3L312.4,62.3L312.7,62.1L313.0,64.2L313.3,63.9L313.6,63.1L313.9,63.4L314.2,64.2L314.5,61.4L314.8,62.7L315.1,64.8L315.4,61.3L315.7,61.5L316.0,61.2L316.3,64.3L316.6,61.4L316.9,64.2L317.2,61.4L317.5,62.5L317.8,62.7L318.1,61.1L318.4,60.2L318.7,63.9L319.0,61.3L319.3,63.0L319.6,63.3L319.9,59.4L320.2,64.3L320.5,62.3L320.8,61.5L321.1,61.4L321.4,61.2L321.7,62.5L322.0,65.9L322.3,61.9L322.6,60.1L322.9,61.7L323.2,66.0L323.5,62.4L323.8,65.8L324.1,60.9L324.4,60.9L324.7,60.2L325.0,60.6L325.3,62.3L325.6,62.6L325.9,59.2L326.2,60.6L326.5,61.0L326.8,61.8L327.1,65.0L327.4,65.3L327.7,63.4L328.0,64.0L328.3,61.2L328.6,63.4L328.9,59.7L329.2,62.8L329.5,63.6L329.8,64.7L330.1,63.0L330.4,63.2L330.7,61.7L331.0,59.6L331.3,62.6L331.6,60.5L331.9,63.4L332.2,63.7L332.5,61.9L332.8,61.3L333.1,64.4L333.4,63.8L333.7,65.8L334.0,66.8L334.3,68.3L334.6,67.3L334.9,64.0L335.2,65.7L335.5,69.7L335.8,64.5L336.1,65.6L336.4,68.7L336.7,67.6L337.0,65.5L337.3,67.4L337.6,65.8L337.9,68.7L338.2,67.0L338.5,67.4L338.8,67.8L339.1,64.1L339.4,67.5L339.7,68.7L340.0,68.3L340.3,67.4L340.6,68.4L340.9,71.3L341.2,70.1L341.5,67.9L341.8,71.2L342.1,70.0L342.4,68.8L342.7,66.7L343.0,71.2L343.3,68.4L343.6,71.2L343.9,72.8L344.2,72.3L344.5,69.1L344.8,69.9L345.1,72.9L345.4,73.9L345.7,72.2L346.0,72.2L346.3,75.9L346.6,75.9L346.9,73.6L347.2,72.8L347.5,74.8L347.8,71.7L348.1,74.5L348.4,74.8L348.7,76.8L349.0,75.9L349.3,71.9L349.6,78.7L349.9,76.7L350.2,72.3L350.5,73.4L350.8,77.6L351.1,74.3L351.4,78.3L351.7,75.2L352.0,74.5L352.3,80.4L352.6,80.9L352.9,77.5L353.2,81.2L353.5,79.1L353.8,79.6L354.1,78.6L354.4,80.4L354.7,82.1L355.0,82.3L355.3,83.7L355.6,83.5L355.9,81.6L356.2,79.8L356.5,82.5L356.8,82.4L357.1,80.7L357.4,79.6L357.7,80.4L358.0,79.4L358.3,80.8L358.6,82.9L358.9,85.1L359.2,83.3L359.5,82.4L359.8,82.7L360.1,83.5L360.4,86.2L360.7,84.5L361.0,81.3L361.3,84.7L361.6,81.9L361.9,83.9L362.2,85.5L362.5,84.0L362.8,85.6L363.1,88.1L363.4,84.8L363.7,88.3L364.0,88.2L364.3,88.1L364.6,85.6L364.9,89.2L365.2,88.2L365.5,89.0L365.8,88.0L366.1,90.4L366.4,86.0L366.7,89.2L367.0,90.1L367.3,93.8L367.6,86.4L367.9,87.2L368.2,89.1L368.5,90.1L368.8,88.4L369.1,91.3L369.4,89.8L369.7,90.6L370.0,88.3L370.3,91.5L370.6,91.2L370.9,93.8L371.2,92.8L371.5,94.2L371.8,92.4L372.1,90.8L372.4,93.5L372.7,89.8L373.0,90.3L373.3,91.8L373.6,94.6L373.9,95.2L374.2,90.5L374.5,93.2L374.8,96.1L375.1,93.5L375.4,91.6L375.7,94.8L376.0,97.3L376.3,94.1L376.6,94.5L376.9,99.3L377.2,97.3L377.5,94.4L377.8,98.1L378.1,99.1L378.4,96.7L378.7,97.9L379.0,99.3L379.3,98.7L379.6,101.2L379.9,101.1L380.2,100.7L380.5,102.1L380.8,99.1L381.1,98.5L381.4,97.8L381.7,99.5L382.0,98.7L382.3,100.5L382.6,102.9L382.9,104.0L383.2,102.9L383.5,103.0L383.8,102.7L384.1,103.3L384.4,101.7L384.7,101.7L385.0,100.9L385.3,102.7L385.6,104.0L385.9,103.3L386.2,104.1L386.5,107.2L386.8,104.9L387.1,105.3L387.4,104.5L387.7,105.6L388.0,103.0L388.3,105.9L388.6,106.2L388.9,106.7L389.2,102.7L389.5,105.0L389.8,107.7L390.1,106.8L390.4,103.3L390.7,104.3L391.0,103.9L391.3,106.6L391.6,107.5L391.9,105.7L392.2,103.3L392.5,106.6L392.8,103.0L393.1,108.2L393.4,104.9L393.7,104.9L394.0,104.8L394.3,106.7L394.6,107.0L394.9,107.7L395.2,106.9L395.5,107.0L395.8,109.1L396.1,109.8L396.4,108.0L396.7,108.6L397.0,109.2L397.3,107.6L397.6,107.0L397.9,105.8L398.2,107.4L398.5,111.1L398.8,107.2L399.1,106.4L399.4,108.2L399.7,109.1L400.0,109.4L400.3,107.3L400.6,109.7L400.9,108.2L401.2,108.4L401.5,108.8L401.8,107.7L402.1,108.4L402.4,110.6L402.7,107.7L403.0,108.9L403.3,110.5L403.6,110.1L403.9,110.2L404.2,107.9L404.5,107.7L404.8,109.6L405.1,109.0L405.4,107.1L405.7,110.0L406.0,110.9L406.3,112.7L406.6,110.2L406.9,110.1L407.2,109.2L407.5,111.0L407.8,110.2L408.1,114.1L408.4,109.6L408.7,113.1L409.0,110.7L409.3,109.1L409.6,111.8L409.9,111.8L410.2,113.9L410.5,112.7L410.8,111.6L411.1,110.8L411.4,110.5" stroke="#ff0000" stroke-width="1.5" fill="none" stroke-linejoin="round"/>
<path d="M251.2,92.7L251.5,93.0L251.8,93.1L252.1,91.7L252.4,92.8L252.7,92.2L253.0,92.4L253.3,91.8L253.6,92.3L253.9,90.5L254.2,92.3L254.5,91.7L254.8,90.2L255.1,90.9L255.4,90.6L255.7,88.7L256.0,90.3L256.3,89.2L256.6,89.3L256.9,88.8L257.2,88.8L257.5,89.0L257.8,88.8L258.1,87.4L258.4,88.1L258.7,87.1L259.0,87.0L259.3,87.5L259.6,88.2L259.9,87.9L260.2,86.8L260.5,86.5L260.8,86.2L261.1,86.8L261.4,87.2L261.7,86.4L262.0,86.7L262.3,86.3L262.6,87.0L262.9,84.2L263.2,83.9L263.5,85.2L263.8,85.7L264.1,84.8L264.4,85.2L264.7,83.9L265.0,83.7L265.3,83.9L265.6,85.0L265.9,84.7L266.2,83.5L266.5,84.0L266.8,83.3L267.1,83.7L267.4,82.7L267.7,83.4L268.0,82.7L268.3,83.1L268.6,82.5L268.9,82.3L269.2,82.9L269.5,82.4L269.8,82.5L270.1,82.1L270.4,82.8L270.7,81.6L271.0,82.7L271.3,83.0L271.6,81.7L271.9,83.1L272.2,83.2L272.5,82.0L272.8,80.5L273.1,80.3L273.4,81.3L273.7,82.6L274.0,81.6L274.3,81.7L274.6,80.9L274.9,80.4L275.2,81.2L275.5,80.0L275.8,80.6L276.1,81.1L276.4,80.7L276.7,81.0L277.0,80.2L277.3,81.0L277.6,80.8L277.9,79.3L278.2,79.7L278.5,80.0L278.8,81.0L279.1,80.7L279.4,80.7L279.7,80.6L280.0,81.0L280.3,81.2L280.6,80.1L280.9,79.3L281.2,81.0L281.5,80.3L281.8,80.5L282.1,80.4L282.4,79.7L282.7,79.4L283.0,81.3L283.3,81.5L283.6,81.5L283.9,81.0L284.2,81.2L284.5,80.8L284.8,81.2L285.1,81.0L285.4,81.0L285.7,81.7L286.0,82.9L286.3,80.3L286.6,82.2L286.9,82.4L287.2,81.0L287.5,82.2L287.8,82.2L288.1,81.8L288.4,81.9L288.7,81.3L289.0,83.7L289.3,84.3L289.6,83.8L289.9,82.5L290.2,83.0L290.5,83.2L290.8,82.4L291.1,82.9L291.4,83.6L291.7,83.0L292.0,82.1L292.3,82.7L292.6,84.0L292.9,83.7L293.2,83.9L293.5,85.3L293.8,84.6L294.1,84.1L294.4,84.8L294.7,86.7L295.0,84.4L295.3,86.8L295.6,86.7L295.9,85.6L296.2,85.6L296.5,87.1L296.8,86.4L297.1,86.0L297.4,87.9L297.7,86.8L298.0,87.0L298.3,87.0L298.6,86.9L298.9,87.3L299.2,87.1L299.5,87.9L299.8,88.4L300.1,88.6L300.4,88.8L300.7,89.1L301.0,88.7L301.3,87.8L301.6,89.1L301.9,87.2L302.2,88.0L302.5,88.9L302.8,87.5L303.1,89.9L303.4,88.2L303.7,87.9L304.0,88.5L304.3,88.6L304.6,89.2L304.9,89.2L305.2,90.2L305.5,89.3L305.8,89.7L306.1,88.9L306.4,90.0L306.7,89.2L307.0,88.4L307.3,90.9L307.6,89.2L307.9,89.3L308.2,89.5L308.5,90.7L308.8,89.2L309.1,90.1L309.4,91.0L309.7,92.1L310.0,90.5L310.3,90.9L310.6,90.3L310.9,92.5L311.2,91.1L311.5,91.2L311.8,91.5L312.1,90.8L312.4,91.5L312.7,90.7L313.0,92.9L313.3,91.7L313.6,91.8L313.9,92.9L314.2,91.1L314.5,93.2L314.8,93.3L315.1,91.7L315.4,92.8L315.7,92.3L316.0,93.1L316.3,92.5L316.6,91.8L316.9,93.0L317.2,92.5L317.5,92.8L317.8,93.4L318.1,93.7L318.4,93.3L318.7,91.8L319.0,93.4L319.3,92.7L319.6,93.8L319.9,92.9L320.2,94.2L320.5,93.6L320.8,93.3L321.1,93.5L321.4,92.0L321.7,93.8L322.0,93.6L322.3,92.7L322.6,93.9L322.9,93.9L323.2,94.0L323.5,93.7L323.8,94.4L324.1,94.5L324.4,94.0L324.7,94.0L325.0,93.7L325.3,93.7L325.6,94.7L325.9,93.9L326.2,93.3L326.5,94.6L326.8,95.3L327.1,94.4L327.4,95.3L327.7,95.1L328.0,94.1L328.3,95.1L328.6,94.9L328.9,95.6L329.2,93.1L329.5,95.9L329.8,95.9L330.1,94.7L330.4,96.3L330.7,95.5L331.0,95.9L331.3,96.5L331.6,97.0L331.9,96.2L332.2,96.7L332.5,96.6L332.8,95.9L333.1,97.8L333.4,97.3L333.7,97.0L334.0,97.8L334.3,97.6L334.6,96.9L334.9,98.2L335.2,97.7L335.5,98.2L335.8,98.6L336.1,98.8L336.4,99.6L336.7,98.5L337.0,98.4L337.3,98.1L337.6,98.3L337.9,99.4L338.2,99.4L338.5,98.6L338.8,98.9L339.1,99.2L339.4,100.8L339.7,99.1L340.0,100.2L340.3,98.9L340.6,100.1L340.9,101.4L341.2,99.6L341.5,101.5L341.8,99.4L342.1,101.0L342.4,100.3L342.7,101.2L343.0,101.2L343.3,102.1L343.6,101.8L343.9,101.9L344.2,101.5L344.5,102.3L344.8,101.5L345.1,101.8L345.4,101.9L345.7,102.9L346.0,104.3L346.3,102.7L346.6,104.3L346.9,102.2L347.2,102.7L347.5,103.6L347.8,103.8L348.1,104.0L348.4,104.8L348.7,103.6L349.0,104.6L349.3,104.1L349.6,102.0L349.9,103.5L350.2,103.9L350.5,104.5L350.8,105.0L351.1,104.5L351.4,105.8L351.7,104.2L352.0,105.0L352.3,105.9L352.6,104.5L352.9,106.4L353.2,106.3L353.5,105.6L353.8,105.8L354.1,105.9L354.4,106.1L354.7,107.1L355.0,106.7L355.3,105.4L355.6,105.4L355.9,107.1L356.2,104.8L356.5,105.7L356.8,106.5L357.1,107.0L357.4,108.2L357.7,107.4L358.0,110.0L358.3,107.6L358.6,108.2L358.9,108.4L359.2,107.7L359.5,108.5L359.8,108.4L360.1,108.2L360.4,107.6L360.7,107.9L361.0,108.9L361.3,108.4L361.6,108.8L361.9,108.9L362.2,108.9L362.5,108.8L362.8,109.4L363.1,109.7L363.4,110.2L363.7,109.7L364.0,109.0L364.3,109.0L364.6,110.2L364.9,108.7L365.2,109.6L365.5,110.9L365.8,110.0L366.1,109.9L366.4,111.4L366.7,108.7L367.0,110.7L367.3,110.6L367.6,110.7L367.9,111.9L368.2,112.5L368.5,112.3L368.8,112.1L369.1,112.0L369.4,111.7L369.7,112.0L370.0,110.9L370.3,111.9L370.6,112.9L370.9,112.5L371.2,113.3L371.5,111.7L371.8,112.6L372.1,112.4L372.4,114.0L372.7,113.2L373.0,113.3L373.3,112.7L373.6,113.4L373.9,113.1L374.2,113.6L374.5,115.8L374.8,113.4L375.1,114.2L375.4,113.8L375.7,115.6L376.0,114.0L376.3,114.2L376.6,115.2L376.9,116.3L377.2,115.3L377.5,114.8L377.8,113.4L378.1,112.7L378.4,115.5L378.7,115.7L379.0,116.6L379.3,116.2L379.6,115.7L379.9,117.0L380.2,117.4L380.5,115.7L380.8,117.0L381.1,117.3L381.4,115.9L381.7,117.0L382.0,116.6L382.3,117.6L382.6,117.7L382.9,115.3L383.2,116.9L383.5,118.1L383.8,117.6L384.1,116.5L384.4,117.0L384.7,116.6L385.0,117.8L385.3,116.6L385.6,118.6L385.9,118.4L386.2,119.1L386.5,118.7L386.8,118.7L387.1,118.7L387.4,118.6L387.7,116.8L388.0,118.7L388.3,117.8L388.6,116.6L388.9,119.7L389.2,118.6L389.5,117.4L389.8,118.9L390.1,119.1L390.4,119.0L390.7,120.0L391.0,118.1L391.3,119.7L391.6,118.4L391.9,119.5L392.2,119.7L392.5,118.9L392.8,121.2L393.1,118.0L393.4,118.3L393.7,119.1L394.0,118.9L394.3,120.4L394.6,119.2L394.9,120.7L395.2,119.4L395.5,120.4L395.8,120.4L396.1,119.9L396.4,120.4L396.7,120.2L397.0,121.6L397.3,121.8L397.6,119.8L397.9,120.5L398.2,121.0L398.5,120.6L398.8,121.7L399.1,122.2L399.4,118.8L399.7,119.9L400.0,121.4L400.3,120.8L400.6,119.9L400.9,120.3L401.2,120.6L401.5,121.8L401.8,119.9L402.1,120.8L402.4,121.8L402.7,121.5L403.0,120.6L403.3,120.6L403.6,119.5L403.9,119.5L404.2,120.2L404.5,121.5L404.8,121.5L405.1,121.9L405.4,121.7L405.7,121.6L406.0,121.2L406.3,120.5L406.6,122.0L406.9,120.8L407.2,119.8L407.5,121.5L407.8,121.3L408.1,123.1L408.4,121.1L408.7,121.6L409.0,120.5L409.3,121.9L409.6,121.6L409.9,120.8L410.2,121.6L410.5,120.5L410.8,121.9L411.1,121.1L411.4,121.8" stroke="#000000" stroke-width="1.4" fill="none" stroke-linejoin="round"/>
<path d="M412.35,132.6H251.1V9.4H412.35" fill="none" stroke="#222" stroke-width="1"/>
<path d="M412.35,9.4V132.6" fill="none" stroke="#c470d6" stroke-width="1"/>
<path d="M251.1,132.6v-3.0M251.1,9.4v3.0M291.41,132.6v-3.0M291.41,9.4v3.0M331.73,132.6v-3.0M331.73,9.4v3.0M372.04,132.6v-3.0M372.04,9.4v3.0M412.35,132.6v-3.0M412.35,9.4v3.0M271.26,132.6v-1.8M271.26,9.4v1.8M311.57,132.6v-1.8M311.57,9.4v1.8M351.88,132.6v-1.8M351.88,9.4v1.8M392.19,132.6v-1.8M392.19,9.4v1.8" stroke="#222" stroke-width="1" fill="none"/>
<text x="251.25" y="145" text-anchor="middle" letter-spacing="0.3">550</text>
<text x="291.56" y="145" text-anchor="middle" letter-spacing="0.3">600</text>
<text x="331.88" y="145" text-anchor="middle" letter-spacing="0.3">650</text>
<text x="372.19" y="145" text-anchor="middle" letter-spacing="0.3">700</text>
<text x="412.5" y="145" text-anchor="middle" letter-spacing="0.3">750</text>
<path d="M251.1,132.6h3.0M251.1,105.22h3.0M251.1,77.84h3.0M251.1,50.47h3.0M251.1,23.09h3.0M251.1,118.91h1.8M251.1,91.53h1.8M251.1,64.16h1.8M251.1,36.78h1.8M251.1,9.4h1.8" stroke="#222" stroke-width="1" fill="none"/>
<text x="246.6" y="135.8" text-anchor="end">0.0</text>
<text x="246.6" y="108.42" text-anchor="end">0.2</text>
<text x="246.6" y="81.04" text-anchor="end">0.4</text>
<text x="246.6" y="53.67" text-anchor="end">0.6</text>
<text x="246.6" y="26.29" text-anchor="end">0.8</text>
<path d="M412.35,118h-3.0M412.35,86.84h-3.0M412.35,55.68h-3.0M412.35,24.51h-3.0M412.35,102.42h-1.8M412.35,71.26h-1.8M412.35,40.09h-1.8" stroke="#c470d6" stroke-width="1"/>
<text x="417.35" y="121.2">0.0</text>
<text x="417.35" y="90.04">0.2</text>
<text x="417.35" y="58.88">0.4</text>
<text x="417.35" y="27.71">0.6</text>
<text transform="translate(228,71) rotate(-90)" text-anchor="middle" font-size="10.3">Reflectance difference</text>
<text transform="translate(446.2,70.2) rotate(-90)" text-anchor="middle">-Δ<tspan font-style="italic">R</tspan>/<tspan font-style="italic">R</tspan> (a.u.)</text>
<text x="332" y="159.2" text-anchor="middle" font-size="10.15">Wavelength (nm)</text>
<text x="217.6" y="7.7" font-weight="bold" font-size="14.6" fill="#000">c</text>
<path d="M258.3,22.5H284" stroke="#000000" stroke-width="1.5"/>
<text x="287.5" y="25.8" font-family="Liberation Serif" font-style="italic" font-size="8.9">θ</text>
<text x="294.3" y="26.3" font-size="8.6">=</text>
<text x="302.1" y="25.8" font-size="8.6">30</text>
<text x="311.9" y="25.8" font-size="8.6">°</text>
<path d="M258.3,37.4H284" stroke="#ff0000" stroke-width="1.5"/>
<text x="287.5" y="40.7" font-family="Liberation Serif" font-style="italic" font-size="8.9">θ</text>
<text x="294.3" y="41.2" font-size="8.6">=</text>
<text x="302.1" y="40.7" font-size="8.6">45</text>
<text x="311.9" y="40.7" font-size="8.6">°</text>
<path d="M330.6,22.5H355.8" stroke="#0000ff" stroke-width="1.5"/>
<text x="359.3" y="25.8" font-family="Liberation Serif" font-style="italic" font-size="8.9">θ</text>
<text x="366.1" y="26.3" font-size="8.6">=</text>
<text x="373.9" y="25.8" font-size="8.6">55</text>
<text x="383.7" y="25.8" font-size="8.6">°</text>
<path d="M330.6,35.8H355.8" stroke="#c470d6" stroke-width="1.5"/>
<text x="359.5" y="39.1" font-size="8.6">WS<tspan font-size="6" dy="3">2</tspan></text>
<path d="M251.2,269.9L251.5,270.7L251.8,271.6L252.1,272.5L252.4,273.5L252.7,274.4L253.0,275.3L253.3,276.0L253.6,276.6L253.9,277.0L254.2,277.3L254.5,277.5L254.8,277.7L255.1,277.9L255.4,278.1L255.7,278.5L256.0,279.0L256.3,279.5L256.6,280.2L256.9,280.9L257.2,281.5L257.5,282.1L257.8,282.6L258.1,283.0L258.4,283.2L258.7,283.3L259.0,283.3L259.3,283.3L259.6,283.3L259.9,283.4L260.2,283.6L260.5,284.0L260.8,284.4L261.1,285.0L261.4,285.6L261.7,286.2L262.0,286.8L262.3,287.3L262.6,287.7L262.9,287.9L263.2,288.0L263.5,288.0L263.8,288.0L264.1,288.0L264.4,288.0L264.7,288.1L265.0,288.4L265.3,288.7L265.6,289.2L265.9,289.7L266.2,290.3L266.5,290.8L266.8,291.3L267.1,291.7L267.4,291.9L267.7,292.0L268.0,292.0L268.3,292.0L268.6,291.9L268.9,291.9L269.2,292.0L269.5,292.2L269.8,292.6L270.1,293.1L270.4,293.7L270.7,294.4L271.0,295.1L271.3,295.7L271.6,296.2L271.9,296.5L272.2,296.7L272.5,296.8L272.8,296.7L273.1,296.6L273.4,296.5L273.7,296.4L274.0,296.4L274.3,296.6L274.6,296.8L274.9,297.2L275.2,297.6L275.5,297.9L275.8,298.2L276.1,298.3L276.4,298.0L276.7,297.6L277.0,296.9L277.3,296.1L277.6,295.3L277.9,294.5L278.2,293.8L278.5,293.3L278.8,293.2L279.1,293.2L279.4,293.3L279.7,293.5L280.0,293.7L280.3,293.9L280.6,294.1L280.9,294.2L281.2,294.1L281.5,293.9L281.8,293.6L282.1,293.3L282.4,293.0L282.7,292.7L283.0,292.5L283.3,292.4L283.6,292.5L283.9,292.6L284.2,292.9L284.5,293.2L284.8,293.6L285.1,293.8L285.4,294.0L285.7,294.0L286.0,293.9L286.3,293.7L286.6,293.4L286.9,293.1L287.2,292.7L287.5,292.5L287.8,292.3L288.1,292.3L288.4,292.3L288.7,292.5L289.0,292.6L289.3,292.8L289.6,292.9L289.9,293.0L290.2,292.8L290.5,292.6L290.8,292.2L291.1,291.5L291.4,290.7L291.7,289.8L292.0,288.8L292.3,287.8L292.6,287.0L292.9,286.3L293.2,285.7L293.5,285.3L293.8,284.9L294.1,284.6L294.4,284.2L294.7,283.8L295.0,283.2L295.3,282.4L295.6,281.6L295.9,280.7L296.2,279.8L296.5,278.9L296.8,278.1L297.1,277.3L297.4,276.7L297.7,276.3L298.0,275.9L298.3,275.5L298.6,275.1L298.9,274.7L299.2,274.1L299.5,273.5L299.8,272.7L300.1,271.7L300.4,270.7L300.7,269.7L301.0,268.7L301.3,267.7L301.6,266.8L301.9,266.1L302.2,265.4L302.5,264.9L302.8,264.3L303.1,263.8L303.4,263.1L303.7,262.3L304.0,261.4L304.3,260.3L304.6,259.1L304.9,257.9L305.2,256.5L305.5,255.3L305.8,254.1L306.1,253.0L306.4,252.0L306.7,251.1L307.0,250.3L307.3,249.6L307.6,249.0L307.9,248.3L308.2,247.6L308.5,246.9L308.8,246.1L309.1,245.2L309.4,244.3L309.7,243.4L310.0,242.6L310.3,241.9L310.6,241.3L310.9,240.8L311.2,240.5L311.5,240.3L311.8,240.2L312.1,240.3L312.4,240.3L312.7,240.3L313.0,240.2L313.3,240.0L313.6,239.7L313.9,239.3L314.2,238.9L314.5,238.4L314.8,238.0L315.1,237.7L315.4,237.5L315.7,237.4L316.0,237.5L316.3,237.7L316.6,237.9L316.9,238.2L317.2,238.4L317.5,238.5L317.8,238.5L318.1,238.4L318.4,238.2L318.7,237.9L319.0,237.5L319.3,237.1L319.6,236.8L319.9,236.6L320.2,236.5L320.5,236.5L320.8,236.6L321.1,236.8L321.4,237.1L321.7,237.3L322.0,237.5L322.3,237.5L322.6,237.4L322.9,237.2L323.2,236.8L323.5,236.5L323.8,236.1L324.1,235.7L324.4,235.4L324.7,235.3L325.0,235.3L325.3,235.4L325.6,235.6L325.9,235.9L326.2,236.2L326.5,236.4L326.8,236.5L327.1,236.4L327.4,236.3L327.7,236.0L328.0,235.7L328.3,235.3L328.6,235.0L328.9,234.7L329.2,234.5L329.5,234.5L329.8,234.7L330.1,234.9L330.4,235.3L330.7,235.7L331.0,236.1L331.3,236.5L331.6,236.7L331.9,236.9L332.2,237.0L332.5,237.0L332.8,237.0L333.1,237.0L333.4,237.1L333.7,237.3L334.0,237.6L334.3,238.0L334.6,238.6L334.9,239.2L335.2,239.9L335.5,240.5L335.8,241.0L336.1,241.4L336.4,241.6L336.7,241.8L337.0,241.8L337.3,241.8L337.6,241.7L337.9,241.7L338.2,241.8L338.5,242.0L338.8,242.4L339.1,242.8L339.4,243.4L339.7,244.0L340.0,244.7L340.3,245.2L340.6,245.7L340.9,246.0L341.2,246.3L341.5,246.4L341.8,246.4L342.1,246.4L342.4,246.5L342.7,246.6L343.0,246.9L343.3,247.2L343.6,247.8L343.9,248.4L344.2,249.1L344.5,249.8L344.8,250.5L345.1,251.0L345.4,251.5L345.7,251.9L346.0,252.1L346.3,252.2L346.6,252.3L346.9,252.4L347.2,252.5L347.5,252.7L347.8,253.1L348.1,253.6L348.4,254.3L348.7,255.0L349.0,255.7L349.3,256.5L349.6,257.1L349.9,257.7L350.2,258.1L350.5,258.4L350.8,258.5L351.1,258.7L351.4,258.8L351.7,258.9L352.0,259.1L352.3,259.5L352.6,259.9L352.9,260.5L353.2,261.2L353.5,261.9L353.8,262.6L354.1,263.2L354.4,263.7L354.7,264.1L355.0,264.4L355.3,264.6L355.6,264.6L355.9,264.7L356.2,264.7L356.5,264.8L356.8,265.1L357.1,265.4L357.4,265.9L357.7,266.4L358.0,267.0L358.3,267.6L358.6,268.2L358.9,268.6L359.2,269.0L359.5,269.2L359.8,269.2L360.1,269.2L360.4,269.1L360.7,269.0L361.0,269.0L361.3,269.1L361.6,269.3L361.9,269.6L362.2,270.1L362.5,270.6L362.8,271.2L363.1,271.8L363.4,272.2L363.7,272.6L364.0,272.9L364.3,273.0L364.6,273.1L364.9,273.0L365.2,273.0L365.5,272.9L365.8,273.0L366.1,273.1L366.4,273.4L366.7,273.8L367.0,274.3L367.3,274.8L367.6,275.3L367.9,275.7L368.2,276.1L368.5,276.3L368.8,276.3L369.1,276.3L369.4,276.1L369.7,275.9L370.0,275.8L370.3,275.7L370.6,275.7L370.9,275.8L371.2,276.0L371.5,276.3L371.8,276.7L372.1,277.1L372.4,277.4L372.7,277.7L373.0,277.8L373.3,277.8L373.6,277.6L373.9,277.4L374.2,277.1L374.5,276.8L374.8,276.6L375.1,276.5L375.4,276.5L375.7,276.7L376.0,276.9L376.3,277.3L376.6,277.7L376.9,278.0L377.2,278.3L377.5,278.4L377.8,278.5L378.1,278.4L378.4,278.2L378.7,277.9L379.0,277.7L379.3,277.4L379.6,277.3L379.9,277.3L380.2,277.4L380.5,277.7L380.8,278.0L381.1,278.4L381.4,278.8L381.7,279.2L382.0,279.5L382.3,279.6L382.6,279.6L382.9,279.5L383.2,279.4L383.5,279.1L383.8,278.9L384.1,278.8L384.4,278.8L384.7,278.9L385.0,279.1L385.3,279.4L385.6,279.8L385.9,280.1L386.2,280.5L386.5,280.7L386.8,280.8L387.1,280.8L387.4,280.7L387.7,280.4L388.0,280.2L388.3,279.9L388.6,279.7L388.9,279.6L389.2,279.6L389.5,279.7L389.8,280.0L390.1,280.4L390.4,280.7L390.7,281.1L391.0,281.4L391.3,281.6L391.6,281.7L391.9,281.6L392.2,281.4L392.5,281.2L392.8,280.9L393.1,280.6L393.4,280.5L393.7,280.4L394.0,280.5L394.3,280.6L394.6,280.8L394.9,281.0L395.2,281.2L395.5,281.3L395.8,281.3L396.1,281.2L396.4,281.0L396.7,280.6L397.0,280.2L397.3,279.7L397.6,279.4L397.9,279.1L398.2,278.9L398.5,278.9L398.8,279.1L399.1,279.3L399.4,279.6L399.7,279.9L400.0,280.2L400.3,280.4L400.6,280.5L400.9,280.4L401.2,280.3L401.5,280.0L401.8,279.7L402.1,279.3L402.4,279.1L402.7,278.9L403.0,278.9L403.3,279.0L403.6,279.2L403.9,279.5L404.2,279.8L404.5,280.1L404.8,280.4L405.1,280.5L405.4,280.5L405.7,280.3L406.0,280.1L406.3,279.8L406.6,279.5L406.9,279.2L407.2,279.0L407.5,278.9L407.8,279.0L408.1,279.2L408.4,279.5L408.7,279.9L409.0,280.3L409.3,280.6L409.6,280.9L409.9,281.0L410.2,281.0L410.5,280.9L410.8,280.7L411.1,280.5L411.4,280.3L411.7,280.3L412.0,280.3L412.3,280.4" stroke="#0000ff" stroke-width="1.6" fill="none" stroke-linejoin="round"/>
<path d="M251.2,274.7L251.5,274.6L251.8,274.7L252.1,274.9L252.4,275.2L252.7,275.6L253.0,276.1L253.3,276.6L253.6,277.0L253.9,277.3L254.2,277.5L254.5,277.6L254.8,277.6L255.1,277.5L255.4,277.3L255.7,277.2L256.0,277.1L256.3,277.2L256.6,277.3L256.9,277.6L257.2,278.1L257.5,278.5L257.8,279.0L258.1,279.5L258.4,279.9L258.7,280.2L259.0,280.4L259.3,280.5L259.6,280.5L259.9,280.4L260.2,280.4L260.5,280.5L260.8,280.7L261.1,281.1L261.4,281.7L261.7,282.4L262.0,283.2L262.3,284.0L262.6,284.8L262.9,285.5L263.2,286.1L263.5,286.5L263.8,286.9L264.1,287.1L264.4,287.3L264.7,287.4L265.0,287.5L265.3,287.6L265.6,287.8L265.9,287.9L266.2,288.1L266.5,288.1L266.8,288.1L267.1,287.9L267.4,287.6L267.7,287.2L268.0,286.6L268.3,285.9L268.6,285.1L268.9,284.3L269.2,283.7L269.5,283.1L269.8,282.9L270.1,282.8L270.4,282.9L270.7,283.3L271.0,283.7L271.3,284.3L271.6,284.9L271.9,285.5L272.2,286.0L272.5,286.3L272.8,286.5L273.1,286.6L273.4,286.6L273.7,286.5L274.0,286.5L274.3,286.5L274.6,286.5L274.9,286.7L275.2,286.9L275.5,287.2L275.8,287.5L276.1,287.8L276.4,288.0L276.7,288.2L277.0,288.2L277.3,288.1L277.6,287.8L277.9,287.4L278.2,286.9L278.5,286.4L278.8,285.9L279.1,285.5L279.4,285.1L279.7,284.8L280.0,284.6L280.3,284.5L280.6,284.5L280.9,284.4L281.2,284.4L281.5,284.4L281.8,284.3L282.1,284.1L282.4,283.8L282.7,283.4L283.0,283.0L283.3,282.7L283.6,282.4L283.9,282.2L284.2,282.1L284.5,282.1L284.8,282.2L285.1,282.4L285.4,282.5L285.7,282.6L286.0,282.6L286.3,282.5L286.6,282.2L286.9,281.7L287.2,281.2L287.5,280.7L287.8,280.1L288.1,279.6L288.4,279.2L288.7,279.0L289.0,278.9L289.3,278.9L289.6,278.9L289.9,279.0L290.2,279.1L290.5,279.1L290.8,278.9L291.1,278.5L291.4,278.0L291.7,277.3L292.0,276.6L292.3,275.8L292.6,275.0L292.9,274.3L293.2,273.7L293.5,273.3L293.8,273.0L294.1,272.8L294.4,272.7L294.7,272.6L295.0,272.4L295.3,272.2L295.6,271.8L295.9,271.2L296.2,270.6L296.5,269.8L296.8,268.9L297.1,268.0L297.4,267.2L297.7,266.4L298.0,265.7L298.3,265.2L298.6,264.7L298.9,264.3L299.2,263.9L299.5,263.5L299.8,263.0L300.1,262.4L300.4,261.6L300.7,260.7L301.0,259.8L301.3,258.7L301.6,257.7L301.9,256.6L302.2,255.7L302.5,254.8L302.8,254.0L303.1,253.2L303.4,252.5L303.7,251.7L304.0,250.9L304.3,249.9L304.6,248.9L304.9,247.8L305.2,246.5L305.5,245.3L305.8,243.9L306.1,242.6L306.4,241.3L306.7,240.1L307.0,239.0L307.3,238.1L307.6,237.3L307.9,236.6L308.2,236.0L308.5,235.5L308.8,234.9L309.1,234.3L309.4,233.6L309.7,232.8L310.0,231.9L310.3,231.0L310.6,230.0L310.9,229.1L311.2,228.3L311.5,227.6L311.8,227.0L312.1,226.6L312.4,226.3L312.7,226.2L313.0,226.0L313.3,225.9L313.6,225.7L313.9,225.5L314.2,225.2L314.5,224.7L314.8,224.2L315.1,223.6L315.4,223.1L315.7,222.6L316.0,222.3L316.3,222.0L316.6,221.9L316.9,221.9L317.2,222.1L317.5,222.2L317.8,222.4L318.1,222.5L318.4,222.5L318.7,222.3L319.0,222.0L319.3,221.7L319.6,221.2L319.9,220.7L320.2,220.3L320.5,219.9L320.8,219.7L321.1,219.6L321.4,219.6L321.7,219.7L322.0,219.8L322.3,220.0L322.6,220.1L322.9,220.1L323.2,220.0L323.5,219.8L323.8,219.5L324.1,219.1L324.4,218.7L324.7,218.3L325.0,218.0L325.3,217.8L325.6,217.8L325.9,217.9L326.2,218.2L326.5,218.5L326.8,218.8L327.1,219.1L327.4,219.3L327.7,219.4L328.0,219.4L328.3,219.2L328.6,218.9L328.9,218.6L329.2,218.3L329.5,218.0L329.8,217.8L330.1,217.8L330.4,217.9L330.7,218.2L331.0,218.6L331.3,219.1L331.6,219.5L331.9,220.0L332.2,220.3L332.5,220.6L332.8,220.7L333.1,220.7L333.4,220.7L333.7,220.7L334.0,220.7L334.3,220.8L334.6,221.0L334.9,221.4L335.2,221.8L335.5,222.4L335.8,223.0L336.1,223.6L336.4,224.2L336.7,224.7L337.0,225.0L337.3,225.3L337.6,225.5L337.9,225.5L338.2,225.6L338.5,225.6L338.8,225.8L339.1,226.1L339.4,226.5L339.7,227.0L340.0,227.6L340.3,228.4L340.6,229.1L340.9,229.8L341.2,230.4L341.5,230.9L341.8,231.3L342.1,231.5L342.4,231.7L342.7,231.8L343.0,231.9L343.3,232.1L343.6,232.4L343.9,232.8L344.2,233.4L344.5,234.0L344.8,234.8L345.1,235.6L345.4,236.4L345.7,237.1L346.0,237.7L346.3,238.1L346.6,238.4L346.9,238.7L347.2,238.8L347.5,238.9L347.8,239.1L348.1,239.3L348.4,239.7L348.7,240.2L349.0,240.8L349.3,241.6L349.6,242.3L349.9,243.1L350.2,243.8L350.5,244.5L350.8,244.9L351.1,245.3L351.4,245.5L351.7,245.7L352.0,245.8L352.3,245.9L352.6,246.1L352.9,246.4L353.2,246.8L353.5,247.3L353.8,247.9L354.1,248.6L354.4,249.4L354.7,250.0L355.0,250.6L355.3,251.1L355.6,251.4L355.9,251.6L356.2,251.7L356.5,251.7L356.8,251.8L357.1,251.9L357.4,252.1L357.7,252.4L358.0,252.9L358.3,253.5L358.6,254.2L358.9,254.9L359.2,255.6L359.5,256.3L359.8,256.8L360.1,257.3L360.4,257.6L360.7,257.8L361.0,257.9L361.3,258.0L361.6,258.1L361.9,258.2L362.2,258.5L362.5,258.8L362.8,259.3L363.1,259.9L363.4,260.4L363.7,261.0L364.0,261.5L364.3,261.9L364.6,262.2L364.9,262.4L365.2,262.4L365.5,262.3L365.8,262.2L366.1,262.1L366.4,262.1L366.7,262.3L367.0,262.5L367.3,262.9L367.6,263.4L367.9,263.9L368.2,264.5L368.5,265.1L368.8,265.5L369.1,265.9L369.4,266.1L369.7,266.2L370.0,266.1L370.3,266.1L370.6,266.0L370.9,266.0L371.2,266.1L371.5,266.3L371.8,266.6L372.1,267.1L372.4,267.6L372.7,268.2L373.0,268.8L373.3,269.3L373.6,269.7L373.9,270.0L374.2,270.1L374.5,270.1L374.8,270.0L375.1,269.9L375.4,269.9L375.7,269.9L376.0,270.0L376.3,270.2L376.6,270.5L376.9,270.9L377.2,271.4L377.5,271.8L377.8,272.2L378.1,272.5L378.4,272.7L378.7,272.8L379.0,272.8L379.3,272.7L379.6,272.6L379.9,272.5L380.2,272.5L380.5,272.7L380.8,272.9L381.1,273.3L381.4,273.7L381.7,274.3L382.0,274.8L382.3,275.3L382.6,275.7L382.9,276.0L383.2,276.1L383.5,276.1L383.8,276.0L384.1,275.8L384.4,275.6L384.7,275.4L385.0,275.2L385.3,275.2L385.6,275.2L385.9,275.3L386.2,275.5L386.5,275.7L386.8,275.9L387.1,276.0L387.4,276.0L387.7,276.0L388.0,275.9L388.3,275.7L388.6,275.4L388.9,275.2L389.2,275.0L389.5,274.9L389.8,275.0L390.1,275.1L390.4,275.4L390.7,275.7L391.0,276.0L391.3,276.2L391.6,276.4L391.9,276.3L392.2,276.2L392.5,275.8L392.8,275.4L393.1,274.9L393.4,274.5L393.7,274.1L394.0,273.8L394.3,273.7L394.6,273.7L394.9,273.8L395.2,274.1L395.5,274.4L395.8,274.7L396.1,275.0L396.4,275.2L396.7,275.3L397.0,275.2L397.3,274.9L397.6,274.4L397.9,273.8L398.2,273.2L398.5,272.7L398.8,272.3L399.1,272.2L399.4,272.5L399.7,273.4L400.0,274.6L400.3,275.9L400.6,277.2L400.9,278.3L401.2,278.9L401.5,279.1L401.8,279.1L402.1,279.0L402.4,278.8L402.7,278.5L403.0,278.3L403.3,278.2L403.6,278.2L403.9,278.2L404.2,278.4L404.5,278.7L404.8,279.0L405.1,279.3L405.4,279.6L405.7,279.8L406.0,279.8L406.3,279.7L406.6,279.5L406.9,279.2L407.2,278.9L407.5,278.6L407.8,278.3L408.1,278.1L408.4,278.1L408.7,278.1L409.0,278.2L409.3,278.4L409.6,278.7L409.9,278.8L410.2,278.9L410.5,278.9L410.8,278.8L411.1,278.5L411.4,278.1L411.7,277.7L412.0,277.2L412.3,276.8" stroke="#ff0000" stroke-width="1.6" fill="none" stroke-linejoin="round"/>
<path d="M251.2,282.7L251.4,283.6L251.7,284.4L251.9,285.2L252.2,286.0L252.4,286.7L252.7,287.3L252.9,287.8L253.2,288.3L253.4,288.6L253.7,288.9L253.9,289.2L254.2,289.5L254.4,289.7L254.7,289.9L254.9,290.0L255.2,290.2L255.4,290.2L255.7,290.2L255.9,290.1L256.2,290.0L256.4,289.9L256.7,289.8L256.9,289.7L257.2,289.6L257.4,289.5L257.7,289.5L257.9,289.5L258.2,289.6L258.4,289.7L258.7,289.9L258.9,290.1L259.2,290.3L259.4,290.5L259.7,290.8L259.9,291.0L260.2,291.2L260.4,291.4L260.7,291.6L260.9,291.9L261.2,292.2L261.4,292.4L261.7,292.7L261.9,292.9L262.2,293.2L262.4,293.5L262.7,293.8L262.9,294.1L263.2,294.4L263.4,294.7L263.7,295.0L263.9,295.2L264.2,295.3L264.4,295.4L264.7,295.4L264.9,295.2L265.2,294.9L265.4,294.6L265.7,294.2L265.9,293.8L266.2,293.4L266.4,292.9L266.7,292.5L266.9,292.0L267.2,291.5L267.4,290.8L267.7,290.2L267.9,289.5L268.2,289.0L268.4,288.5L268.7,288.2L268.9,288.0L269.2,288.0L269.4,288.2L269.7,288.5L269.9,288.8L270.2,289.2L270.4,289.6L270.7,290.1L270.9,290.6L271.2,291.0L271.4,291.5L271.7,292.0L271.9,292.7L272.2,293.3L272.4,294.0L272.7,294.6L272.9,295.2L273.2,295.7L273.4,296.1L273.7,296.5L273.9,296.8L274.2,297.1L274.4,297.4L274.7,297.6L274.9,297.7L275.2,297.7L275.4,297.5L275.7,297.3L275.9,296.9L276.2,296.5L276.4,296.1L276.7,295.6L276.9,295.2L277.2,294.7L277.4,294.1L277.7,293.4L277.9,292.6L278.2,291.9L278.4,291.3L278.7,291.0L278.9,290.8L279.2,290.7L279.4,290.6L279.7,290.5L279.9,290.4L280.2,290.3L280.4,290.3L280.7,290.2L280.9,290.2L281.2,290.3L281.4,290.6L281.7,291.0L281.9,291.5L282.2,292.1L282.4,292.7L282.7,293.3L282.9,293.7L283.2,294.0L283.4,294.2L283.7,294.3L283.9,294.5L284.2,294.6L284.4,294.7L284.7,294.7L284.9,294.6L285.2,294.5L285.4,294.2L285.7,293.9L285.9,293.6L286.2,293.3L286.4,293.0L286.7,292.7L286.9,292.5L287.2,292.4L287.4,292.3L287.7,292.1L287.9,292.0L288.2,291.9L288.4,291.8L288.7,291.8L288.9,291.7L289.2,291.7L289.4,291.7L289.7,291.8L289.9,291.9L290.2,292.0L290.4,292.2L290.7,292.3L290.9,292.4L291.2,292.5L291.4,292.5L291.7,292.4L291.9,292.3L292.2,292.2L292.4,292.0L292.7,291.7L292.9,291.5L293.2,291.3L293.4,291.1L293.7,291.0L293.9,290.9L294.2,290.8L294.4,290.6L294.7,290.5L294.9,290.4L295.2,290.3L295.4,290.3L295.7,290.2L295.9,290.2L296.2,290.3L296.4,290.6L296.7,291.1L296.9,291.7L297.2,292.4L297.4,293.0L297.7,293.5L297.9,293.9L298.2,294.0L298.4,293.9L298.7,293.7L298.9,293.4L299.2,293.1L299.4,292.7L299.7,292.2L299.9,291.8L300.2,291.3L300.4,290.9L300.7,290.5L300.9,290.1L301.2,289.6L301.4,289.1L301.7,288.6L301.9,288.1L302.2,287.7L302.4,287.2L302.7,286.7L302.9,286.3L303.2,286.0L303.4,285.6L303.7,285.4L303.9,285.1L304.2,284.9L304.4,284.7L304.7,284.5L304.9,284.3L305.2,284.1L305.4,283.8L305.7,283.5L305.9,283.1L306.2,282.7L306.4,282.2L306.7,281.6L306.9,281.0L307.2,280.5L307.4,280.0L307.7,279.5L307.9,279.1L308.2,278.7L308.4,278.4L308.7,278.0L308.9,277.7L309.2,277.4L309.4,277.1L309.7,276.9L309.9,276.7L310.2,276.7L310.4,276.7L310.7,276.8L310.9,276.9L311.2,277.0L311.4,277.2L311.7,277.3L311.9,277.4L312.2,277.5L312.4,277.5L312.7,277.4L312.9,277.1L313.2,276.8L313.4,276.3L313.7,275.8L313.9,275.3L314.2,274.7L314.4,274.2L314.7,273.7L314.9,273.2L315.2,272.6L315.4,272.0L315.7,271.4L315.9,270.8L316.2,270.3L316.4,269.8L316.7,269.4L316.9,269.2L317.2,269.0L317.4,268.8L317.7,268.7L317.9,268.5L318.2,268.4L318.4,268.3L318.7,268.2L318.9,268.1L319.2,268.0L319.4,267.9L319.7,267.8L319.9,267.7L320.2,267.5L320.4,267.4L320.7,267.2L320.9,267.1L321.2,266.9L321.4,266.7L321.7,266.6L321.9,266.5L322.2,266.3L322.4,266.3L322.7,266.2L322.9,266.2L323.2,266.2L323.4,266.3L323.7,266.3L323.9,266.4L324.2,266.5L324.4,266.6L324.7,266.7L324.9,266.8L325.2,266.9L325.4,267.0L325.7,267.0L325.9,267.0L326.2,267.0L326.4,266.9L326.7,266.8L326.9,266.7L327.2,266.5L327.4,266.4L327.7,266.2L327.9,266.1L328.2,266.0L328.4,265.9L328.7,265.8L328.9,265.8L329.2,265.9L329.4,266.1L329.7,266.4L329.9,266.8L330.2,267.2L330.4,267.7L330.7,268.1L330.9,268.4L331.2,268.7L331.4,269.1L331.7,269.4L331.9,269.7L332.2,270.0L332.4,270.3L332.7,270.6L332.9,270.9L333.2,271.2L333.4,271.5L333.7,271.8L333.9,272.1L334.2,272.5L334.4,272.8L334.7,273.2L334.9,273.5L335.2,273.9L335.4,274.3L335.7,274.7L335.9,275.0L336.2,275.4L336.4,275.8L336.7,276.2L336.9,276.6L337.2,277.0L337.4,277.5L337.7,278.0L337.9,278.5L338.2,279.0L338.4,279.5L338.7,279.9L338.9,280.2L339.2,280.4L339.4,280.5L339.7,280.6L339.9,280.7L340.2,280.8L340.4,280.8L340.7,280.9L340.9,281.0L341.2,281.1L341.4,281.2L341.7,281.3L341.9,281.5L342.2,281.7L342.4,282.0L342.7,282.2L342.9,282.5L343.2,282.8L343.4,283.1L343.7,283.4L343.9,283.7L344.2,284.1L344.4,284.5L344.7,285.0L344.9,285.4L345.2,285.8L345.4,286.1L345.7,286.3L345.9,286.4L346.2,286.4L346.4,286.3L346.7,286.2L346.9,286.1L347.2,286.0L347.4,285.9L347.7,285.8L347.9,285.7L348.2,285.7L348.4,285.8L348.7,286.0L348.9,286.3L349.2,286.6L349.4,287.0L349.7,287.5L349.9,287.9L350.2,288.3L350.4,288.6L350.7,288.9L350.9,289.3L351.2,289.6L351.4,289.9L351.7,290.2L351.9,290.5L352.2,290.7L352.4,290.8L352.7,290.9L352.9,290.8L353.2,290.7L353.4,290.5L353.7,290.2L353.9,289.9L354.2,289.6L354.4,289.4L354.7,289.2L354.9,289.1L355.2,289.1L355.4,289.2L355.7,289.4L355.9,289.6L356.2,289.9L356.4,290.2L356.7,290.4L356.9,290.7L357.2,290.9L357.4,291.1L357.7,291.3L357.9,291.5L358.2,291.8L358.4,292.0L358.7,292.2L358.9,292.3L359.2,292.4L359.4,292.4L359.7,292.3L359.9,292.2L360.2,292.0L360.4,291.7L360.7,291.4L360.9,291.1L361.2,290.8L361.4,290.5L361.7,290.2L361.9,289.9L362.2,289.5L362.4,289.0L362.7,288.6L362.9,288.1L363.2,287.7L363.4,287.4L363.7,287.3L363.9,287.2L364.2,287.3L364.4,287.4L364.7,287.6L364.9,287.9L365.2,288.1L365.4,288.3L365.7,288.5L365.9,288.7L366.2,288.7L366.4,288.7L366.7,288.6L366.9,288.6L367.2,288.5L367.4,288.4L367.7,288.2L367.9,288.1L368.2,288.0L368.4,287.9L368.7,287.7L368.9,287.6L369.2,287.4L369.4,287.2L369.7,287.0L369.9,286.8L370.2,286.7L370.4,286.5L370.7,286.4L370.9,286.3L371.2,286.2L371.4,286.1L371.7,286.0L371.9,285.9L372.2,285.8L372.4,285.7L372.7,285.7L372.9,285.7L373.2,285.9L373.4,286.3L373.7,286.8L373.9,287.4L374.2,288.0L374.4,288.6L374.7,289.1L374.9,289.4L375.2,289.4L375.4,289.4L375.7,289.3L375.9,289.3L376.2,289.2L376.4,289.1L376.7,289.0L376.9,288.9L377.2,288.8L377.4,288.7L377.7,288.4L377.9,287.9L378.2,287.4L378.4,286.8L378.7,286.2L378.9,285.6L379.2,285.2L379.4,284.9L379.7,284.9L379.9,285.1L380.2,285.4L380.4,285.9L380.7,286.4L380.9,287.0L381.2,287.5L381.4,288.0L381.7,288.5L381.9,288.7L382.2,289.0L382.4,289.2L382.7,289.5L382.9,289.7L383.2,289.9L383.4,290.0L383.7,290.1L383.9,290.2L384.2,290.2L384.4,290.0L384.7,289.7L384.9,289.3L385.2,288.8L385.4,288.3L385.7,287.9L385.9,287.5L386.2,287.3L386.4,287.2L386.7,287.2L386.9,287.4L387.2,287.5L387.4,287.7L387.7,287.9L387.9,288.1L388.2,288.4L388.4,288.6L388.7,288.8L388.9,289.0L389.2,289.3L389.4,289.6L389.7,290.0L389.9,290.3L390.2,290.5L390.4,290.7L390.7,290.9L390.9,290.9L391.2,290.7L391.4,290.4L391.7,289.9L391.9,289.3L392.2,288.7L392.4,288.2L392.7,287.7L392.9,287.3L393.2,287.1L393.4,287.0L393.7,286.9L393.9,286.8L394.2,286.7L394.4,286.6L394.7,286.6L394.9,286.5L395.2,286.4L395.4,286.4L395.7,286.3L395.9,286.2L396.2,286.2L396.4,286.2L396.7,286.1L396.9,286.1L397.2,286.0L397.4,286.0L397.7,285.9L397.9,285.8L398.2,285.7L398.4,285.6L398.7,285.4L398.9,285.1L399.2,284.8L399.4,284.4L399.7,284.0L399.9,283.6L400.2,283.3L400.4,282.9L400.7,282.6L400.9,282.2L401.2,281.8L401.4,281.4L401.7,281.0L401.9,280.7L402.2,280.5L402.4,280.4L402.7,280.5L402.9,280.9L403.2,281.5L403.4,282.2L403.7,283.1L403.9,283.9L404.2,284.6L404.4,285.3L404.7,286.0L404.9,286.8L405.2,287.5L405.4,288.3L405.7,289.0L405.9,289.7L406.2,290.2L406.4,290.7L406.7,291.0L406.9,291.3L407.2,291.6L407.4,291.9L407.7,292.1L407.9,292.4L408.2,292.5L408.4,292.6L408.7,292.7L408.9,292.7L409.2,292.7L409.4,292.6L409.7,292.5L409.9,292.4L410.2,292.3L410.4,292.1L410.7,291.9L410.9,291.7L411.2,291.4L411.4,291.0L411.7,290.7L411.9,290.3" stroke="#000000" stroke-width="1.6" fill="none" stroke-linejoin="round"/>
<rect x="251.1" y="182.3" width="161.3" height="123.1" fill="none" stroke="#222" stroke-width="1"/>
<path d="M251.1,305.4v-3.0M251.1,182.3v3.0M291.43,305.4v-3.0M291.43,182.3v3.0M331.75,305.4v-3.0M331.75,182.3v3.0M372.07,305.4v-3.0M372.07,182.3v3.0M412.4,305.4v-3.0M412.4,182.3v3.0M271.26,305.4v-1.8M271.26,182.3v1.8M311.59,305.4v-1.8M311.59,182.3v1.8M351.91,305.4v-1.8M351.91,182.3v1.8M392.24,305.4v-1.8M392.24,182.3v1.8" stroke="#222" stroke-width="1" fill="none"/>
<text x="251.25" y="317.8" text-anchor="middle" letter-spacing="0.3">550</text>
<text x="291.57" y="317.8" text-anchor="middle" letter-spacing="0.3">600</text>
<text x="331.9" y="317.8" text-anchor="middle" letter-spacing="0.3">650</text>
<text x="372.22" y="317.8" text-anchor="middle" letter-spacing="0.3">700</text>
<text x="412.55" y="317.8" text-anchor="middle" letter-spacing="0.3">750</text>
<path d="M251.1,305.4h3.0M412.4,305.4h-3.0M251.1,256.16h3.0M412.4,256.16h-3.0M251.1,206.92h3.0M412.4,206.92h-3.0M251.1,280.78h1.8M412.4,280.78h-1.8M251.1,231.54h1.8M412.4,231.54h-1.8M251.1,182.3h1.8M412.4,182.3h-1.8" stroke="#222" stroke-width="1" fill="none"/>
<text x="246.6" y="308.6" text-anchor="end">0.0</text>
<text x="246.6" y="259.36" text-anchor="end">0.4</text>
<text x="246.6" y="210.12" text-anchor="end">0.8</text>
<text transform="translate(228.6,242.1) rotate(-90)" text-anchor="middle" font-size="10.2">Linear dichroism</text>
<text x="332" y="331.4" text-anchor="middle" font-size="10.15">Wavelength (nm)</text>
<text x="217.6" y="179.6" font-weight="bold" font-size="14.6" fill="#000">d</text>
<path d="M349.7,194.7H374.7" stroke="#000000" stroke-width="1.5"/>
<text x="378.8" y="198" font-family="Liberation Serif" font-style="italic" font-size="8.9">θ</text>
<text x="385.6" y="198.5" font-size="8.6">=</text>
<text x="393.4" y="198" font-size="8.6">30</text>
<text x="403.2" y="198" font-size="8.6">°</text>
<path d="M349.7,209.5H374.7" stroke="#ff0000" stroke-width="1.5"/>
<text x="378.8" y="212.8" font-family="Liberation Serif" font-style="italic" font-size="8.9">θ</text>
<text x="385.6" y="213.3" font-size="8.6">=</text>
<text x="393.4" y="212.8" font-size="8.6">45</text>
<text x="403.2" y="212.8" font-size="8.6">°</text>
<path d="M349.7,224.3H374.7" stroke="#0000ff" stroke-width="1.5"/>
<text x="378.8" y="227.6" font-family="Liberation Serif" font-style="italic" font-size="8.9">θ</text>
<text x="385.6" y="228.1" font-size="8.6">=</text>
<text x="393.4" y="227.6" font-size="8.6">55</text>
<text x="403.2" y="227.6" font-size="8.6">°</text>
<path d="M515.4,131.2L515.7,131.2L516.0,131.2L516.3,131.2L516.6,131.2L516.9,131.2L517.2,131.2L517.5,131.2L517.8,131.2L518.1,131.2L518.4,131.2L518.7,131.2L519.0,131.2L519.3,131.2L519.6,131.2L519.9,131.2L520.2,131.2L520.5,131.2L520.8,131.2L521.1,131.2L521.4,131.2L521.7,131.2L522.0,131.1L522.3,131.1L522.6,131.1L522.9,131.1L523.2,131.1L523.5,131.1L523.8,131.1L524.1,131.1L524.4,131.1L524.7,131.1L525.0,131.1L525.3,131.1L525.6,131.1L525.9,131.1L526.2,131.0L526.5,131.0L526.8,131.0L527.1,131.0L527.4,131.0L527.7,131.0L528.0,131.0L528.3,131.0L528.6,131.0L528.9,130.9L529.2,130.9L529.5,130.9L529.8,130.9L530.1,130.9L530.4,130.9L530.7,130.9L531.0,130.8L531.3,130.8L531.6,130.8L531.9,130.8L532.2,130.8L532.5,130.8L532.8,130.7L533.1,130.7L533.4,130.7L533.7,130.7L534.0,130.7L534.3,130.6L534.6,130.6L534.9,130.6L535.2,130.6L535.5,130.5L535.8,130.5L536.1,130.5L536.4,130.5L536.7,130.5L537.0,130.4L537.3,130.4L537.6,130.3L537.9,130.2L538.2,130.0L538.5,129.8L538.8,129.5L539.1,129.3L539.4,129.2L539.7,129.1L540.0,129.1L540.3,129.3L540.6,129.5L540.9,129.7L541.2,130.0L541.5,130.2L541.8,130.4L542.1,130.4L542.4,130.4L542.7,130.4L543.0,130.4L543.3,130.4L543.6,130.4L543.9,130.4L544.2,130.4L544.5,130.4L544.8,130.4L545.1,130.4L545.4,130.4L545.7,130.4L546.0,130.3L546.3,130.3L546.6,130.3L546.9,130.3L547.2,130.3L547.5,130.3L547.8,130.3L548.1,130.3L548.4,130.3L548.7,130.3L549.0,130.2L549.3,130.2L549.6,130.2L549.9,130.2L550.2,130.2L550.5,130.2L550.8,130.1L551.1,130.1L551.4,130.1L551.7,130.1L552.0,130.1L552.3,130.0L552.6,130.0L552.9,130.0L553.2,130.0L553.5,129.9L553.8,129.9L554.1,129.9L554.4,129.9L554.7,129.8L555.0,129.8L555.3,129.8L555.6,129.8L555.9,129.7L556.2,129.7L556.5,129.7L556.8,129.6L557.1,129.6L557.4,129.6L557.7,129.5L558.0,129.5L558.3,129.5L558.6,129.4L558.9,129.4L559.2,129.3L559.5,129.3L559.8,129.3L560.1,129.2L560.4,129.2L560.7,129.1L561.0,129.1L561.3,129.0L561.6,129.0L561.9,129.0L562.2,128.9L562.5,128.9L562.8,128.8L563.1,128.8L563.4,128.7L563.7,128.7L564.0,128.6L564.3,128.6L564.6,128.5L564.9,128.4L565.2,128.3L565.5,128.2L565.8,128.1L566.1,127.9L566.4,127.8L566.7,127.6L567.0,127.3L567.3,127.1L567.6,126.9L567.9,126.6L568.2,126.3L568.5,125.9L568.8,125.4L569.1,124.8L569.4,124.1L569.7,123.4L570.0,122.7L570.3,121.9L570.6,121.1L570.9,120.3L571.2,119.5L571.5,118.7L571.8,117.8L572.1,116.9L572.4,116.0L572.7,115.1L573.0,114.1L573.3,113.0L573.6,111.8L573.9,110.6L574.2,109.3L574.5,107.9L574.8,106.3L575.1,104.4L575.4,102.2L575.7,99.8L576.0,97.2L576.3,94.4L576.6,91.6L576.9,88.7L577.2,85.9L577.5,83.1L577.8,80.4L578.1,77.9L578.4,75.4L578.7,72.9L579.0,70.4L579.3,67.9L579.6,65.5L579.9,63.0L580.2,60.5L580.5,58.1L580.8,55.7L581.1,53.3L581.4,50.9L581.7,48.4L582.0,45.9L582.3,43.2L582.6,40.7L582.9,38.5L583.2,36.5L583.5,35.0L583.8,33.8L584.1,32.6L584.4,31.4L584.7,30.3L585.0,29.3L585.3,28.4L585.6,27.7L585.9,27.0L586.2,26.6L586.5,26.3L586.8,26.3L587.1,26.4L587.4,26.7L587.7,27.0L588.0,27.5L588.3,28.1L588.6,28.7L588.9,29.4L589.2,30.2L589.5,31.0L589.8,32.1L590.1,33.6L590.4,35.5L590.7,37.7L591.0,40.2L591.3,42.8L591.6,45.5L591.9,48.2L592.2,50.9L592.5,53.8L592.8,57.0L593.1,60.4L593.4,63.9L593.7,67.5L594.0,70.8L594.3,73.9L594.6,76.6L594.9,79.0L595.2,81.4L595.5,83.6L595.8,85.8L596.1,87.8L596.4,89.7L596.7,91.5L597.0,93.2L597.3,94.9L597.6,96.4L597.9,97.9L598.2,99.4L598.5,100.7L598.8,101.9L599.1,103.1L599.4,104.2L599.7,105.2L600.0,106.2L600.3,107.2L600.6,108.1L600.9,109.0L601.2,109.9L601.5,110.7L601.8,111.4L602.1,112.1L602.4,112.8L602.7,113.4L603.0,114.1L603.3,114.7L603.6,115.3L603.9,115.9L604.2,116.4L604.5,117.0L604.8,117.5L605.1,118.0L605.4,118.4L605.7,118.9L606.0,119.3L606.3,119.6L606.6,120.0L606.9,120.3L607.2,120.6L607.5,120.9L607.8,121.1L608.1,121.4L608.4,121.7L608.7,121.9L609.0,122.1L609.3,122.4L609.6,122.6L609.9,122.8L610.2,123.0L610.5,123.2L610.8,123.3L611.1,123.5L611.4,123.7L611.7,123.8L612.0,123.9L612.3,124.0L612.6,124.1L612.9,124.2L613.2,124.3L613.5,124.4L613.8,124.5L614.1,124.6L614.4,124.7L614.7,124.7L615.0,124.8L615.3,124.9L615.6,125.0L615.9,125.0L616.2,125.1L616.5,125.2L616.8,125.2L617.1,125.3L617.4,125.3L617.7,125.4L618.0,125.5L618.3,125.5L618.6,125.6L618.9,125.6L619.2,125.7L619.5,125.7L619.8,125.8L620.1,125.8L620.4,125.8L620.7,125.9L621.0,125.9L621.3,126.0L621.6,126.0L621.9,126.1L622.2,126.1L622.5,126.1L622.8,126.2L623.1,126.2L623.4,126.3L623.7,126.3L624.0,126.3L624.3,126.4L624.6,126.4L624.9,126.5L625.2,126.5L625.5,126.5L625.8,126.6L626.1,126.6L626.4,126.6L626.7,126.7L627.0,126.7L627.3,126.7L627.6,126.8L627.9,126.8L628.2,126.8L628.5,126.9L628.8,126.9L629.1,126.9L629.4,126.9L629.7,127.0L630.0,127.0L630.3,127.0L630.6,127.1L630.9,127.1L631.2,127.1L631.5,127.1L631.8,127.2L632.1,127.2L632.4,127.2L632.7,127.2L633.0,127.3L633.3,127.3L633.6,127.3L633.9,127.3L634.2,127.4L634.5,127.4L634.8,127.4L635.1,127.4L635.4,127.4L635.7,127.5L636.0,127.5L636.3,127.5L636.6,127.5L636.9,127.5L637.2,127.6L637.5,127.6L637.8,127.6L638.1,127.6L638.4,127.6L638.7,127.7L639.0,127.7L639.3,127.7L639.6,127.7L639.9,127.7L640.2,127.7L640.5,127.8L640.8,127.8L641.1,127.8L641.4,127.8L641.7,127.8L642.0,127.8L642.3,127.9L642.6,127.9L642.9,127.9L643.2,127.9L643.5,127.9L643.8,127.9L644.1,127.9L644.4,128.0L644.7,128.0L645.0,128.0L645.3,128.0L645.6,128.0L645.9,128.0L646.2,128.1L646.5,128.1L646.8,128.1L647.1,128.1L647.4,128.1L647.7,128.1L648.0,128.1L648.3,128.2L648.6,128.2L648.9,128.2L649.2,128.2L649.5,128.2L649.8,128.2L650.1,128.2L650.4,128.2L650.7,128.3L651.0,128.3L651.3,128.3L651.6,128.3L651.9,128.3L652.2,128.3L652.5,128.3L652.8,128.4L653.1,128.4L653.4,128.4L653.7,128.4L654.0,128.4L654.3,128.4L654.6,128.5L654.9,128.5L655.2,128.5L655.5,128.5L655.8,128.5L656.1,128.5L656.4,128.5L656.7,128.6L657.0,128.6L657.3,128.6L657.6,128.6L657.9,128.6L658.2,128.6L658.5,128.7L658.8,128.7L659.1,128.7L659.4,128.7L659.7,128.7L660.0,128.7L660.3,128.8L660.6,128.8L660.9,128.8L661.2,128.8L661.5,128.8L661.8,128.8L662.1,128.9L662.4,128.9L662.7,128.9L663.0,128.9L663.3,128.9L663.6,128.9L663.9,129.0L664.2,129.0L664.5,129.0L664.8,129.0L665.1,129.0L665.4,129.0L665.7,129.1L666.0,129.1L666.3,129.1L666.6,129.1L666.9,129.1L667.2,129.2L667.5,129.2L667.8,129.2L668.1,129.2L668.4,129.2L668.7,129.2L669.0,129.3L669.3,129.3L669.6,129.3L669.9,129.3L670.2,129.3L670.5,129.3L670.8,129.4L671.1,129.4L671.4,129.4L671.7,129.4L672.0,129.4L672.3,129.4L672.6,129.5L672.9,129.5L673.2,129.5L673.5,129.5L673.8,129.5L674.1,129.6L674.4,129.6L674.7,129.6L675.0,129.6L675.3,129.6L675.6,129.6L675.9,129.7L676.2,129.7L676.5,129.7" stroke="#0000ff" stroke-width="1.7" fill="none" stroke-linejoin="round"/>
<path d="M515.4,130.7L515.7,130.7L516.0,130.7L516.3,130.8L516.6,130.8L516.9,130.8L517.2,130.8L517.5,130.8L517.8,130.8L518.1,130.9L518.4,130.9L518.7,130.9L519.0,130.9L519.3,130.9L519.6,130.9L519.9,130.9L520.2,130.9L520.5,130.9L520.8,130.9L521.1,131.0L521.4,131.0L521.7,131.0L522.0,131.0L522.3,131.0L522.6,131.0L522.9,131.0L523.2,131.0L523.5,131.0L523.8,131.0L524.1,131.0L524.4,131.0L524.7,131.0L525.0,131.0L525.3,131.0L525.6,131.0L525.9,131.0L526.2,131.0L526.5,131.0L526.8,131.0L527.1,131.0L527.4,131.0L527.7,131.0L528.0,131.0L528.3,131.0L528.6,131.0L528.9,130.9L529.2,130.9L529.5,130.8L529.8,130.8L530.1,130.7L530.4,130.7L530.7,130.6L531.0,130.5L531.3,130.4L531.6,130.3L531.9,130.3L532.2,130.2L532.5,130.1L532.8,130.0L533.1,129.9L533.4,129.8L533.7,129.7L534.0,129.6L534.3,129.5L534.6,129.4L534.9,129.3L535.2,129.2L535.5,129.2L535.8,129.1L536.1,129.0L536.4,128.9L536.7,128.9L537.0,128.8L537.3,128.8L537.6,128.8L537.9,128.7L538.2,128.7L538.5,128.7L538.8,128.7L539.1,128.7L539.4,128.7L539.7,128.8L540.0,128.8L540.3,128.9L540.6,129.0L540.9,129.0L541.2,129.1L541.5,129.2L541.8,129.3L542.1,129.3L542.4,129.4L542.7,129.5L543.0,129.6L543.3,129.7L543.6,129.8L543.9,129.8L544.2,129.9L544.5,130.0L544.8,130.0L545.1,130.0L545.4,130.1L545.7,130.1L546.0,130.1L546.3,130.1L546.6,130.1L546.9,130.1L547.2,130.1L547.5,130.1L547.8,130.1L548.1,130.1L548.4,130.1L548.7,130.1L549.0,130.1L549.3,130.0L549.6,130.0L549.9,130.0L550.2,130.0L550.5,130.0L550.8,130.0L551.1,130.0L551.4,130.0L551.7,129.9L552.0,129.9L552.3,129.9L552.6,129.9L552.9,129.9L553.2,129.8L553.5,129.8L553.8,129.8L554.1,129.8L554.4,129.7L554.7,129.7L555.0,129.7L555.3,129.7L555.6,129.6L555.9,129.6L556.2,129.6L556.5,129.5L556.8,129.5L557.1,129.5L557.4,129.4L557.7,129.4L558.0,129.4L558.3,129.3L558.6,129.3L558.9,129.3L559.2,129.2L559.5,129.2L559.8,129.1L560.1,129.1L560.4,129.0L560.7,129.0L561.0,128.9L561.3,128.9L561.6,128.8L561.9,128.8L562.2,128.7L562.5,128.7L562.8,128.6L563.1,128.6L563.4,128.5L563.7,128.5L564.0,128.4L564.3,128.4L564.6,128.3L564.9,128.2L565.2,128.1L565.5,128.0L565.8,127.9L566.1,127.7L566.4,127.5L566.7,127.3L567.0,127.1L567.3,126.9L567.6,126.6L567.9,126.4L568.2,126.1L568.5,125.8L568.8,125.5L569.1,125.1L569.4,124.7L569.7,124.3L570.0,123.8L570.3,123.3L570.6,122.8L570.9,122.3L571.2,121.7L571.5,121.1L571.8,120.4L572.1,119.8L572.4,119.1L572.7,118.3L573.0,117.5L573.3,116.6L573.6,115.6L573.9,114.6L574.2,113.6L574.5,112.5L574.8,111.4L575.1,110.2L575.4,109.0L575.7,107.8L576.0,106.6L576.3,105.2L576.6,103.8L576.9,102.4L577.2,100.8L577.5,99.3L577.8,97.7L578.1,96.1L578.4,94.5L578.7,92.7L579.0,90.9L579.3,89.1L579.6,87.2L579.9,85.3L580.2,83.4L580.5,81.5L580.8,79.7L581.1,78.0L581.4,76.5L581.7,75.0L582.0,73.6L582.3,72.2L582.6,70.8L582.9,69.4L583.2,68.1L583.5,67.0L583.8,65.9L584.1,65.0L584.4,64.2L584.7,63.6L585.0,63.0L585.3,62.4L585.6,61.9L585.9,61.3L586.2,60.9L586.5,60.5L586.8,60.2L587.1,60.0L587.4,59.9L587.7,59.9L588.0,60.1L588.3,60.4L588.6,60.7L588.9,61.2L589.2,61.8L589.5,62.3L589.8,63.0L590.1,63.6L590.4,64.6L590.7,65.7L591.0,67.1L591.3,68.7L591.6,70.3L591.9,71.9L592.2,73.5L592.5,75.1L592.8,76.8L593.1,78.6L593.4,80.5L593.7,82.3L594.0,84.1L594.3,85.9L594.6,87.5L594.9,89.2L595.2,90.8L595.5,92.4L595.8,94.0L596.1,95.5L596.4,96.9L596.7,98.2L597.0,99.4L597.3,100.6L597.6,101.7L597.9,102.8L598.2,103.9L598.5,104.9L598.8,105.9L599.1,106.8L599.4,107.7L599.7,108.5L600.0,109.3L600.3,110.0L600.6,110.6L600.9,111.3L601.2,111.9L601.5,112.5L601.8,113.0L602.1,113.6L602.4,114.1L602.7,114.6L603.0,115.1L603.3,115.5L603.6,116.0L603.9,116.4L604.2,116.8L604.5,117.2L604.8,117.5L605.1,117.9L605.4,118.3L605.7,118.6L606.0,118.9L606.3,119.3L606.6,119.6L606.9,119.9L607.2,120.2L607.5,120.5L607.8,120.8L608.1,121.0L608.4,121.3L608.7,121.5L609.0,121.7L609.3,122.0L609.6,122.2L609.9,122.3L610.2,122.5L610.5,122.7L610.8,122.8L611.1,123.0L611.4,123.1L611.7,123.2L612.0,123.4L612.3,123.5L612.6,123.6L612.9,123.8L613.2,123.9L613.5,124.0L613.8,124.1L614.1,124.2L614.4,124.3L614.7,124.4L615.0,124.5L615.3,124.6L615.6,124.7L615.9,124.8L616.2,124.9L616.5,125.0L616.8,125.1L617.1,125.1L617.4,125.2L617.7,125.3L618.0,125.4L618.3,125.4L618.6,125.5L618.9,125.5L619.2,125.6L619.5,125.7L619.8,125.7L620.1,125.8L620.4,125.8L620.7,125.9L621.0,125.9L621.3,126.0L621.6,126.0L621.9,126.0L622.2,126.1L622.5,126.1L622.8,126.2L623.1,126.2L623.4,126.2L623.7,126.3L624.0,126.3L624.3,126.4L624.6,126.4L624.9,126.4L625.2,126.5L625.5,126.5L625.8,126.5L626.1,126.6L626.4,126.6L626.7,126.6L627.0,126.7L627.3,126.7L627.6,126.7L627.9,126.8L628.2,126.8L628.5,126.8L628.8,126.8L629.1,126.9L629.4,126.9L629.7,126.9L630.0,127.0L630.3,127.0L630.6,127.0L630.9,127.0L631.2,127.1L631.5,127.1L631.8,127.1L632.1,127.2L632.4,127.2L632.7,127.2L633.0,127.2L633.3,127.3L633.6,127.3L633.9,127.3L634.2,127.3L634.5,127.4L634.8,127.4L635.1,127.4L635.4,127.5L635.7,127.5L636.0,127.5L636.3,127.5L636.6,127.6L636.9,127.6L637.2,127.6L637.5,127.7L637.8,127.7L638.1,127.7L638.4,127.7L638.7,127.8L639.0,127.8L639.3,127.8L639.6,127.8L639.9,127.9L640.2,127.9L640.5,127.9L640.8,127.9L641.1,128.0L641.4,128.0L641.7,128.0L642.0,128.0L642.3,128.1L642.6,128.1L642.9,128.1L643.2,128.1L643.5,128.2L643.8,128.2L644.1,128.2L644.4,128.2L644.7,128.3L645.0,128.3L645.3,128.3L645.6,128.3L645.9,128.4L646.2,128.4L646.5,128.4L646.8,128.4L647.1,128.4L647.4,128.5L647.7,128.5L648.0,128.5L648.3,128.5L648.6,128.6L648.9,128.6L649.2,128.6L649.5,128.6L649.8,128.7L650.1,128.7L650.4,128.7L650.7,128.7L651.0,128.7L651.3,128.8L651.6,128.8L651.9,128.8L652.2,128.8L652.5,128.9L652.8,128.9L653.1,128.9L653.4,128.9L653.7,128.9L654.0,129.0L654.3,129.0L654.6,129.0L654.9,129.0L655.2,129.0L655.5,129.1L655.8,129.1L656.1,129.1L656.4,129.1L656.7,129.2L657.0,129.2L657.3,129.2L657.6,129.2L657.9,129.2L658.2,129.3L658.5,129.3L658.8,129.3L659.1,129.3L659.4,129.3L659.7,129.4L660.0,129.4L660.3,129.4L660.6,129.4L660.9,129.4L661.2,129.5L661.5,129.5L661.8,129.5L662.1,129.5L662.4,129.5L662.7,129.6L663.0,129.6L663.3,129.6L663.6,129.6L663.9,129.6L664.2,129.7L664.5,129.7L664.8,129.7L665.1,129.7L665.4,129.7L665.7,129.8L666.0,129.8L666.3,129.8L666.6,129.8L666.9,129.8L667.2,129.8L667.5,129.9L667.8,129.9L668.1,129.9L668.4,129.9L668.7,129.9L669.0,130.0L669.3,130.0L669.6,130.0L669.9,130.0L670.2,130.0L670.5,130.1L670.8,130.1L671.1,130.1L671.4,130.1L671.7,130.1L672.0,130.1L672.3,130.2L672.6,130.2L672.9,130.2L673.2,130.2L673.5,130.2L673.8,130.2L674.1,130.3L674.4,130.3L674.7,130.3L675.0,130.3L675.3,130.3L675.6,130.3L675.9,130.4L676.2,130.4L676.5,130.4" stroke="#ff0000" stroke-width="1.7" fill="none" stroke-linejoin="round"/>
<path d="M515.4,128.5L515.7,128.6L516.0,128.6L516.3,128.7L516.6,128.8L516.9,128.8L517.2,128.9L517.5,128.9L517.8,129.0L518.1,129.0L518.4,129.1L518.7,129.1L519.0,129.1L519.3,129.2L519.6,129.2L519.9,129.3L520.2,129.3L520.5,129.3L520.8,129.3L521.1,129.4L521.4,129.4L521.7,129.4L522.0,129.4L522.3,129.4L522.6,129.5L522.9,129.5L523.2,129.5L523.5,129.5L523.8,129.5L524.1,129.5L524.4,129.5L524.7,129.5L525.0,129.5L525.3,129.5L525.6,129.5L525.9,129.5L526.2,129.5L526.5,129.4L526.8,129.4L527.1,129.4L527.4,129.3L527.7,129.3L528.0,129.3L528.3,129.2L528.6,129.2L528.9,129.1L529.2,129.1L529.5,129.0L529.8,129.0L530.1,128.9L530.4,128.9L530.7,128.8L531.0,128.7L531.3,128.7L531.6,128.6L531.9,128.6L532.2,128.5L532.5,128.5L532.8,128.4L533.1,128.4L533.4,128.3L533.7,128.3L534.0,128.2L534.3,128.2L534.6,128.1L534.9,128.1L535.2,128.0L535.5,127.9L535.8,127.9L536.1,127.8L536.4,127.7L536.7,127.7L537.0,127.6L537.3,127.6L537.6,127.6L537.9,127.5L538.2,127.5L538.5,127.5L538.8,127.5L539.1,127.5L539.4,127.6L539.7,127.7L540.0,127.7L540.3,127.8L540.6,127.9L540.9,128.0L541.2,128.2L541.5,128.3L541.8,128.4L542.1,128.5L542.4,128.5L542.7,128.6L543.0,128.7L543.3,128.7L543.6,128.7L543.9,128.7L544.2,128.7L544.5,128.7L544.8,128.7L545.1,128.7L545.4,128.7L545.7,128.7L546.0,128.7L546.3,128.7L546.6,128.7L546.9,128.7L547.2,128.7L547.5,128.7L547.8,128.7L548.1,128.7L548.4,128.7L548.7,128.7L549.0,128.6L549.3,128.6L549.6,128.6L549.9,128.6L550.2,128.6L550.5,128.6L550.8,128.6L551.1,128.6L551.4,128.6L551.7,128.6L552.0,128.6L552.3,128.6L552.6,128.6L552.9,128.6L553.2,128.5L553.5,128.5L553.8,128.5L554.1,128.5L554.4,128.5L554.7,128.5L555.0,128.5L555.3,128.5L555.6,128.5L555.9,128.5L556.2,128.4L556.5,128.4L556.8,128.4L557.1,128.4L557.4,128.4L557.7,128.3L558.0,128.3L558.3,128.3L558.6,128.3L558.9,128.2L559.2,128.2L559.5,128.2L559.8,128.2L560.1,128.1L560.4,128.1L560.7,128.1L561.0,128.0L561.3,128.0L561.6,127.9L561.9,127.9L562.2,127.9L562.5,127.8L562.8,127.8L563.1,127.7L563.4,127.7L563.7,127.6L564.0,127.6L564.3,127.6L564.6,127.5L564.9,127.4L565.2,127.4L565.5,127.3L565.8,127.2L566.1,127.1L566.4,127.0L566.7,126.9L567.0,126.8L567.3,126.7L567.6,126.6L567.9,126.5L568.2,126.3L568.5,126.2L568.8,126.1L569.1,125.9L569.4,125.8L569.7,125.6L570.0,125.4L570.3,125.3L570.6,125.1L570.9,124.9L571.2,124.7L571.5,124.6L571.8,124.4L572.1,124.2L572.4,124.0L572.7,123.8L573.0,123.6L573.3,123.3L573.6,123.1L573.9,122.8L574.2,122.6L574.5,122.3L574.8,122.0L575.1,121.7L575.4,121.4L575.7,121.0L576.0,120.7L576.3,120.4L576.6,120.0L576.9,119.7L577.2,119.3L577.5,119.0L577.8,118.6L578.1,118.2L578.4,117.9L578.7,117.5L579.0,117.0L579.3,116.6L579.6,116.1L579.9,115.6L580.2,115.1L580.5,114.5L580.8,114.0L581.1,113.5L581.4,113.0L581.7,112.5L582.0,112.0L582.3,111.6L582.6,111.2L582.9,110.8L583.2,110.5L583.5,110.2L583.8,109.9L584.1,109.6L584.4,109.3L584.7,109.0L585.0,108.8L585.3,108.5L585.6,108.3L585.9,108.0L586.2,107.9L586.5,107.7L586.8,107.6L587.1,107.5L587.4,107.4L587.7,107.4L588.0,107.4L588.3,107.5L588.6,107.6L588.9,107.8L589.2,108.0L589.5,108.2L589.8,108.4L590.1,108.7L590.4,109.0L590.7,109.3L591.0,109.6L591.3,109.9L591.6,110.2L591.9,110.5L592.2,110.9L592.5,111.3L592.8,111.8L593.1,112.3L593.4,112.8L593.7,113.3L594.0,113.9L594.3,114.5L594.6,115.1L594.9,115.7L595.2,116.3L595.5,116.9L595.8,117.5L596.1,118.0L596.4,118.5L596.7,118.9L597.0,119.3L597.3,119.7L597.6,120.1L597.9,120.4L598.2,120.8L598.5,121.1L598.8,121.4L599.1,121.8L599.4,122.1L599.7,122.3L600.0,122.6L600.3,122.8L600.6,123.0L600.9,123.2L601.2,123.4L601.5,123.5L601.8,123.7L602.1,123.8L602.4,124.0L602.7,124.1L603.0,124.2L603.3,124.3L603.6,124.4L603.9,124.6L604.2,124.7L604.5,124.8L604.8,124.9L605.1,124.9L605.4,125.0L605.7,125.1L606.0,125.2L606.3,125.3L606.6,125.3L606.9,125.4L607.2,125.5L607.5,125.5L607.8,125.6L608.1,125.6L608.4,125.7L608.7,125.7L609.0,125.8L609.3,125.8L609.6,125.9L609.9,125.9L610.2,125.9L610.5,126.0L610.8,126.0L611.1,126.1L611.4,126.1L611.7,126.1L612.0,126.2L612.3,126.2L612.6,126.2L612.9,126.3L613.2,126.3L613.5,126.3L613.8,126.4L614.1,126.4L614.4,126.4L614.7,126.5L615.0,126.5L615.3,126.5L615.6,126.5L615.9,126.6L616.2,126.6L616.5,126.6L616.8,126.6L617.1,126.7L617.4,126.7L617.7,126.7L618.0,126.7L618.3,126.7L618.6,126.8L618.9,126.8L619.2,126.8L619.5,126.8L619.8,126.8L620.1,126.9L620.4,126.9L620.7,126.9L621.0,126.9L621.3,126.9L621.6,126.9L621.9,126.9L622.2,127.0L622.5,127.0L622.8,127.0L623.1,127.0L623.4,127.0L623.7,127.0L624.0,127.0L624.3,127.1L624.6,127.1L624.9,127.1L625.2,127.1L625.5,127.1L625.8,127.1L626.1,127.1L626.4,127.1L626.7,127.1L627.0,127.2L627.3,127.2L627.6,127.2L627.9,127.2L628.2,127.2L628.5,127.2L628.8,127.2L629.1,127.2L629.4,127.2L629.7,127.2L630.0,127.3L630.3,127.3L630.6,127.3L630.9,127.3L631.2,127.3L631.5,127.3L631.8,127.3L632.1,127.3L632.4,127.3L632.7,127.3L633.0,127.3L633.3,127.4L633.6,127.4L633.9,127.4L634.2,127.4L634.5,127.4L634.8,127.4L635.1,127.4L635.4,127.4L635.7,127.4L636.0,127.4L636.3,127.4L636.6,127.4L636.9,127.5L637.2,127.5L637.5,127.5L637.8,127.5L638.1,127.5L638.4,127.5L638.7,127.5L639.0,127.5L639.3,127.5L639.6,127.5L639.9,127.5L640.2,127.5L640.5,127.5L640.8,127.5L641.1,127.5L641.4,127.6L641.7,127.6L642.0,127.6L642.3,127.6L642.6,127.6L642.9,127.6L643.2,127.6L643.5,127.6L643.8,127.6L644.1,127.6L644.4,127.6L644.7,127.6L645.0,127.6L645.3,127.6L645.6,127.6L645.9,127.6L646.2,127.6L646.5,127.6L646.8,127.6L647.1,127.7L647.4,127.7L647.7,127.7L648.0,127.7L648.3,127.7L648.6,127.7L648.9,127.7L649.2,127.7L649.5,127.7L649.8,127.7L650.1,127.7L650.4,127.7L650.7,127.7L651.0,127.7L651.3,127.7L651.6,127.7L651.9,127.7L652.2,127.8L652.5,127.8L652.8,127.8L653.1,127.8L653.4,127.8L653.7,127.8L654.0,127.8L654.3,127.8L654.6,127.8L654.9,127.8L655.2,127.8L655.5,127.8L655.8,127.8L656.1,127.9L656.4,127.9L656.7,127.9L657.0,127.9L657.3,127.9L657.6,127.9L657.9,127.9L658.2,127.9L658.5,127.9L658.8,128.0L659.1,128.0L659.4,128.0L659.7,128.0L660.0,128.0L660.3,128.0L660.6,128.0L660.9,128.0L661.2,128.1L661.5,128.1L661.8,128.1L662.1,128.1L662.4,128.1L662.7,128.1L663.0,128.2L663.3,128.2L663.6,128.2L663.9,128.2L664.2,128.2L664.5,128.3L664.8,128.3L665.1,128.3L665.4,128.3L665.7,128.3L666.0,128.3L666.3,128.4L666.6,128.4L666.9,128.4L667.2,128.4L667.5,128.5L667.8,128.5L668.1,128.5L668.4,128.5L668.7,128.5L669.0,128.6L669.3,128.6L669.6,128.6L669.9,128.6L670.2,128.7L670.5,128.7L670.8,128.7L671.1,128.7L671.4,128.8L671.7,128.8L672.0,128.8L672.3,128.8L672.6,128.9L672.9,128.9L673.2,128.9L673.5,128.9L673.8,129.0L674.1,129.0L674.4,129.0L674.7,129.0L675.0,129.1L675.3,129.1L675.6,129.1L675.9,129.1L676.2,129.2L676.5,129.2" stroke="#000000" stroke-width="1.7" fill="none" stroke-linejoin="round"/>
<rect x="515.5" y="9.4" width="161.3" height="123.1" fill="none" stroke="#222" stroke-width="1"/>
<path d="M515.5,132.5v-3.0M515.5,9.4v3.0M555.83,132.5v-3.0M555.83,9.4v3.0M596.15,132.5v-3.0M596.15,9.4v3.0M636.47,132.5v-3.0M636.47,9.4v3.0M676.8,132.5v-3.0M676.8,9.4v3.0M535.66,132.5v-1.8M535.66,9.4v1.8M575.99,132.5v-1.8M575.99,9.4v1.8M616.31,132.5v-1.8M616.31,9.4v1.8M656.64,132.5v-1.8M656.64,9.4v1.8" stroke="#222" stroke-width="1" fill="none"/>
<text x="515.65" y="144.9" text-anchor="middle" letter-spacing="0.3">550</text>
<text x="555.98" y="144.9" text-anchor="middle" letter-spacing="0.3">600</text>
<text x="596.3" y="144.9" text-anchor="middle" letter-spacing="0.3">650</text>
<text x="636.62" y="144.9" text-anchor="middle" letter-spacing="0.3">700</text>
<text x="676.95" y="144.9" text-anchor="middle" letter-spacing="0.3">750</text>
<path d="M515.5,132.5h3.0M676.8,132.5h-3.0M515.5,103.29h3.0M676.8,103.29h-3.0M515.5,74.09h3.0M676.8,74.09h-3.0M515.5,44.88h3.0M676.8,44.88h-3.0M515.5,15.68h3.0M676.8,15.68h-3.0M515.5,117.9h1.8M676.8,117.9h-1.8M515.5,88.69h1.8M676.8,88.69h-1.8M515.5,59.49h1.8M676.8,59.49h-1.8M515.5,30.28h1.8M676.8,30.28h-1.8" stroke="#222" stroke-width="1" fill="none"/>
<text x="510.7" y="107.69" text-anchor="end">2 × 10<tspan font-size="7.2" dy="-4.0">4</tspan></text>
<text x="510.7" y="78.49" text-anchor="end">4 × 10<tspan font-size="7.2" dy="-4.0">4</tspan></text>
<text x="510.7" y="49.28" text-anchor="end">6 × 10<tspan font-size="7.2" dy="-4.0">4</tspan></text>
<text x="510.7" y="20.08" text-anchor="end">8 × 10<tspan font-size="7.2" dy="-4.0">4</tspan></text>
<text x="510.7" y="135.9" text-anchor="end">0</text>
<text transform="translate(468.7,69.9) rotate(-90)" text-anchor="middle" font-size="10.15">Intensity (a.u.)</text>
<text x="596.2" y="159.2" text-anchor="middle" font-size="10.15">Wavelength (nm)</text>
<text x="460.3" y="7.5" font-weight="bold" font-size="14.6" fill="#000">e</text>
<text x="535" y="28.6">TE</text>
<path d="M615.5,21.6H640.6" stroke="#000000" stroke-width="1.5"/>
<text x="644.5" y="24.9" font-family="Liberation Serif" font-style="italic" font-size="8.9">θ</text>
<text x="651.3" y="25.4" font-size="8.6">=</text>
<text x="659.1" y="24.9" font-size="8.6">30</text>
<text x="668.9" y="24.9" font-size="8.6">°</text>
<path d="M615.5,36.5H640.6" stroke="#ff0000" stroke-width="1.5"/>
<text x="644.5" y="39.8" font-family="Liberation Serif" font-style="italic" font-size="8.9">θ</text>
<text x="651.3" y="40.3" font-size="8.6">=</text>
<text x="659.1" y="39.8" font-size="8.6">45</text>
<text x="668.9" y="39.8" font-size="8.6">°</text>
<path d="M615.5,51.3H640.6" stroke="#0000ff" stroke-width="1.5"/>
<text x="644.5" y="54.6" font-family="Liberation Serif" font-style="italic" font-size="8.9">θ</text>
<text x="651.3" y="55.1" font-size="8.6">=</text>
<text x="659.1" y="54.6" font-size="8.6">55</text>
<text x="668.9" y="54.6" font-size="8.6">°</text>
<path d="M515.4,301.9L515.7,301.9L516.0,301.9L516.3,301.9L516.6,301.9L516.9,301.9L517.2,301.9L517.5,301.9L517.8,301.9L518.1,301.8L518.4,301.8L518.7,301.8L519.0,301.8L519.3,301.8L519.6,301.8L519.9,301.8L520.2,301.7L520.5,301.7L520.8,301.7L521.1,301.7L521.4,301.7L521.7,301.6L522.0,301.6L522.3,301.6L522.6,301.6L522.9,301.5L523.2,301.5L523.5,301.5L523.8,301.5L524.1,301.4L524.4,301.4L524.7,301.4L525.0,301.3L525.3,301.3L525.6,301.3L525.9,301.2L526.2,301.2L526.5,301.2L526.8,301.1L527.1,301.1L527.4,301.1L527.7,301.0L528.0,301.0L528.3,301.0L528.6,300.9L528.9,300.9L529.2,300.8L529.5,300.8L529.8,300.8L530.1,300.7L530.4,300.6L530.7,300.5L531.0,300.5L531.3,300.4L531.6,300.2L531.9,300.1L532.2,300.0L532.5,299.9L532.8,299.8L533.1,299.6L533.4,299.5L533.7,299.3L534.0,299.2L534.3,299.1L534.6,298.9L534.9,298.8L535.2,298.7L535.5,298.5L535.8,298.4L536.1,298.3L536.4,298.2L536.7,298.1L537.0,298.0L537.3,297.9L537.6,297.9L537.9,297.8L538.2,297.8L538.5,297.7L538.8,297.7L539.1,297.7L539.4,297.8L539.7,298.0L540.0,298.2L540.3,298.5L540.6,298.8L540.9,299.2L541.2,299.6L541.5,300.0L541.8,300.3L542.1,300.6L542.4,300.8L542.7,301.0L543.0,301.1L543.3,301.1L543.6,301.1L543.9,301.1L544.2,301.1L544.5,301.1L544.8,301.1L545.1,301.1L545.4,301.1L545.7,301.1L546.0,301.0L546.3,301.0L546.6,301.0L546.9,301.0L547.2,301.0L547.5,301.0L547.8,301.0L548.1,301.0L548.4,300.9L548.7,300.9L549.0,300.9L549.3,300.9L549.6,300.9L549.9,300.8L550.2,300.8L550.5,300.8L550.8,300.8L551.1,300.7L551.4,300.7L551.7,300.7L552.0,300.6L552.3,300.6L552.6,300.6L552.9,300.5L553.2,300.5L553.5,300.5L553.8,300.4L554.1,300.4L554.4,300.4L554.7,300.3L555.0,300.3L555.3,300.3L555.6,300.2L555.9,300.2L556.2,300.1L556.5,300.1L556.8,300.0L557.1,300.0L557.4,300.0L557.7,299.9L558.0,299.9L558.3,299.8L558.6,299.8L558.9,299.7L559.2,299.7L559.5,299.6L559.8,299.6L560.1,299.5L560.4,299.5L560.7,299.4L561.0,299.4L561.3,299.3L561.6,299.2L561.9,299.2L562.2,299.1L562.5,299.1L562.8,299.0L563.1,298.9L563.4,298.9L563.7,298.8L564.0,298.8L564.3,298.7L564.6,298.6L564.9,298.6L565.2,298.5L565.5,298.4L565.8,298.3L566.1,298.2L566.4,298.1L566.7,297.9L567.0,297.8L567.3,297.7L567.6,297.5L567.9,297.3L568.2,297.1L568.5,297.0L568.8,296.8L569.1,296.5L569.4,296.3L569.7,296.1L570.0,295.8L570.3,295.5L570.6,295.0L570.9,294.5L571.2,294.0L571.5,293.3L571.8,292.6L572.1,291.9L572.4,291.1L572.7,290.3L573.0,289.4L573.3,288.4L573.6,287.2L573.9,285.9L574.2,284.6L574.5,283.2L574.8,281.7L575.1,280.2L575.4,278.8L575.7,277.3L576.0,275.8L576.3,274.2L576.6,272.5L576.9,270.9L577.2,269.2L577.5,267.5L577.8,265.9L578.1,264.4L578.4,262.8L578.7,261.3L579.0,259.7L579.3,258.0L579.6,256.2L579.9,254.3L580.2,252.2L580.5,249.8L580.8,247.3L581.1,244.6L581.4,242.0L581.7,239.3L582.0,236.8L582.3,234.5L582.6,232.3L582.9,230.5L583.2,229.0L583.5,227.4L583.8,225.9L584.1,224.4L584.4,222.9L584.7,221.6L585.0,220.3L585.3,219.3L585.6,218.4L585.9,217.8L586.2,217.5L586.5,217.4L586.8,217.6L587.1,218.0L587.4,218.7L587.7,219.4L588.0,220.4L588.3,221.4L588.6,222.5L588.9,223.6L589.2,224.8L589.5,226.0L589.8,227.3L590.1,228.9L590.4,230.7L590.7,232.7L591.0,234.8L591.3,236.9L591.6,239.1L591.9,241.2L592.2,243.2L592.5,245.0L592.8,246.9L593.1,248.8L593.4,250.6L593.7,252.5L594.0,254.3L594.3,256.0L594.6,257.7L594.9,259.3L595.2,261.0L595.5,262.6L595.8,264.1L596.1,265.6L596.4,267.0L596.7,268.4L597.0,269.6L597.3,270.8L597.6,272.0L597.9,273.1L598.2,274.2L598.5,275.2L598.8,276.3L599.1,277.2L599.4,278.1L599.7,279.0L600.0,279.8L600.3,280.6L600.6,281.3L600.9,281.9L601.2,282.6L601.5,283.2L601.8,283.8L602.1,284.4L602.4,284.9L602.7,285.5L603.0,286.0L603.3,286.5L603.6,287.0L603.9,287.4L604.2,287.8L604.5,288.2L604.8,288.6L605.1,288.9L605.4,289.2L605.7,289.6L606.0,289.9L606.3,290.2L606.6,290.5L606.9,290.8L607.2,291.0L607.5,291.3L607.8,291.6L608.1,291.8L608.4,292.0L608.7,292.3L609.0,292.5L609.3,292.7L609.6,292.9L609.9,293.0L610.2,293.2L610.5,293.4L610.8,293.5L611.1,293.6L611.4,293.8L611.7,293.9L612.0,294.0L612.3,294.1L612.6,294.2L612.9,294.3L613.2,294.4L613.5,294.6L613.8,294.7L614.1,294.7L614.4,294.8L614.7,294.9L615.0,295.0L615.3,295.1L615.6,295.2L615.9,295.3L616.2,295.4L616.5,295.4L616.8,295.5L617.1,295.6L617.4,295.6L617.7,295.7L618.0,295.8L618.3,295.8L618.6,295.9L618.9,296.0L619.2,296.0L619.5,296.1L619.8,296.2L620.1,296.2L620.4,296.3L620.7,296.3L621.0,296.4L621.3,296.5L621.6,296.5L621.9,296.6L622.2,296.6L622.5,296.7L622.8,296.7L623.1,296.8L623.4,296.8L623.7,296.9L624.0,296.9L624.3,297.0L624.6,297.0L624.9,297.1L625.2,297.1L625.5,297.2L625.8,297.2L626.1,297.3L626.4,297.3L626.7,297.4L627.0,297.4L627.3,297.5L627.6,297.5L627.9,297.5L628.2,297.6L628.5,297.6L628.8,297.7L629.1,297.7L629.4,297.8L629.7,297.8L630.0,297.8L630.3,297.9L630.6,297.9L630.9,297.9L631.2,298.0L631.5,298.0L631.8,298.1L632.1,298.1L632.4,298.1L632.7,298.2L633.0,298.2L633.3,298.2L633.6,298.3L633.9,298.3L634.2,298.3L634.5,298.3L634.8,298.4L635.1,298.4L635.4,298.4L635.7,298.5L636.0,298.5L636.3,298.5L636.6,298.5L636.9,298.6L637.2,298.6L637.5,298.6L637.8,298.6L638.1,298.7L638.4,298.7L638.7,298.7L639.0,298.7L639.3,298.7L639.6,298.8L639.9,298.8L640.2,298.8L640.5,298.8L640.8,298.8L641.1,298.9L641.4,298.9L641.7,298.9L642.0,298.9L642.3,298.9L642.6,299.0L642.9,299.0L643.2,299.0L643.5,299.0L643.8,299.0L644.1,299.0L644.4,299.1L644.7,299.1L645.0,299.1L645.3,299.1L645.6,299.1L645.9,299.1L646.2,299.2L646.5,299.2L646.8,299.2L647.1,299.2L647.4,299.2L647.7,299.2L648.0,299.3L648.3,299.3L648.6,299.3L648.9,299.3L649.2,299.3L649.5,299.3L649.8,299.3L650.1,299.4L650.4,299.4L650.7,299.4L651.0,299.4L651.3,299.4L651.6,299.4L651.9,299.5L652.2,299.5L652.5,299.5L652.8,299.5L653.1,299.5L653.4,299.5L653.7,299.5L654.0,299.6L654.3,299.6L654.6,299.6L654.9,299.6L655.2,299.6L655.5,299.7L655.8,299.7L656.1,299.7L656.4,299.7L656.7,299.7L657.0,299.7L657.3,299.8L657.6,299.8L657.9,299.8L658.2,299.8L658.5,299.8L658.8,299.9L659.1,299.9L659.4,299.9L659.7,299.9L660.0,300.0L660.3,300.0L660.6,300.0L660.9,300.0L661.2,300.1L661.5,300.1L661.8,300.1L662.1,300.1L662.4,300.2L662.7,300.2L663.0,300.2L663.3,300.2L663.6,300.3L663.9,300.3L664.2,300.3L664.5,300.3L664.8,300.4L665.1,300.4L665.4,300.4L665.7,300.4L666.0,300.5L666.3,300.5L666.6,300.5L666.9,300.5L667.2,300.6L667.5,300.6L667.8,300.6L668.1,300.7L668.4,300.7L668.7,300.7L669.0,300.7L669.3,300.8L669.6,300.8L669.9,300.8L670.2,300.9L670.5,300.9L670.8,300.9L671.1,300.9L671.4,301.0L671.7,301.0L672.0,301.0L672.3,301.1L672.6,301.1L672.9,301.1L673.2,301.2L673.5,301.2L673.8,301.2L674.1,301.2L674.4,301.3L674.7,301.3L675.0,301.3L675.3,301.4L675.6,301.4L675.9,301.4L676.2,301.5L676.5,301.5" stroke="#0000ff" stroke-width="1.7" fill="none" stroke-linejoin="round"/>
<path d="M515.4,301.5L515.7,301.5L516.0,301.6L516.3,301.6L516.6,301.7L516.9,301.7L517.2,301.7L517.5,301.7L517.8,301.8L518.1,301.8L518.4,301.8L518.7,301.8L519.0,301.8L519.3,301.8L519.6,301.9L519.9,301.9L520.2,301.9L520.5,301.9L520.8,301.9L521.1,301.9L521.4,301.9L521.7,301.9L522.0,301.9L522.3,301.9L522.6,301.9L522.9,301.9L523.2,301.9L523.5,301.9L523.8,301.9L524.1,301.8L524.4,301.8L524.7,301.7L525.0,301.6L525.3,301.4L525.6,301.3L525.9,301.1L526.2,301.0L526.5,300.8L526.8,300.6L527.1,300.4L527.4,300.2L527.7,300.0L528.0,299.9L528.3,299.7L528.6,299.5L528.9,299.3L529.2,299.2L529.5,299.0L529.8,298.9L530.1,298.8L530.4,298.7L530.7,298.7L531.0,298.6L531.3,298.5L531.6,298.5L531.9,298.5L532.2,298.4L532.5,298.4L532.8,298.3L533.1,298.3L533.4,298.3L533.7,298.2L534.0,298.2L534.3,298.1L534.6,298.0L534.9,297.9L535.2,297.8L535.5,297.6L535.8,297.4L536.1,297.1L536.4,296.9L536.7,296.6L537.0,296.4L537.3,296.2L537.6,296.0L537.9,295.9L538.2,295.9L538.5,296.0L538.8,296.1L539.1,296.3L539.4,296.6L539.7,297.0L540.0,297.4L540.3,297.8L540.6,298.2L540.9,298.7L541.2,299.1L541.5,299.5L541.8,299.9L542.1,300.2L542.4,300.5L542.7,300.7L543.0,300.8L543.3,300.8L543.6,300.8L543.9,300.8L544.2,300.9L544.5,300.9L544.8,300.9L545.1,300.9L545.4,300.9L545.7,300.9L546.0,300.9L546.3,300.9L546.6,300.9L546.9,301.0L547.2,301.0L547.5,301.0L547.8,301.0L548.1,301.0L548.4,301.0L548.7,301.0L549.0,301.0L549.3,301.0L549.6,301.0L549.9,301.0L550.2,301.0L550.5,301.0L550.8,301.0L551.1,301.1L551.4,301.1L551.7,301.1L552.0,301.1L552.3,301.1L552.6,301.1L552.9,301.1L553.2,301.1L553.5,301.1L553.8,301.1L554.1,301.1L554.4,301.1L554.7,301.1L555.0,301.1L555.3,301.1L555.6,301.1L555.9,301.1L556.2,301.1L556.5,301.1L556.8,301.1L557.1,301.1L557.4,301.1L557.7,301.1L558.0,301.1L558.3,301.1L558.6,301.1L558.9,301.1L559.2,301.0L559.5,301.0L559.8,301.0L560.1,301.0L560.4,300.9L560.7,300.9L561.0,300.9L561.3,300.9L561.6,300.8L561.9,300.8L562.2,300.7L562.5,300.7L562.8,300.7L563.1,300.6L563.4,300.6L563.7,300.5L564.0,300.4L564.3,300.4L564.6,300.3L564.9,300.3L565.2,300.2L565.5,300.1L565.8,300.1L566.1,300.0L566.4,299.9L566.7,299.9L567.0,299.8L567.3,299.7L567.6,299.6L567.9,299.6L568.2,299.5L568.5,299.4L568.8,299.3L569.1,299.2L569.4,299.0L569.7,298.9L570.0,298.7L570.3,298.5L570.6,298.2L570.9,298.0L571.2,297.7L571.5,297.5L571.8,297.2L572.1,296.9L572.4,296.5L572.7,296.2L573.0,295.9L573.3,295.5L573.6,295.1L573.9,294.8L574.2,294.4L574.5,293.9L574.8,293.4L575.1,292.9L575.4,292.2L575.7,291.6L576.0,290.9L576.3,290.2L576.6,289.4L576.9,288.7L577.2,287.9L577.5,287.2L577.8,286.5L578.1,285.8L578.4,285.1L578.7,284.4L579.0,283.7L579.3,282.9L579.6,282.2L579.9,281.4L580.2,280.7L580.5,280.0L580.8,279.2L581.1,278.5L581.4,277.8L581.7,277.1L582.0,276.5L582.3,275.9L582.6,275.3L582.9,274.7L583.2,274.1L583.5,273.5L583.8,272.8L584.1,272.2L584.4,271.6L584.7,271.0L585.0,270.5L585.3,270.0L585.6,269.5L585.9,269.2L586.2,268.9L586.5,268.8L586.8,268.7L587.1,268.7L587.4,268.8L587.7,268.9L588.0,269.0L588.3,269.2L588.6,269.4L588.9,269.7L589.2,270.0L589.5,270.3L589.8,270.6L590.1,270.9L590.4,271.3L590.7,271.6L591.0,272.0L591.3,272.5L591.6,273.1L591.9,273.9L592.2,274.8L592.5,275.7L592.8,276.6L593.1,277.5L593.4,278.3L593.7,279.0L594.0,279.6L594.3,280.3L594.6,281.0L594.9,281.6L595.2,282.3L595.5,282.9L595.8,283.5L596.1,284.0L596.4,284.6L596.7,285.1L597.0,285.6L597.3,286.0L597.6,286.5L597.9,286.9L598.2,287.3L598.5,287.8L598.8,288.2L599.1,288.6L599.4,288.9L599.7,289.3L600.0,289.7L600.3,290.0L600.6,290.3L600.9,290.6L601.2,290.9L601.5,291.2L601.8,291.5L602.1,291.7L602.4,292.0L602.7,292.2L603.0,292.5L603.3,292.7L603.6,293.0L603.9,293.2L604.2,293.5L604.5,293.7L604.8,293.9L605.1,294.1L605.4,294.3L605.7,294.5L606.0,294.7L606.3,294.9L606.6,295.0L606.9,295.2L607.2,295.3L607.5,295.5L607.8,295.6L608.1,295.7L608.4,295.8L608.7,295.9L609.0,295.9L609.3,296.0L609.6,296.1L609.9,296.1L610.2,296.2L610.5,296.3L610.8,296.3L611.1,296.4L611.4,296.5L611.7,296.5L612.0,296.6L612.3,296.6L612.6,296.7L612.9,296.7L613.2,296.8L613.5,296.8L613.8,296.8L614.1,296.9L614.4,296.9L614.7,297.0L615.0,297.0L615.3,297.0L615.6,297.1L615.9,297.1L616.2,297.2L616.5,297.2L616.8,297.2L617.1,297.3L617.4,297.3L617.7,297.3L618.0,297.4L618.3,297.4L618.6,297.4L618.9,297.5L619.2,297.5L619.5,297.5L619.8,297.6L620.1,297.6L620.4,297.6L620.7,297.7L621.0,297.7L621.3,297.8L621.6,297.8L621.9,297.8L622.2,297.9L622.5,297.9L622.8,297.9L623.1,298.0L623.4,298.0L623.7,298.0L624.0,298.1L624.3,298.1L624.6,298.1L624.9,298.2L625.2,298.2L625.5,298.2L625.8,298.2L626.1,298.3L626.4,298.3L626.7,298.3L627.0,298.4L627.3,298.4L627.6,298.4L627.9,298.5L628.2,298.5L628.5,298.5L628.8,298.5L629.1,298.6L629.4,298.6L629.7,298.6L630.0,298.7L630.3,298.7L630.6,298.7L630.9,298.7L631.2,298.8L631.5,298.8L631.8,298.8L632.1,298.8L632.4,298.9L632.7,298.9L633.0,298.9L633.3,299.0L633.6,299.0L633.9,299.0L634.2,299.0L634.5,299.1L634.8,299.1L635.1,299.1L635.4,299.1L635.7,299.2L636.0,299.2L636.3,299.2L636.6,299.2L636.9,299.3L637.2,299.3L637.5,299.3L637.8,299.3L638.1,299.4L638.4,299.4L638.7,299.4L639.0,299.4L639.3,299.5L639.6,299.5L639.9,299.5L640.2,299.5L640.5,299.5L640.8,299.6L641.1,299.6L641.4,299.6L641.7,299.6L642.0,299.7L642.3,299.7L642.6,299.7L642.9,299.7L643.2,299.7L643.5,299.8L643.8,299.8L644.1,299.8L644.4,299.8L644.7,299.8L645.0,299.9L645.3,299.9L645.6,299.9L645.9,299.9L646.2,299.9L646.5,300.0L646.8,300.0L647.1,300.0L647.4,300.0L647.7,300.0L648.0,300.1L648.3,300.1L648.6,300.1L648.9,300.1L649.2,300.1L649.5,300.2L649.8,300.2L650.1,300.2L650.4,300.2L650.7,300.2L651.0,300.3L651.3,300.3L651.6,300.3L651.9,300.3L652.2,300.4L652.5,300.4L652.8,300.4L653.1,300.4L653.4,300.4L653.7,300.5L654.0,300.5L654.3,300.5L654.6,300.5L654.9,300.6L655.2,300.6L655.5,300.6L655.8,300.6L656.1,300.6L656.4,300.7L656.7,300.7L657.0,300.7L657.3,300.7L657.6,300.8L657.9,300.8L658.2,300.8L658.5,300.8L658.8,300.9L659.1,300.9L659.4,300.9L659.7,300.9L660.0,301.0L660.3,301.0L660.6,301.0L660.9,301.1L661.2,301.1L661.5,301.1L661.8,301.1L662.1,301.2L662.4,301.2L662.7,301.2L663.0,301.2L663.3,301.3L663.6,301.3L663.9,301.3L664.2,301.4L664.5,301.4L664.8,301.4L665.1,301.5L665.4,301.5L665.7,301.5L666.0,301.5L666.3,301.6L666.6,301.6L666.9,301.6L667.2,301.7L667.5,301.7L667.8,301.7L668.1,301.8L668.4,301.8L668.7,301.8L669.0,301.9L669.3,301.9L669.6,301.9L669.9,302.0L670.2,302.0L670.5,302.0L670.8,302.1L671.1,302.1L671.4,302.1L671.7,302.2L672.0,302.2L672.3,302.2L672.6,302.3L672.9,302.3L673.2,302.3L673.5,302.4L673.8,302.4L674.1,302.4L674.4,302.5L674.7,302.5L675.0,302.5L675.3,302.6L675.6,302.6L675.9,302.6L676.2,302.7L676.5,302.7" stroke="#ff0000" stroke-width="1.7" fill="none" stroke-linejoin="round"/>
<path d="M515.4,302.2L515.7,302.1L516.0,302.0L516.3,301.9L516.6,301.8L516.9,301.7L517.2,301.6L517.5,301.6L517.8,301.5L518.1,301.5L518.4,301.5L518.7,301.5L519.0,301.5L519.3,301.6L519.6,301.7L519.9,301.8L520.2,301.9L520.5,302.0L520.8,302.1L521.1,302.3L521.4,302.4L521.7,302.5L522.0,302.6L522.3,302.7L522.6,302.8L522.9,302.9L523.2,302.9L523.5,302.9L523.8,302.9L524.1,302.9L524.4,302.8L524.7,302.8L525.0,302.8L525.3,302.7L525.6,302.7L525.9,302.6L526.2,302.5L526.5,302.5L526.8,302.4L527.1,302.3L527.4,302.3L527.7,302.2L528.0,302.1L528.3,302.0L528.6,302.0L528.9,301.9L529.2,301.8L529.5,301.6L529.8,301.5L530.1,301.4L530.4,301.3L530.7,301.2L531.0,301.1L531.3,301.0L531.6,300.9L531.9,300.8L532.2,300.7L532.5,300.6L532.8,300.6L533.1,300.5L533.4,300.4L533.7,300.4L534.0,300.3L534.3,300.2L534.6,300.1L534.9,300.1L535.2,300.0L535.5,299.9L535.8,299.8L536.1,299.7L536.4,299.6L536.7,299.4L537.0,299.2L537.3,299.0L537.6,298.7L537.9,298.5L538.2,298.3L538.5,298.1L538.8,297.9L539.1,297.8L539.4,297.7L539.7,297.7L540.0,297.8L540.3,298.0L540.6,298.3L540.9,298.6L541.2,299.0L541.5,299.4L541.8,299.8L542.1,300.1L542.4,300.4L542.7,300.7L543.0,300.8L543.3,300.8L543.6,300.8L543.9,300.9L544.2,300.9L544.5,300.9L544.8,300.9L545.1,301.0L545.4,301.0L545.7,301.0L546.0,301.0L546.3,301.0L546.6,301.0L546.9,301.0L547.2,301.1L547.5,301.1L547.8,301.1L548.1,301.1L548.4,301.1L548.7,301.1L549.0,301.1L549.3,301.1L549.6,301.1L549.9,301.1L550.2,301.1L550.5,301.1L550.8,301.1L551.1,301.1L551.4,301.1L551.7,301.1L552.0,301.0L552.3,301.0L552.6,301.0L552.9,301.0L553.2,301.0L553.5,300.9L553.8,300.9L554.1,300.9L554.4,300.9L554.7,300.8L555.0,300.8L555.3,300.7L555.6,300.7L555.9,300.7L556.2,300.6L556.5,300.6L556.8,300.6L557.1,300.5L557.4,300.5L557.7,300.4L558.0,300.3L558.3,300.3L558.6,300.2L558.9,300.1L559.2,300.0L559.5,299.9L559.8,299.7L560.1,299.6L560.4,299.5L560.7,299.4L561.0,299.3L561.3,299.2L561.6,299.1L561.9,299.0L562.2,298.9L562.5,298.8L562.8,298.7L563.1,298.6L563.4,298.6L563.7,298.5L564.0,298.5L564.3,298.4L564.6,298.4L564.9,298.3L565.2,298.3L565.5,298.2L565.8,298.2L566.1,298.2L566.4,298.1L566.7,298.1L567.0,298.0L567.3,298.0L567.6,297.9L567.9,297.8L568.2,297.8L568.5,297.7L568.8,297.6L569.1,297.5L569.4,297.4L569.7,297.3L570.0,297.2L570.3,297.1L570.6,297.0L570.9,296.9L571.2,296.7L571.5,296.6L571.8,296.4L572.1,296.3L572.4,296.1L572.7,295.9L573.0,295.7L573.3,295.4L573.6,295.1L573.9,294.8L574.2,294.4L574.5,294.0L574.8,293.6L575.1,293.1L575.4,292.7L575.7,292.2L576.0,291.7L576.3,291.2L576.6,290.8L576.9,290.3L577.2,289.8L577.5,289.3L577.8,288.8L578.1,288.2L578.4,287.7L578.7,287.1L579.0,286.5L579.3,285.9L579.6,285.3L579.9,284.7L580.2,284.2L580.5,283.6L580.8,283.0L581.1,282.5L581.4,282.0L581.7,281.5L582.0,280.9L582.3,280.4L582.6,279.9L582.9,279.4L583.2,278.9L583.5,278.3L583.8,277.9L584.1,277.4L584.4,276.9L584.7,276.5L585.0,276.0L585.3,275.6L585.6,275.2L585.9,274.8L586.2,274.4L586.5,273.9L586.8,273.5L587.1,273.1L587.4,272.8L587.7,272.6L588.0,272.4L588.3,272.4L588.6,272.5L588.9,272.6L589.2,272.7L589.5,273.0L589.8,273.2L590.1,273.5L590.4,273.8L590.7,274.2L591.0,274.6L591.3,275.0L591.6,275.4L591.9,275.8L592.2,276.4L592.5,277.1L592.8,277.9L593.1,278.7L593.4,279.4L593.7,280.0L594.0,280.7L594.3,281.4L594.6,282.1L594.9,282.7L595.2,283.4L595.5,284.0L595.8,284.6L596.1,285.2L596.4,285.7L596.7,286.2L597.0,286.6L597.3,287.0L597.6,287.4L597.9,287.8L598.2,288.2L598.5,288.5L598.8,288.8L599.1,289.2L599.4,289.5L599.7,289.7L600.0,290.0L600.3,290.3L600.6,290.5L600.9,290.8L601.2,291.0L601.5,291.2L601.8,291.4L602.1,291.6L602.4,291.8L602.7,292.0L603.0,292.2L603.3,292.3L603.6,292.5L603.9,292.7L604.2,292.8L604.5,293.0L604.8,293.1L605.1,293.3L605.4,293.4L605.7,293.6L606.0,293.7L606.3,293.8L606.6,293.9L606.9,294.1L607.2,294.2L607.5,294.3L607.8,294.4L608.1,294.5L608.4,294.6L608.7,294.7L609.0,294.7L609.3,294.8L609.6,294.9L609.9,295.0L610.2,295.1L610.5,295.2L610.8,295.2L611.1,295.3L611.4,295.4L611.7,295.5L612.0,295.5L612.3,295.6L612.6,295.7L612.9,295.7L613.2,295.8L613.5,295.9L613.8,295.9L614.1,296.0L614.4,296.0L614.7,296.1L615.0,296.2L615.3,296.2L615.6,296.3L615.9,296.3L616.2,296.4L616.5,296.4L616.8,296.5L617.1,296.5L617.4,296.6L617.7,296.6L618.0,296.6L618.3,296.7L618.6,296.7L618.9,296.8L619.2,296.8L619.5,296.8L619.8,296.9L620.1,296.9L620.4,296.9L620.7,297.0L621.0,297.0L621.3,297.0L621.6,297.1L621.9,297.1L622.2,297.1L622.5,297.2L622.8,297.2L623.1,297.2L623.4,297.2L623.7,297.3L624.0,297.3L624.3,297.3L624.6,297.3L624.9,297.3L625.2,297.4L625.5,297.4L625.8,297.4L626.1,297.4L626.4,297.5L626.7,297.5L627.0,297.5L627.3,297.5L627.6,297.5L627.9,297.6L628.2,297.6L628.5,297.6L628.8,297.6L629.1,297.6L629.4,297.7L629.7,297.7L630.0,297.7L630.3,297.7L630.6,297.7L630.9,297.7L631.2,297.8L631.5,297.8L631.8,297.8L632.1,297.8L632.4,297.8L632.7,297.9L633.0,297.9L633.3,297.9L633.6,297.9L633.9,297.9L634.2,298.0L634.5,298.0L634.8,298.0L635.1,298.0L635.4,298.0L635.7,298.1L636.0,298.1L636.3,298.1L636.6,298.1L636.9,298.2L637.2,298.2L637.5,298.2L637.8,298.2L638.1,298.2L638.4,298.3L638.7,298.3L639.0,298.3L639.3,298.3L639.6,298.4L639.9,298.4L640.2,298.4L640.5,298.4L640.8,298.4L641.1,298.5L641.4,298.5L641.7,298.5L642.0,298.5L642.3,298.6L642.6,298.6L642.9,298.6L643.2,298.6L643.5,298.7L643.8,298.7L644.1,298.7L644.4,298.7L644.7,298.7L645.0,298.8L645.3,298.8L645.6,298.8L645.9,298.8L646.2,298.9L646.5,298.9L646.8,298.9L647.1,298.9L647.4,299.0L647.7,299.0L648.0,299.0L648.3,299.0L648.6,299.0L648.9,299.1L649.2,299.1L649.5,299.1L649.8,299.1L650.1,299.2L650.4,299.2L650.7,299.2L651.0,299.2L651.3,299.3L651.6,299.3L651.9,299.3L652.2,299.3L652.5,299.3L652.8,299.4L653.1,299.4L653.4,299.4L653.7,299.4L654.0,299.5L654.3,299.5L654.6,299.5L654.9,299.5L655.2,299.6L655.5,299.6L655.8,299.6L656.1,299.6L656.4,299.7L656.7,299.7L657.0,299.7L657.3,299.7L657.6,299.8L657.9,299.8L658.2,299.8L658.5,299.8L658.8,299.9L659.1,299.9L659.4,299.9L659.7,299.9L660.0,300.0L660.3,300.0L660.6,300.0L660.9,300.0L661.2,300.1L661.5,300.1L661.8,300.1L662.1,300.2L662.4,300.2L662.7,300.2L663.0,300.2L663.3,300.3L663.6,300.3L663.9,300.3L664.2,300.3L664.5,300.4L664.8,300.4L665.1,300.4L665.4,300.4L665.7,300.5L666.0,300.5L666.3,300.5L666.6,300.6L666.9,300.6L667.2,300.6L667.5,300.6L667.8,300.7L668.1,300.7L668.4,300.7L668.7,300.8L669.0,300.8L669.3,300.8L669.6,300.8L669.9,300.9L670.2,300.9L670.5,300.9L670.8,300.9L671.1,301.0L671.4,301.0L671.7,301.0L672.0,301.1L672.3,301.1L672.6,301.1L672.9,301.1L673.2,301.2L673.5,301.2L673.8,301.2L674.1,301.3L674.4,301.3L674.7,301.3L675.0,301.4L675.3,301.4L675.6,301.4L675.9,301.4L676.2,301.5L676.5,301.5" stroke="#000000" stroke-width="1.7" fill="none" stroke-linejoin="round"/>
<rect x="515.5" y="182.1" width="161.3" height="123.3" fill="none" stroke="#222" stroke-width="1"/>
<path d="M515.5,305.4v-3.0M515.5,182.1v3.0M555.83,305.4v-3.0M555.83,182.1v3.0M596.15,305.4v-3.0M596.15,182.1v3.0M636.47,305.4v-3.0M636.47,182.1v3.0M676.8,305.4v-3.0M676.8,182.1v3.0M535.66,305.4v-1.8M535.66,182.1v1.8M575.99,305.4v-1.8M575.99,182.1v1.8M616.31,305.4v-1.8M616.31,182.1v1.8M656.64,305.4v-1.8M656.64,182.1v1.8" stroke="#222" stroke-width="1" fill="none"/>
<text x="515.65" y="317.8" text-anchor="middle" letter-spacing="0.3">550</text>
<text x="555.98" y="317.8" text-anchor="middle" letter-spacing="0.3">600</text>
<text x="596.3" y="317.8" text-anchor="middle" letter-spacing="0.3">650</text>
<text x="636.62" y="317.8" text-anchor="middle" letter-spacing="0.3">700</text>
<text x="676.95" y="317.8" text-anchor="middle" letter-spacing="0.3">750</text>
<path d="M515.5,305.4h3.0M676.8,305.4h-3.0M515.5,264.3h3.0M676.8,264.3h-3.0M515.5,223.2h3.0M676.8,223.2h-3.0M515.5,182.1h3.0M676.8,182.1h-3.0M515.5,284.85h1.8M676.8,284.85h-1.8M515.5,243.75h1.8M676.8,243.75h-1.8M515.5,202.65h1.8M676.8,202.65h-1.8" stroke="#222" stroke-width="1" fill="none"/>
<text x="510.7" y="267.7" text-anchor="end">1 × 10<tspan font-size="7.2" dy="-4.0">4</tspan></text>
<text x="510.7" y="226.6" text-anchor="end">2 × 10<tspan font-size="7.2" dy="-4.0">4</tspan></text>
<text x="510.7" y="185.5" text-anchor="end">3 × 10<tspan font-size="7.2" dy="-4.0">4</tspan></text>
<text x="510.7" y="308.8" text-anchor="end">0</text>
<text transform="translate(468.7,243.7) rotate(-90)" text-anchor="middle" font-size="10.15">Intensity (a.u.)</text>
<text x="596.2" y="331.4" text-anchor="middle" font-size="10.15">Wavelength (nm)</text>
<text x="460.6" y="179.5" font-weight="bold" font-size="14.6" fill="#000">f</text>
<text x="535.6" y="201">TM</text>
<path d="M615.8,194H640.6" stroke="#000000" stroke-width="1.5"/>
<text x="644.5" y="197.3" font-family="Liberation Serif" font-style="italic" font-size="8.9">θ</text>
<text x="651.3" y="197.8" font-size="8.6">=</text>
<text x="659.1" y="197.3" font-size="8.6">30</text>
<text x="668.9" y="197.3" font-size="8.6">°</text>
<path d="M615.8,208.8H640.6" stroke="#ff0000" stroke-width="1.5"/>
<text x="644.5" y="212.1" font-family="Liberation Serif" font-style="italic" font-size="8.9">θ</text>
<text x="651.3" y="212.6" font-size="8.6">=</text>
<text x="659.1" y="212.1" font-size="8.6">45</text>
<text x="668.9" y="212.1" font-size="8.6">°</text>
<path d="M615.8,223.6H640.6" stroke="#0000ff" stroke-width="1.5"/>
<text x="644.5" y="226.9" font-family="Liberation Serif" font-style="italic" font-size="8.9">θ</text>
<text x="651.3" y="227.4" font-size="8.6">=</text>
<text x="659.1" y="226.9" font-size="8.6">55</text>
<text x="668.9" y="226.9" font-size="8.6">°</text>
</svg></body></html>
